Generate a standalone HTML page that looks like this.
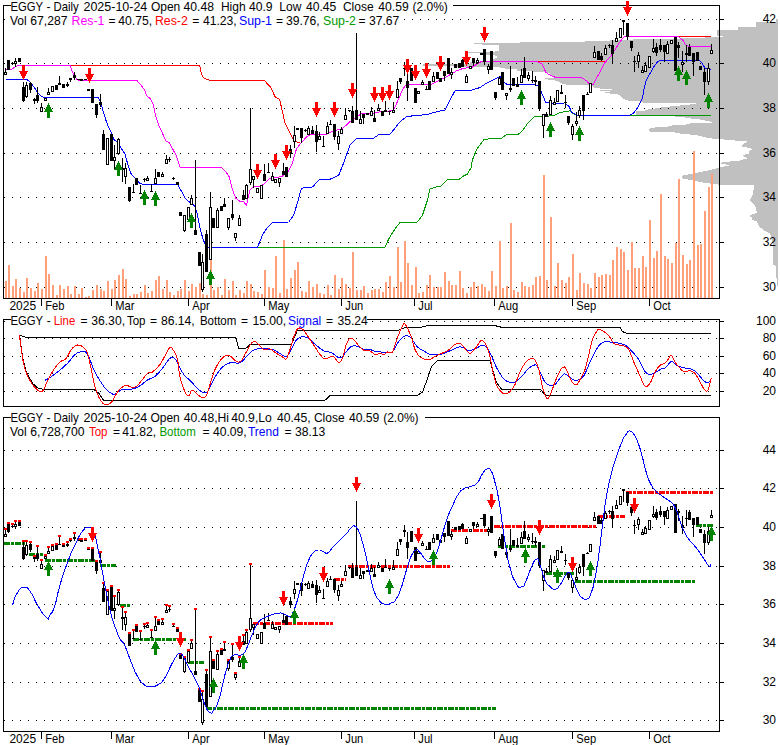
<!DOCTYPE html>
<html><head><meta charset="utf-8"><title>EGGY chart</title>
<style>html,body{margin:0;padding:0;background:#fff}svg{display:block}</style></head>
<body>
<svg width="780" height="745" viewBox="0 0 780 745" shape-rendering="crispEdges">
<rect width="780" height="745" fill="#fff"/>
<path d="M776 19H778V20H776ZM776 20H778V21H776ZM776 21H778V22H776ZM756 22H778V23H756ZM756 23H778V24H756ZM756 24H778V25H756ZM756 25H778V26H756ZM756 26H778V27H756ZM738 27H778V28H738ZM738 28H778V29H738ZM738 29H778V30H738ZM717 30H778V31H717ZM717 31H778V32H717ZM717 32H778V33H717ZM717 33H778V34H717ZM717 34H778V35H717ZM717 35H778V36H717ZM723 36H778V37H723ZM705 37H778V38H705ZM680 38H778V39H680ZM633 39H778V40H633ZM610 40H778V41H610ZM585 41H778V42H585ZM520 42H778V43H520ZM474 43H778V44H474ZM482 44H778V45H482ZM499 45H778V46H499ZM499 46H778V47H499ZM499 47H778V48H499ZM499 48H778V49H499ZM499 49H778V50H499ZM499 50H778V51H499ZM495 51H778V52H495ZM468 52H778V53H468ZM481 53H778V54H481ZM481 54H778V55H481ZM495 55H778V56H495ZM497 56H778V57H497ZM497 57H778V58H497ZM495 58H778V59H495ZM493 59H778V60H493ZM490 60H778V61H490ZM480 61H778V62H480ZM470 62H778V63H470ZM470 63H778V64H470ZM423 64H778V65H423ZM423 65H778V66H423ZM455 66H778V67H455ZM500 67H778V68H500ZM505 68H778V69H505ZM517 69H778V70H517ZM517 70H778V71H517ZM533 71H778V72H533ZM545 72H778V73H545ZM550 73H778V74H550ZM550 74H778V75H550ZM552 75H778V76H552ZM555 76H778V77H555ZM555 77H778V78H555ZM545 78H778V79H545ZM548 79H778V80H548ZM555 80H778V81H555ZM558 81H778V82H558ZM560 82H778V83H560ZM562 83H778V84H562ZM566 84H778V85H566ZM590 85H778V86H590ZM593 86H778V87H593ZM594 87H778V88H594ZM600 88H778V89H600ZM612 89H778V90H612ZM600 90H778V91H600ZM610 91H778V92H610ZM605 92H778V93H605ZM610 93H778V94H610ZM618 94H778V95H618ZM620 95H778V96H620ZM621 96H778V97H621ZM622 97H778V98H622ZM623 98H778V99H623ZM625 99H778V100H625ZM628 100H778V101H628ZM641 101H778V102H641ZM643 102H778V103H643ZM696 103H778V104H696ZM690 104H778V105H690ZM680 105H778V106H680ZM670 106H778V107H670ZM661 107H778V108H661ZM655 108H778V109H655ZM648 109H778V110H648ZM645 110H778V111H645ZM636 111H778V112H636ZM636 112H778V113H636ZM636 113H778V114H636ZM636 114H778V115H636ZM636 115H778V116H636ZM675 116H778V117H675ZM685 117H778V118H685ZM691 118H778V119H691ZM700 119H778V120H700ZM705 120H778V121H705ZM710 121H778V122H710ZM712 122H778V123H712ZM690 123H778V124H690ZM686 124H778V125H686ZM672 125H778V126H672ZM668 126H778V127H668ZM655 127H778V128H655ZM650 128H778V129H650ZM649 129H778V130H649ZM649 130H778V131H649ZM650 131H778V132H650ZM675 132H778V133H675ZM680 133H778V134H680ZM690 134H778V135H690ZM698 135H778V136H698ZM702 136H778V137H702ZM706 137H778V138H706ZM712 138H778V139H712ZM724 139H778V140H724ZM735 140H778V141H735ZM747 141H778V142H747ZM746 142H778V143H746ZM744 143H778V144H744ZM743 144H778V145H743ZM742 145H778V146H742ZM742 146H778V147H742ZM747 147H778V148H747ZM751 148H778V149H751ZM752 149H778V150H752ZM750 150H778V151H750ZM749 151H778V152H749ZM749 152H778V153H749ZM749 153H778V154H749ZM745 154H778V155H745ZM743 155H778V156H743ZM744 156H778V157H744ZM746 157H778V158H746ZM747 158H778V159H747ZM743 159H778V160H743ZM740 160H778V161H740ZM730 161H778V162H730ZM722 162H778V163H722ZM721 163H778V164H721ZM726 164H778V165H726ZM729 165H778V166H729ZM724 166H778V167H724ZM720 167H778V168H720ZM716 168H778V169H716ZM712 169H778V170H712ZM708 170H778V171H708ZM703 171H778V172H703ZM698 172H778V173H698ZM693 173H778V174H693ZM688 174H778V175H688ZM683 175H778V176H683ZM682 176H778V177H682ZM682 177H778V178H682ZM683 178H778V179H683ZM688 179H778V180H688ZM693 180H778V181H693ZM698 181H778V182H698ZM703 182H778V183H703ZM710 183H778V184H710ZM718 184H778V185H718ZM754 185H778V186H754ZM754 186H778V187H754ZM754 187H778V188H754ZM754 188H778V189H754ZM754 189H778V190H754ZM753 190H778V191H753ZM753 191H778V192H753ZM753 192H778V193H753ZM753 193H778V194H753ZM753 194H778V195H753ZM752 195H778V196H752ZM752 196H778V197H752ZM751 197H778V198H751ZM751 198H778V199H751ZM750 199H778V200H750ZM750 200H778V201H750ZM751 201H778V202H751ZM752 202H778V203H752ZM753 203H778V204H753ZM754 204H778V205H754ZM755 205H778V206H755ZM755 206H778V207H755ZM756 207H778V208H756ZM756 208H778V209H756ZM756 209H778V210H756ZM756 210H778V211H756ZM757 211H778V212H757ZM757 212H778V213H757ZM755 213H778V214H755ZM752 214H778V215H752ZM750 215H778V216H750ZM750 216H778V217H750ZM752 217H778V218H752ZM752 218H778V219H752ZM752 219H778V220H752ZM754 220H778V221H754ZM757 221H778V222H757ZM757 222H778V223H757ZM758 223H778V224H758ZM758 224H778V225H758ZM759 225H778V226H759ZM759 226H778V227H759ZM760 227H778V228H760ZM762 228H778V229H762ZM763 229H778V230H763ZM764 230H778V231H764ZM766 231H778V232H766ZM768 232H778V233H768ZM770 233H778V234H770ZM770 234H778V235H770ZM771 235H778V236H771ZM771 236H778V237H771ZM772 237H778V238H772ZM772 238H778V239H772ZM772 239H778V240H772ZM772 240H778V241H772ZM772 241H778V242H772ZM772 242H778V243H772ZM773 243H778V244H773ZM773 244H778V245H773ZM773 245H778V246H773ZM773 246H778V247H773ZM773 247H778V248H773ZM773 248H778V249H773ZM773 249H778V250H773ZM773 250H778V251H773ZM773 251H778V252H773ZM773 252H778V253H773ZM773 253H778V254H773ZM773 254H778V255H773ZM773 255H778V256H773ZM773 256H778V257H773ZM773 257H778V258H773ZM773 258H778V259H773ZM773 259H778V260H773ZM773 260H778V261H773ZM773 261H778V262H773ZM773 262H778V263H773ZM773 263H778V264H773ZM773 264H778V265H773ZM775 265H778V266H775ZM776 266H778V267H776ZM776 267H778V268H776ZM776 268H778V269H776ZM776 269H778V270H776ZM776 270H778V271H776ZM776 271H778V272H776ZM776 272H778V273H776ZM776 273H778V274H776ZM776 274H778V275H776ZM776 275H778V276H776ZM776 276H778V277H776ZM776 277H778V278H776ZM777 278H778V279H777ZM777 279H778V280H777ZM777 280H778V281H777ZM777 281H778V282H777ZM777 282H778V283H777ZM777 283H778V284H777ZM777 284H778V285H777ZM777 285H778V286H777Z" fill="#c0c0c0"/>
<rect x="3.00" y="5.00" width="8.00" height="1.00" fill="#000" />
<rect x="453.00" y="5.00" width="267.00" height="1.00" fill="#000" />
<rect x="3.00" y="5.00" width="1.00" height="294.00" fill="#000" />
<rect x="719.00" y="5.00" width="1.00" height="294.00" fill="#000" />
<rect x="3.00" y="298.00" width="717.00" height="1.00" fill="#000" />
<rect x="10.00" y="12.00" width="391.00" height="14.00" fill="#fff" />
<path d="M404 19.5h1M412 19.5h1M420 19.5h1M428 19.5h1M436 19.5h1M444 19.5h1M452 19.5h1M460 19.5h1M468 19.5h1M476 19.5h1M484 19.5h1M492 19.5h1M500 19.5h1M508 19.5h1M516 19.5h1M524 19.5h1M532 19.5h1M540 19.5h1M548 19.5h1M556 19.5h1M564 19.5h1M572 19.5h1M580 19.5h1M588 19.5h1M596 19.5h1M604 19.5h1M612 19.5h1M620 19.5h1M628 19.5h1M636 19.5h1M644 19.5h1M652 19.5h1M660 19.5h1M668 19.5h1M676 19.5h1M684 19.5h1M692 19.5h1M700 19.5h1M708 19.5h1M716 19.5h1" stroke="#000" stroke-width="1" fill="none"/>
<rect x="4.00" y="19.00" width="1.00" height="1.00" fill="#000" />
<rect x="720.00" y="19.00" width="4.00" height="1.00" fill="#000" />
<path d="M12 63.5h1M20 63.5h1M28 63.5h1M36 63.5h1M44 63.5h1M52 63.5h1M60 63.5h1M68 63.5h1M76 63.5h1M84 63.5h1M92 63.5h1M100 63.5h1M108 63.5h1M116 63.5h1M124 63.5h1M132 63.5h1M140 63.5h1M148 63.5h1M156 63.5h1M164 63.5h1M172 63.5h1M180 63.5h1M188 63.5h1M196 63.5h1M204 63.5h1M212 63.5h1M220 63.5h1M228 63.5h1M236 63.5h1M244 63.5h1M252 63.5h1M260 63.5h1M268 63.5h1M276 63.5h1M284 63.5h1M292 63.5h1M300 63.5h1M308 63.5h1M316 63.5h1M324 63.5h1M332 63.5h1M340 63.5h1M348 63.5h1M356 63.5h1M364 63.5h1M372 63.5h1M380 63.5h1M388 63.5h1M396 63.5h1M404 63.5h1M412 63.5h1M420 63.5h1M428 63.5h1M436 63.5h1M444 63.5h1M452 63.5h1M460 63.5h1M468 63.5h1M476 63.5h1M484 63.5h1M492 63.5h1M500 63.5h1M508 63.5h1M516 63.5h1M524 63.5h1M532 63.5h1M540 63.5h1M548 63.5h1M556 63.5h1M564 63.5h1M572 63.5h1M580 63.5h1M588 63.5h1M596 63.5h1M604 63.5h1M612 63.5h1M620 63.5h1M628 63.5h1M636 63.5h1M644 63.5h1M652 63.5h1M660 63.5h1M668 63.5h1M676 63.5h1M684 63.5h1M692 63.5h1M700 63.5h1M708 63.5h1M716 63.5h1" stroke="#000" stroke-width="1" fill="none"/>
<rect x="4.00" y="63.00" width="1.00" height="1.00" fill="#000" />
<rect x="720.00" y="63.00" width="4.00" height="1.00" fill="#000" />
<path d="M12 108.5h1M20 108.5h1M28 108.5h1M36 108.5h1M44 108.5h1M52 108.5h1M60 108.5h1M68 108.5h1M76 108.5h1M84 108.5h1M92 108.5h1M100 108.5h1M108 108.5h1M116 108.5h1M124 108.5h1M132 108.5h1M140 108.5h1M148 108.5h1M156 108.5h1M164 108.5h1M172 108.5h1M180 108.5h1M188 108.5h1M196 108.5h1M204 108.5h1M212 108.5h1M220 108.5h1M228 108.5h1M236 108.5h1M244 108.5h1M252 108.5h1M260 108.5h1M268 108.5h1M276 108.5h1M284 108.5h1M292 108.5h1M300 108.5h1M308 108.5h1M316 108.5h1M324 108.5h1M332 108.5h1M340 108.5h1M348 108.5h1M356 108.5h1M364 108.5h1M372 108.5h1M380 108.5h1M388 108.5h1M396 108.5h1M404 108.5h1M412 108.5h1M420 108.5h1M428 108.5h1M436 108.5h1M444 108.5h1M452 108.5h1M460 108.5h1M468 108.5h1M476 108.5h1M484 108.5h1M492 108.5h1M500 108.5h1M508 108.5h1M516 108.5h1M524 108.5h1M532 108.5h1M540 108.5h1M548 108.5h1M556 108.5h1M564 108.5h1M572 108.5h1M580 108.5h1M588 108.5h1M596 108.5h1M604 108.5h1M612 108.5h1M620 108.5h1M628 108.5h1M636 108.5h1M644 108.5h1M652 108.5h1M660 108.5h1M668 108.5h1M676 108.5h1M684 108.5h1M692 108.5h1M700 108.5h1M708 108.5h1M716 108.5h1" stroke="#000" stroke-width="1" fill="none"/>
<rect x="4.00" y="108.00" width="1.00" height="1.00" fill="#000" />
<rect x="720.00" y="108.00" width="4.00" height="1.00" fill="#000" />
<path d="M12 153.5h1M20 153.5h1M28 153.5h1M36 153.5h1M44 153.5h1M52 153.5h1M60 153.5h1M68 153.5h1M76 153.5h1M84 153.5h1M92 153.5h1M100 153.5h1M108 153.5h1M116 153.5h1M124 153.5h1M132 153.5h1M140 153.5h1M148 153.5h1M156 153.5h1M164 153.5h1M172 153.5h1M180 153.5h1M188 153.5h1M196 153.5h1M204 153.5h1M212 153.5h1M220 153.5h1M228 153.5h1M236 153.5h1M244 153.5h1M252 153.5h1M260 153.5h1M268 153.5h1M276 153.5h1M284 153.5h1M292 153.5h1M300 153.5h1M308 153.5h1M316 153.5h1M324 153.5h1M332 153.5h1M340 153.5h1M348 153.5h1M356 153.5h1M364 153.5h1M372 153.5h1M380 153.5h1M388 153.5h1M396 153.5h1M404 153.5h1M412 153.5h1M420 153.5h1M428 153.5h1M436 153.5h1M444 153.5h1M452 153.5h1M460 153.5h1M468 153.5h1M476 153.5h1M484 153.5h1M492 153.5h1M500 153.5h1M508 153.5h1M516 153.5h1M524 153.5h1M532 153.5h1M540 153.5h1M548 153.5h1M556 153.5h1M564 153.5h1M572 153.5h1M580 153.5h1M588 153.5h1M596 153.5h1M604 153.5h1M612 153.5h1M620 153.5h1M628 153.5h1M636 153.5h1M644 153.5h1M652 153.5h1M660 153.5h1M668 153.5h1M676 153.5h1M684 153.5h1M692 153.5h1M700 153.5h1M708 153.5h1M716 153.5h1" stroke="#000" stroke-width="1" fill="none"/>
<rect x="4.00" y="153.00" width="1.00" height="1.00" fill="#000" />
<rect x="720.00" y="153.00" width="4.00" height="1.00" fill="#000" />
<path d="M12 197.5h1M20 197.5h1M28 197.5h1M36 197.5h1M44 197.5h1M52 197.5h1M60 197.5h1M68 197.5h1M76 197.5h1M84 197.5h1M92 197.5h1M100 197.5h1M108 197.5h1M116 197.5h1M124 197.5h1M132 197.5h1M140 197.5h1M148 197.5h1M156 197.5h1M164 197.5h1M172 197.5h1M180 197.5h1M188 197.5h1M196 197.5h1M204 197.5h1M212 197.5h1M220 197.5h1M228 197.5h1M236 197.5h1M244 197.5h1M252 197.5h1M260 197.5h1M268 197.5h1M276 197.5h1M284 197.5h1M292 197.5h1M300 197.5h1M308 197.5h1M316 197.5h1M324 197.5h1M332 197.5h1M340 197.5h1M348 197.5h1M356 197.5h1M364 197.5h1M372 197.5h1M380 197.5h1M388 197.5h1M396 197.5h1M404 197.5h1M412 197.5h1M420 197.5h1M428 197.5h1M436 197.5h1M444 197.5h1M452 197.5h1M460 197.5h1M468 197.5h1M476 197.5h1M484 197.5h1M492 197.5h1M500 197.5h1M508 197.5h1M516 197.5h1M524 197.5h1M532 197.5h1M540 197.5h1M548 197.5h1M556 197.5h1M564 197.5h1M572 197.5h1M580 197.5h1M588 197.5h1M596 197.5h1M604 197.5h1M612 197.5h1M620 197.5h1M628 197.5h1M636 197.5h1M644 197.5h1M652 197.5h1M660 197.5h1M668 197.5h1M676 197.5h1M684 197.5h1M692 197.5h1M700 197.5h1M708 197.5h1M716 197.5h1" stroke="#000" stroke-width="1" fill="none"/>
<rect x="4.00" y="197.00" width="1.00" height="1.00" fill="#000" />
<rect x="720.00" y="197.00" width="4.00" height="1.00" fill="#000" />
<path d="M12 242.5h1M20 242.5h1M28 242.5h1M36 242.5h1M44 242.5h1M52 242.5h1M60 242.5h1M68 242.5h1M76 242.5h1M84 242.5h1M92 242.5h1M100 242.5h1M108 242.5h1M116 242.5h1M124 242.5h1M132 242.5h1M140 242.5h1M148 242.5h1M156 242.5h1M164 242.5h1M172 242.5h1M180 242.5h1M188 242.5h1M196 242.5h1M204 242.5h1M212 242.5h1M220 242.5h1M228 242.5h1M236 242.5h1M244 242.5h1M252 242.5h1M260 242.5h1M268 242.5h1M276 242.5h1M284 242.5h1M292 242.5h1M300 242.5h1M308 242.5h1M316 242.5h1M324 242.5h1M332 242.5h1M340 242.5h1M348 242.5h1M356 242.5h1M364 242.5h1M372 242.5h1M380 242.5h1M388 242.5h1M396 242.5h1M404 242.5h1M412 242.5h1M420 242.5h1M428 242.5h1M436 242.5h1M444 242.5h1M452 242.5h1M460 242.5h1M468 242.5h1M476 242.5h1M484 242.5h1M492 242.5h1M500 242.5h1M508 242.5h1M516 242.5h1M524 242.5h1M532 242.5h1M540 242.5h1M548 242.5h1M556 242.5h1M564 242.5h1M572 242.5h1M580 242.5h1M588 242.5h1M596 242.5h1M604 242.5h1M612 242.5h1M620 242.5h1M628 242.5h1M636 242.5h1M644 242.5h1M652 242.5h1M660 242.5h1M668 242.5h1M676 242.5h1M684 242.5h1M692 242.5h1M700 242.5h1M708 242.5h1M716 242.5h1" stroke="#000" stroke-width="1" fill="none"/>
<rect x="4.00" y="242.00" width="1.00" height="1.00" fill="#000" />
<rect x="720.00" y="242.00" width="4.00" height="1.00" fill="#000" />
<path d="M12 287.5h1M20 287.5h1M28 287.5h1M36 287.5h1M44 287.5h1M52 287.5h1M60 287.5h1M68 287.5h1M76 287.5h1M84 287.5h1M92 287.5h1M100 287.5h1M108 287.5h1M116 287.5h1M124 287.5h1M132 287.5h1M140 287.5h1M148 287.5h1M156 287.5h1M164 287.5h1M172 287.5h1M180 287.5h1M188 287.5h1M196 287.5h1M204 287.5h1M212 287.5h1M220 287.5h1M228 287.5h1M236 287.5h1M244 287.5h1M252 287.5h1M260 287.5h1M268 287.5h1M276 287.5h1M284 287.5h1M292 287.5h1M300 287.5h1M308 287.5h1M316 287.5h1M324 287.5h1M332 287.5h1M340 287.5h1M348 287.5h1M356 287.5h1M364 287.5h1M372 287.5h1M380 287.5h1M388 287.5h1M396 287.5h1M404 287.5h1M412 287.5h1M420 287.5h1M428 287.5h1M436 287.5h1M444 287.5h1M452 287.5h1M460 287.5h1M468 287.5h1M476 287.5h1M484 287.5h1M492 287.5h1M500 287.5h1M508 287.5h1M516 287.5h1M524 287.5h1M532 287.5h1M540 287.5h1M548 287.5h1M556 287.5h1M564 287.5h1M572 287.5h1M580 287.5h1M588 287.5h1M596 287.5h1M604 287.5h1M612 287.5h1M620 287.5h1M628 287.5h1M636 287.5h1M644 287.5h1M652 287.5h1M660 287.5h1M668 287.5h1M676 287.5h1M684 287.5h1M692 287.5h1M700 287.5h1M708 287.5h1M716 287.5h1" stroke="#000" stroke-width="1" fill="none"/>
<rect x="4.00" y="287.00" width="1.00" height="1.00" fill="#000" />
<rect x="720.00" y="287.00" width="4.00" height="1.00" fill="#000" />
<rect x="4.50" y="280.60" width="2.00" height="17.40" fill="#ffa07a" />
<rect x="7.50" y="264.60" width="2.00" height="33.40" fill="#ffa07a" />
<rect x="11.50" y="285.60" width="2.00" height="12.40" fill="#ffa07a" />
<rect x="14.50" y="278.60" width="2.00" height="19.40" fill="#ffa07a" />
<rect x="18.50" y="287.60" width="2.00" height="10.40" fill="#ffa07a" />
<rect x="22.50" y="291.60" width="2.00" height="6.40" fill="#ffa07a" />
<rect x="25.50" y="277.60" width="2.00" height="20.40" fill="#ffa07a" />
<rect x="29.50" y="287.60" width="2.00" height="10.40" fill="#ffa07a" />
<rect x="33.50" y="290.60" width="2.00" height="7.40" fill="#ffa07a" />
<rect x="36.50" y="282.60" width="2.00" height="15.40" fill="#ffa07a" />
<rect x="40.50" y="288.60" width="2.00" height="9.40" fill="#ffa07a" />
<rect x="44.50" y="255.60" width="2.00" height="42.40" fill="#ffa07a" />
<rect x="47.50" y="273.60" width="2.00" height="24.40" fill="#ffa07a" />
<rect x="51.50" y="284.60" width="2.00" height="13.40" fill="#ffa07a" />
<rect x="55.50" y="294.60" width="2.00" height="3.40" fill="#ffa07a" />
<rect x="58.50" y="284.60" width="2.00" height="13.40" fill="#ffa07a" />
<rect x="62.50" y="288.60" width="2.00" height="9.40" fill="#ffa07a" />
<rect x="66.50" y="285.60" width="2.00" height="12.40" fill="#ffa07a" />
<rect x="69.50" y="293.60" width="2.00" height="4.40" fill="#ffa07a" />
<rect x="73.50" y="285.60" width="2.00" height="12.40" fill="#ffa07a" />
<rect x="77.50" y="293.60" width="2.00" height="4.40" fill="#ffa07a" />
<rect x="80.50" y="287.60" width="2.00" height="10.40" fill="#ffa07a" />
<rect x="84.50" y="296.60" width="2.00" height="1.40" fill="#ffa07a" />
<rect x="87.50" y="295.60" width="2.00" height="2.40" fill="#ffa07a" />
<rect x="91.50" y="289.60" width="2.00" height="8.40" fill="#ffa07a" />
<rect x="95.50" y="284.60" width="2.00" height="13.40" fill="#ffa07a" />
<rect x="99.50" y="288.60" width="2.00" height="9.40" fill="#ffa07a" />
<rect x="102.50" y="290.60" width="2.00" height="7.40" fill="#ffa07a" />
<rect x="106.50" y="280.60" width="2.00" height="17.40" fill="#ffa07a" />
<rect x="110.50" y="288.60" width="2.00" height="9.40" fill="#ffa07a" />
<rect x="113.50" y="279.60" width="2.00" height="18.40" fill="#ffa07a" />
<rect x="117.50" y="274.60" width="2.00" height="23.40" fill="#ffa07a" />
<rect x="121.50" y="268.60" width="2.00" height="29.40" fill="#ffa07a" />
<rect x="124.50" y="278.60" width="2.00" height="19.40" fill="#ffa07a" />
<rect x="128.50" y="295.60" width="2.00" height="2.40" fill="#ffa07a" />
<rect x="132.50" y="293.60" width="2.00" height="4.40" fill="#ffa07a" />
<rect x="135.50" y="293.60" width="2.00" height="4.40" fill="#ffa07a" />
<rect x="139.50" y="291.60" width="2.00" height="6.40" fill="#ffa07a" />
<rect x="143.50" y="284.60" width="2.00" height="13.40" fill="#ffa07a" />
<rect x="146.50" y="292.60" width="2.00" height="5.40" fill="#ffa07a" />
<rect x="150.50" y="290.60" width="2.00" height="7.40" fill="#ffa07a" />
<rect x="154.50" y="279.60" width="2.00" height="18.40" fill="#ffa07a" />
<rect x="157.50" y="275.90" width="2.00" height="22.10" fill="#ffa07a" />
<rect x="161.50" y="288.90" width="2.00" height="9.10" fill="#ffa07a" />
<rect x="165.50" y="279.70" width="2.00" height="18.30" fill="#ffa07a" />
<rect x="168.50" y="291.70" width="2.00" height="6.30" fill="#ffa07a" />
<rect x="172.50" y="294.70" width="2.00" height="3.30" fill="#ffa07a" />
<rect x="176.50" y="290.90" width="2.00" height="7.10" fill="#ffa07a" />
<rect x="179.50" y="288.90" width="2.00" height="9.10" fill="#ffa07a" />
<rect x="183.50" y="279.70" width="2.00" height="18.30" fill="#ffa07a" />
<rect x="187.50" y="290.90" width="2.00" height="7.10" fill="#ffa07a" />
<rect x="190.50" y="283.50" width="2.00" height="14.50" fill="#ffa07a" />
<rect x="194.50" y="287.20" width="2.00" height="10.80" fill="#ffa07a" />
<rect x="198.50" y="283.00" width="2.00" height="15.00" fill="#ffa07a" />
<rect x="201.50" y="293.90" width="2.00" height="4.10" fill="#ffa07a" />
<rect x="205.50" y="294.70" width="2.00" height="3.30" fill="#ffa07a" />
<rect x="209.50" y="259.70" width="2.00" height="38.30" fill="#ffa07a" />
<rect x="212.50" y="289.70" width="2.00" height="8.30" fill="#ffa07a" />
<rect x="216.50" y="286.90" width="2.00" height="11.10" fill="#ffa07a" />
<rect x="220.50" y="294.70" width="2.00" height="3.30" fill="#ffa07a" />
<rect x="223.50" y="278.90" width="2.00" height="19.10" fill="#ffa07a" />
<rect x="227.50" y="289.70" width="2.00" height="8.30" fill="#ffa07a" />
<rect x="231.50" y="281.40" width="2.00" height="16.60" fill="#ffa07a" />
<rect x="234.50" y="294.70" width="2.00" height="3.30" fill="#ffa07a" />
<rect x="238.50" y="289.70" width="2.00" height="8.30" fill="#ffa07a" />
<rect x="242.50" y="293.00" width="2.00" height="5.00" fill="#ffa07a" />
<rect x="245.50" y="280.50" width="2.00" height="17.50" fill="#ffa07a" />
<rect x="249.50" y="283.90" width="2.00" height="14.10" fill="#ffa07a" />
<rect x="252.50" y="290.90" width="2.00" height="7.10" fill="#ffa07a" />
<rect x="256.50" y="291.90" width="2.00" height="6.10" fill="#ffa07a" />
<rect x="260.50" y="293.90" width="2.00" height="4.10" fill="#ffa07a" />
<rect x="263.50" y="269.70" width="2.00" height="28.30" fill="#ffa07a" />
<rect x="267.50" y="286.90" width="2.00" height="11.10" fill="#ffa07a" />
<rect x="271.50" y="287.50" width="2.00" height="10.50" fill="#ffa07a" />
<rect x="274.50" y="255.90" width="2.00" height="42.10" fill="#ffa07a" />
<rect x="278.50" y="293.00" width="2.00" height="5.00" fill="#ffa07a" />
<rect x="282.50" y="239.70" width="2.00" height="58.30" fill="#ffa07a" />
<rect x="285.50" y="288.50" width="2.00" height="9.50" fill="#ffa07a" />
<rect x="289.50" y="277.70" width="2.00" height="20.30" fill="#ffa07a" />
<rect x="293.50" y="269.70" width="2.00" height="28.30" fill="#ffa07a" />
<rect x="296.50" y="261.70" width="2.00" height="36.30" fill="#ffa07a" />
<rect x="300.50" y="291.00" width="2.00" height="7.00" fill="#ffa07a" />
<rect x="304.50" y="291.70" width="2.00" height="6.30" fill="#ffa07a" />
<rect x="307.50" y="280.50" width="2.00" height="17.50" fill="#ffa07a" />
<rect x="311.50" y="287.20" width="2.00" height="10.80" fill="#ffa07a" />
<rect x="315.50" y="283.50" width="2.00" height="14.50" fill="#ffa07a" />
<rect x="318.50" y="292.70" width="2.00" height="5.30" fill="#ffa07a" />
<rect x="322.50" y="293.50" width="2.00" height="4.50" fill="#ffa07a" />
<rect x="326.50" y="284.70" width="2.00" height="13.30" fill="#ffa07a" />
<rect x="329.50" y="294.70" width="2.00" height="3.30" fill="#ffa07a" />
<rect x="333.50" y="274.70" width="2.00" height="23.30" fill="#ffa07a" />
<rect x="337.50" y="288.50" width="2.00" height="9.50" fill="#ffa07a" />
<rect x="340.50" y="277.70" width="2.00" height="20.30" fill="#ffa07a" />
<rect x="344.50" y="283.50" width="2.00" height="14.50" fill="#ffa07a" />
<rect x="348.50" y="287.70" width="2.00" height="10.30" fill="#ffa07a" />
<rect x="351.50" y="251.70" width="2.00" height="46.30" fill="#ffa07a" />
<rect x="355.50" y="289.70" width="2.00" height="8.30" fill="#ffa07a" />
<rect x="359.50" y="289.70" width="2.00" height="8.30" fill="#ffa07a" />
<rect x="362.50" y="286.00" width="2.00" height="12.00" fill="#ffa07a" />
<rect x="366.50" y="292.70" width="2.00" height="5.30" fill="#ffa07a" />
<rect x="370.50" y="289.70" width="2.00" height="8.30" fill="#ffa07a" />
<rect x="373.50" y="288.50" width="2.00" height="9.50" fill="#ffa07a" />
<rect x="377.50" y="288.50" width="2.00" height="9.50" fill="#ffa07a" />
<rect x="381.50" y="292.20" width="2.00" height="5.80" fill="#ffa07a" />
<rect x="384.50" y="281.70" width="2.00" height="16.30" fill="#ffa07a" />
<rect x="388.50" y="276.00" width="2.00" height="22.00" fill="#ffa07a" />
<rect x="392.50" y="286.70" width="2.00" height="11.30" fill="#ffa07a" />
<rect x="396.50" y="246.70" width="2.00" height="51.30" fill="#ffa07a" />
<rect x="399.50" y="281.50" width="2.00" height="16.50" fill="#ffa07a" />
<rect x="403.50" y="241.00" width="2.00" height="57.00" fill="#ffa07a" />
<rect x="406.50" y="262.70" width="2.00" height="35.30" fill="#ffa07a" />
<rect x="410.50" y="284.70" width="2.00" height="13.30" fill="#ffa07a" />
<rect x="414.50" y="266.50" width="2.00" height="31.50" fill="#ffa07a" />
<rect x="417.50" y="292.70" width="2.00" height="5.30" fill="#ffa07a" />
<rect x="421.50" y="291.70" width="2.00" height="6.30" fill="#ffa07a" />
<rect x="425.50" y="284.70" width="2.00" height="13.30" fill="#ffa07a" />
<rect x="428.50" y="274.70" width="2.00" height="23.30" fill="#ffa07a" />
<rect x="432.50" y="286.70" width="2.00" height="11.30" fill="#ffa07a" />
<rect x="436.50" y="287.20" width="2.00" height="10.80" fill="#ffa07a" />
<rect x="439.50" y="286.70" width="2.00" height="11.30" fill="#ffa07a" />
<rect x="443.50" y="271.70" width="2.00" height="26.30" fill="#ffa07a" />
<rect x="447.50" y="281.00" width="2.00" height="17.00" fill="#ffa07a" />
<rect x="450.50" y="285.00" width="2.00" height="13.00" fill="#ffa07a" />
<rect x="454.50" y="285.00" width="2.00" height="13.00" fill="#ffa07a" />
<rect x="458.50" y="271.00" width="2.00" height="27.00" fill="#ffa07a" />
<rect x="461.50" y="288.00" width="2.00" height="10.00" fill="#ffa07a" />
<rect x="465.50" y="293.00" width="2.00" height="5.00" fill="#ffa07a" />
<rect x="469.50" y="287.00" width="2.00" height="11.00" fill="#ffa07a" />
<rect x="472.50" y="282.00" width="2.00" height="16.00" fill="#ffa07a" />
<rect x="476.50" y="286.00" width="2.00" height="12.00" fill="#ffa07a" />
<rect x="480.50" y="284.00" width="2.00" height="14.00" fill="#ffa07a" />
<rect x="483.50" y="287.00" width="2.00" height="11.00" fill="#ffa07a" />
<rect x="487.50" y="291.00" width="2.00" height="7.00" fill="#ffa07a" />
<rect x="490.50" y="271.00" width="2.00" height="27.00" fill="#ffa07a" />
<rect x="494.50" y="286.00" width="2.00" height="12.00" fill="#ffa07a" />
<rect x="498.50" y="241.00" width="2.00" height="57.00" fill="#ffa07a" />
<rect x="501.50" y="288.00" width="2.00" height="10.00" fill="#ffa07a" />
<rect x="505.50" y="286.00" width="2.00" height="12.00" fill="#ffa07a" />
<rect x="509.50" y="223.00" width="2.00" height="75.00" fill="#ffa07a" />
<rect x="512.50" y="290.00" width="2.00" height="8.00" fill="#ffa07a" />
<rect x="516.50" y="292.00" width="2.00" height="6.00" fill="#ffa07a" />
<rect x="520.50" y="282.00" width="2.00" height="16.00" fill="#ffa07a" />
<rect x="523.50" y="286.00" width="2.00" height="12.00" fill="#ffa07a" />
<rect x="527.50" y="287.00" width="2.00" height="11.00" fill="#ffa07a" />
<rect x="531.50" y="285.00" width="2.00" height="13.00" fill="#ffa07a" />
<rect x="534.50" y="277.00" width="2.00" height="21.00" fill="#ffa07a" />
<rect x="538.50" y="276.00" width="2.00" height="22.00" fill="#ffa07a" />
<rect x="542.50" y="175.00" width="2.00" height="123.00" fill="#ffa07a" />
<rect x="545.50" y="280.00" width="2.00" height="18.00" fill="#ffa07a" />
<rect x="549.50" y="217.00" width="2.00" height="81.00" fill="#ffa07a" />
<rect x="553.50" y="286.00" width="2.00" height="12.00" fill="#ffa07a" />
<rect x="556.50" y="263.00" width="2.00" height="35.00" fill="#ffa07a" />
<rect x="560.50" y="280.00" width="2.00" height="18.00" fill="#ffa07a" />
<rect x="564.50" y="283.00" width="2.00" height="15.00" fill="#ffa07a" />
<rect x="567.50" y="277.00" width="2.00" height="21.00" fill="#ffa07a" />
<rect x="571.50" y="254.00" width="2.00" height="44.00" fill="#ffa07a" />
<rect x="575.50" y="290.00" width="2.00" height="8.00" fill="#ffa07a" />
<rect x="578.50" y="273.00" width="2.00" height="25.00" fill="#ffa07a" />
<rect x="582.50" y="283.00" width="2.00" height="15.00" fill="#ffa07a" />
<rect x="586.50" y="284.00" width="2.00" height="14.00" fill="#ffa07a" />
<rect x="589.50" y="288.00" width="2.00" height="10.00" fill="#ffa07a" />
<rect x="593.50" y="273.00" width="2.00" height="25.00" fill="#ffa07a" />
<rect x="597.50" y="277.10" width="2.00" height="20.90" fill="#ffa07a" />
<rect x="600.50" y="275.30" width="2.00" height="22.70" fill="#ffa07a" />
<rect x="604.50" y="274.20" width="2.00" height="23.80" fill="#ffa07a" />
<rect x="608.50" y="274.90" width="2.00" height="23.10" fill="#ffa07a" />
<rect x="611.50" y="260.10" width="2.00" height="37.90" fill="#ffa07a" />
<rect x="615.50" y="247.00" width="2.00" height="51.00" fill="#ffa07a" />
<rect x="619.50" y="249.20" width="2.00" height="48.80" fill="#ffa07a" />
<rect x="622.50" y="252.20" width="2.00" height="45.80" fill="#ffa07a" />
<rect x="626.50" y="269.90" width="2.00" height="28.10" fill="#ffa07a" />
<rect x="630.50" y="242.00" width="2.00" height="56.00" fill="#ffa07a" />
<rect x="633.50" y="268.10" width="2.00" height="29.90" fill="#ffa07a" />
<rect x="637.50" y="268.10" width="2.00" height="29.90" fill="#ffa07a" />
<rect x="641.50" y="256.00" width="2.00" height="42.00" fill="#ffa07a" />
<rect x="644.50" y="266.90" width="2.00" height="31.10" fill="#ffa07a" />
<rect x="648.50" y="220.00" width="2.00" height="78.00" fill="#ffa07a" />
<rect x="652.50" y="257.90" width="2.00" height="40.10" fill="#ffa07a" />
<rect x="655.50" y="251.10" width="2.00" height="46.90" fill="#ffa07a" />
<rect x="659.50" y="193.90" width="2.00" height="104.10" fill="#ffa07a" />
<rect x="663.50" y="256.00" width="2.00" height="42.00" fill="#ffa07a" />
<rect x="666.50" y="259.00" width="2.00" height="39.00" fill="#ffa07a" />
<rect x="670.50" y="263.10" width="2.00" height="34.90" fill="#ffa07a" />
<rect x="674.50" y="242.70" width="2.00" height="55.30" fill="#ffa07a" />
<rect x="677.50" y="179.00" width="2.00" height="119.00" fill="#ffa07a" />
<rect x="681.50" y="255.10" width="2.00" height="42.90" fill="#ffa07a" />
<rect x="685.50" y="264.00" width="2.00" height="34.00" fill="#ffa07a" />
<rect x="688.50" y="260.10" width="2.00" height="37.90" fill="#ffa07a" />
<rect x="692.50" y="150.80" width="2.00" height="147.20" fill="#ffa07a" />
<rect x="696.50" y="244.90" width="2.00" height="53.10" fill="#ffa07a" />
<rect x="699.50" y="244.30" width="2.00" height="53.70" fill="#ffa07a" />
<rect x="703.50" y="210.90" width="2.00" height="87.10" fill="#ffa07a" />
<rect x="707.50" y="186.90" width="2.00" height="111.10" fill="#ffa07a" />
<rect x="710.50" y="174.00" width="2.00" height="124.00" fill="#ffa07a" />
<polyline points="257.5,247.3 385.0,247.3 388.8,238.8 395.0,228.8 400.0,222.5 417.5,222.0 422.5,215.0 427.5,200.0 430.0,188.8 435.0,187.3 441.0,186.0 445.0,182.0 448.0,179.4 459.0,179.4 464.0,175.6 467.0,174.4 471.0,168.0 472.4,160.0 476.7,149.2 484.2,139.2 501.7,138.3 506.7,134.2 518.3,134.2 521.7,131.7 528.3,122.5 534.2,116.7 553.3,115.8 560.0,112.5 570.0,110.8 573.0,113.5 576.7,115.0 580.0,115.3 710.8,115.3" fill="none" stroke="#009900" stroke-width="1" />
<polyline points="5.5,79.5 26.7,79.5 30.8,82.5 34.2,87.5 38.3,93.3 41.7,96.7 45.0,97.5 98.3,97.5 100.8,102.5 103.3,111.7 105.8,120.0 108.3,126.7 111.7,133.3 114.2,140.0 117.5,141.7 120.8,147.5 125.0,154.2 127.5,163.3 130.8,173.3 135.8,179.2 140.0,183.3 143.0,184.2 177.5,184.2 181.7,191.7 185.0,198.3 190.0,202.5 194.7,205.8 197.5,215.0 200.0,228.3 203.3,240.0 205.8,245.0 208.3,247.3 257.5,247.3 262.5,235.0 267.0,228.0 272.5,222.3 288.8,222.0 293.8,215.0 297.5,202.5 301.3,188.8 303.8,187.5 312.5,187.0 318.8,180.0 330.0,179.3 338.8,175.0 343.8,162.5 350.0,145.0 356.3,139.0 373.3,138.3 378.5,134.8 390.0,134.2 395.0,128.3 400.0,121.7 406.7,116.7 415.0,115.5 426.7,114.7 433.3,112.5 445.0,110.0 450.0,100.0 455.0,90.8 470.8,90.5 480.0,87.5 485.0,84.2 493.3,80.0 500.0,76.3 502.5,81.7 506.7,84.2 533.3,84.5 538.3,85.8 540.8,90.8 543.3,96.7 545.8,102.5 555.0,103.3 565.0,103.0 569.2,106.7 571.7,112.5 576.7,115.0 580.0,115.3 629.2,115.3 633.3,113.3 638.3,106.7 642.5,98.3 643.7,90.0 645.8,81.7 649.2,75.0 653.3,67.5 657.5,61.7 660.8,60.3 699.2,60.3 702.5,63.3 703.3,65.8 705.8,68.7 710.8,69.5" fill="none" stroke="#0000ff" stroke-width="1" />
<polyline points="70.0,65.3 199.7,65.3 200.8,71.7 202.5,76.7 205.0,78.5 209.2,80.2 264.2,80.3 270.8,87.5 275.0,96.7 279.5,99.2 281.7,108.3 285.0,123.3 290.0,133.3 294.2,140.8 300.8,143.3" fill="none" stroke="#ff0000" stroke-width="1" />
<polyline points="536.7,61.3 605.8,61.3" fill="none" stroke="#ff0000" stroke-width="1" />
<polyline points="678.3,36.5 710.8,36.5" fill="none" stroke="#ff0000" stroke-width="1" />
<polyline points="5.5,70.0 12.0,69.0 18.0,65.3 70.0,65.3 72.5,72.5 76.7,79.2 79.0,80.3 136.7,80.3 140.8,85.0 144.2,89.2 146.7,95.8 150.8,99.2 153.3,105.0 155.8,116.7 159.2,126.7 162.5,133.3 165.8,140.8 169.2,142.5 173.3,150.0 176.7,156.7 179.2,165.0 180.3,167.5 221.7,167.5 225.8,171.7 229.2,176.7 232.5,190.0 235.8,198.3 240.0,201.3 243.3,201.3 246.5,205.3 248.3,196.7 250.0,190.0 253.3,186.7 260.8,186.3 265.0,183.3 270.0,178.3 275.0,177.5 281.7,176.7 288.3,171.7 291.7,165.0 296.7,148.3 300.8,143.3 306.7,136.7 310.8,134.2 326.7,134.2 333.3,130.8 341.7,129.2 350.0,121.7 356.7,116.7 361.7,113.7 373.3,113.3 381.7,111.3 393.3,110.8 396.7,103.3 401.7,91.7 405.0,85.8 411.7,84.2 431.7,84.2 440.0,80.0 448.3,75.8 456.7,70.8 463.3,68.3 471.7,67.5 476.7,64.2 481.7,61.3 536.7,61.3 541.7,63.7 544.2,68.3 545.8,72.5 550.0,75.0 555.0,77.2 575.0,77.5 581.7,77.8 586.7,80.8 589.2,84.2 593.3,84.2 598.3,75.0 605.0,62.5 611.7,55.0 620.0,41.7 624.2,36.7 678.3,36.5 683.3,40.8 685.8,45.0 688.3,46.3 710.8,46.3" fill="none" stroke="#ff00ff" stroke-width="1" />
<rect x="5.00" y="68.00" width="1.00" height="6.00" fill="#000" />
<rect x="4.00" y="72.00" width="3.00" height="3.00" fill="#000" />
<rect x="5.00" y="73.00" width="1.00" height="1.00" fill="#fff" />
<rect x="8.00" y="60.00" width="1.00" height="10.00" fill="#000" />
<rect x="7.00" y="60.00" width="3.00" height="10.00" fill="#000" />
<rect x="12.00" y="62.00" width="1.00" height="3.00" fill="#000" />
<rect x="11.00" y="63.00" width="3.00" height="1.00" fill="#000" />
<rect x="15.00" y="58.00" width="1.00" height="9.00" fill="#000" />
<rect x="14.00" y="61.00" width="3.00" height="3.00" fill="#000" />
<rect x="15.00" y="62.00" width="1.00" height="1.00" fill="#fff" />
<rect x="19.00" y="58.00" width="1.00" height="4.00" fill="#000" />
<rect x="18.00" y="58.00" width="3.00" height="4.00" fill="#000" />
<rect x="23.00" y="82.00" width="1.00" height="20.00" fill="#000" />
<rect x="22.00" y="87.00" width="3.00" height="14.00" fill="#000" />
<rect x="26.00" y="82.00" width="1.00" height="16.00" fill="#000" />
<rect x="25.00" y="85.00" width="3.00" height="12.00" fill="#000" />
<rect x="26.00" y="86.00" width="1.00" height="10.00" fill="#fff" />
<rect x="30.00" y="82.00" width="1.00" height="11.00" fill="#000" />
<rect x="29.00" y="83.00" width="3.00" height="7.00" fill="#000" />
<rect x="34.00" y="98.00" width="1.00" height="6.00" fill="#000" />
<rect x="33.00" y="99.00" width="3.00" height="2.00" fill="#000" />
<rect x="37.00" y="87.00" width="1.00" height="16.00" fill="#000" />
<rect x="36.00" y="95.00" width="3.00" height="6.00" fill="#000" />
<rect x="41.00" y="103.00" width="1.00" height="9.00" fill="#000" />
<rect x="40.00" y="107.00" width="3.00" height="5.00" fill="#000" />
<rect x="41.00" y="108.00" width="1.00" height="3.00" fill="#fff" />
<rect x="45.00" y="98.00" width="1.00" height="3.00" fill="#000" />
<rect x="44.00" y="98.00" width="3.00" height="3.00" fill="#000" />
<rect x="45.00" y="99.00" width="1.00" height="1.00" fill="#fff" />
<rect x="48.00" y="88.00" width="1.00" height="7.00" fill="#000" />
<rect x="47.00" y="92.00" width="3.00" height="3.00" fill="#000" />
<rect x="48.00" y="93.00" width="1.00" height="1.00" fill="#fff" />
<rect x="52.00" y="86.00" width="1.00" height="6.00" fill="#000" />
<rect x="51.00" y="86.00" width="3.00" height="6.00" fill="#000" />
<rect x="52.00" y="87.00" width="1.00" height="4.00" fill="#fff" />
<rect x="56.00" y="85.00" width="1.00" height="5.00" fill="#000" />
<rect x="55.00" y="85.00" width="3.00" height="5.00" fill="#000" />
<rect x="59.00" y="76.00" width="1.00" height="9.00" fill="#000" />
<rect x="58.00" y="83.00" width="3.00" height="2.00" fill="#000" />
<rect x="63.00" y="84.00" width="1.00" height="4.00" fill="#000" />
<rect x="62.00" y="84.00" width="3.00" height="4.00" fill="#000" />
<rect x="67.00" y="82.00" width="1.00" height="5.00" fill="#000" />
<rect x="66.00" y="84.00" width="3.00" height="2.00" fill="#000" />
<rect x="70.00" y="78.00" width="1.00" height="4.00" fill="#000" />
<rect x="69.00" y="78.00" width="3.00" height="2.00" fill="#000" />
<rect x="74.00" y="72.00" width="1.00" height="8.00" fill="#000" />
<rect x="73.00" y="75.00" width="3.00" height="3.00" fill="#000" />
<rect x="78.00" y="79.00" width="1.00" height="1.00" fill="#000" />
<rect x="77.00" y="79.00" width="3.00" height="1.00" fill="#000" />
<rect x="81.00" y="79.00" width="1.00" height="2.00" fill="#000" />
<rect x="80.00" y="79.00" width="3.00" height="2.00" fill="#000" />
<rect x="85.00" y="79.00" width="1.00" height="1.00" fill="#000" />
<rect x="84.00" y="79.00" width="3.00" height="1.00" fill="#000" />
<rect x="88.00" y="89.00" width="1.00" height="2.00" fill="#000" />
<rect x="87.00" y="89.00" width="3.00" height="2.00" fill="#000" />
<rect x="92.00" y="89.00" width="1.00" height="14.00" fill="#000" />
<rect x="91.00" y="89.00" width="3.00" height="14.00" fill="#000" />
<rect x="96.00" y="104.00" width="1.00" height="14.00" fill="#000" />
<rect x="95.00" y="104.00" width="3.00" height="11.00" fill="#000" />
<rect x="100.00" y="94.00" width="1.00" height="13.00" fill="#000" />
<rect x="99.00" y="102.00" width="3.00" height="3.00" fill="#000" />
<rect x="103.00" y="130.00" width="1.00" height="20.00" fill="#000" />
<rect x="102.00" y="134.00" width="3.00" height="16.00" fill="#000" />
<rect x="107.00" y="138.00" width="1.00" height="27.00" fill="#000" />
<rect x="106.00" y="138.00" width="3.00" height="27.00" fill="#000" />
<rect x="107.00" y="139.00" width="1.00" height="25.00" fill="#fff" />
<rect x="111.00" y="134.00" width="1.00" height="27.00" fill="#000" />
<rect x="110.00" y="134.00" width="3.00" height="27.00" fill="#000" />
<rect x="114.00" y="145.00" width="1.00" height="25.00" fill="#000" />
<rect x="113.00" y="157.00" width="3.00" height="4.00" fill="#000" />
<rect x="114.00" y="158.00" width="1.00" height="2.00" fill="#fff" />
<rect x="118.00" y="138.00" width="1.00" height="17.00" fill="#000" />
<rect x="117.00" y="139.00" width="3.00" height="15.00" fill="#000" />
<rect x="118.00" y="140.00" width="1.00" height="13.00" fill="#fff" />
<rect x="122.00" y="158.00" width="1.00" height="24.00" fill="#000" />
<rect x="121.00" y="168.00" width="3.00" height="2.00" fill="#000" />
<rect x="125.00" y="163.00" width="1.00" height="21.00" fill="#000" />
<rect x="124.00" y="168.00" width="3.00" height="9.00" fill="#000" />
<rect x="125.00" y="169.00" width="1.00" height="7.00" fill="#fff" />
<rect x="129.00" y="187.00" width="1.00" height="15.00" fill="#000" />
<rect x="128.00" y="187.00" width="3.00" height="14.00" fill="#000" />
<rect x="133.00" y="184.00" width="1.00" height="9.00" fill="#000" />
<rect x="132.00" y="192.00" width="3.00" height="1.00" fill="#000" />
<rect x="136.00" y="178.00" width="1.00" height="7.00" fill="#000" />
<rect x="135.00" y="178.00" width="3.00" height="7.00" fill="#000" />
<rect x="140.00" y="185.00" width="1.00" height="9.00" fill="#000" />
<rect x="139.00" y="193.00" width="3.00" height="1.00" fill="#000" />
<rect x="144.00" y="178.00" width="1.00" height="4.00" fill="#000" />
<rect x="143.00" y="179.00" width="3.00" height="1.00" fill="#000" />
<rect x="147.00" y="176.00" width="1.00" height="5.00" fill="#000" />
<rect x="146.00" y="178.00" width="3.00" height="3.00" fill="#000" />
<rect x="147.00" y="179.00" width="1.00" height="1.00" fill="#fff" />
<rect x="151.00" y="184.00" width="1.00" height="8.00" fill="#000" />
<rect x="150.00" y="191.00" width="3.00" height="1.00" fill="#000" />
<rect x="155.00" y="169.00" width="1.00" height="15.00" fill="#000" />
<rect x="154.00" y="178.00" width="3.00" height="6.00" fill="#000" />
<rect x="155.00" y="179.00" width="1.00" height="4.00" fill="#fff" />
<rect x="158.00" y="172.00" width="1.00" height="5.00" fill="#000" />
<rect x="157.00" y="172.00" width="3.00" height="5.00" fill="#000" />
<rect x="162.00" y="172.00" width="1.00" height="4.00" fill="#000" />
<rect x="161.00" y="174.00" width="3.00" height="3.00" fill="#000" />
<rect x="162.00" y="175.00" width="1.00" height="1.00" fill="#fff" />
<rect x="166.00" y="155.00" width="1.00" height="9.00" fill="#000" />
<rect x="165.00" y="159.00" width="3.00" height="5.00" fill="#000" />
<rect x="166.00" y="160.00" width="1.00" height="3.00" fill="#fff" />
<rect x="169.00" y="157.00" width="1.00" height="5.00" fill="#000" />
<rect x="168.00" y="159.00" width="3.00" height="1.00" fill="#000" />
<rect x="173.00" y="177.00" width="1.00" height="3.00" fill="#000" />
<rect x="172.00" y="178.00" width="3.00" height="1.00" fill="#000" />
<rect x="177.00" y="182.00" width="1.00" height="3.00" fill="#000" />
<rect x="176.00" y="182.00" width="3.00" height="3.00" fill="#000" />
<rect x="180.00" y="212.00" width="1.00" height="4.00" fill="#000" />
<rect x="179.00" y="212.00" width="3.00" height="4.00" fill="#000" />
<rect x="184.00" y="215.00" width="1.00" height="17.00" fill="#000" />
<rect x="183.00" y="215.00" width="3.00" height="16.00" fill="#000" />
<rect x="184.00" y="216.00" width="1.00" height="14.00" fill="#fff" />
<rect x="188.00" y="207.00" width="1.00" height="13.00" fill="#000" />
<rect x="187.00" y="207.00" width="3.00" height="13.00" fill="#000" />
<rect x="188.00" y="208.00" width="1.00" height="11.00" fill="#fff" />
<rect x="191.00" y="195.00" width="1.00" height="10.00" fill="#000" />
<rect x="190.00" y="198.00" width="3.00" height="7.00" fill="#000" />
<rect x="191.00" y="199.00" width="1.00" height="5.00" fill="#fff" />
<rect x="195.00" y="160.00" width="1.00" height="75.00" fill="#000" />
<rect x="194.00" y="230.00" width="3.00" height="5.00" fill="#000" />
<rect x="199.00" y="252.00" width="1.00" height="14.00" fill="#000" />
<rect x="198.00" y="252.00" width="3.00" height="14.00" fill="#000" />
<rect x="202.00" y="254.00" width="1.00" height="38.00" fill="#000" />
<rect x="201.00" y="262.00" width="3.00" height="28.00" fill="#000" />
<rect x="202.00" y="263.00" width="1.00" height="26.00" fill="#fff" />
<rect x="206.00" y="230.00" width="1.00" height="42.00" fill="#000" />
<rect x="205.00" y="234.00" width="3.00" height="38.00" fill="#000" />
<rect x="210.00" y="192.00" width="1.00" height="68.00" fill="#000" />
<rect x="209.00" y="207.00" width="3.00" height="53.00" fill="#000" />
<rect x="210.00" y="208.00" width="1.00" height="51.00" fill="#fff" />
<rect x="213.00" y="218.00" width="1.00" height="10.00" fill="#000" />
<rect x="212.00" y="218.00" width="3.00" height="10.00" fill="#000" />
<rect x="217.00" y="208.00" width="1.00" height="20.00" fill="#000" />
<rect x="216.00" y="210.00" width="3.00" height="18.00" fill="#000" />
<rect x="217.00" y="211.00" width="1.00" height="16.00" fill="#fff" />
<rect x="221.00" y="206.00" width="1.00" height="5.00" fill="#000" />
<rect x="220.00" y="206.00" width="3.00" height="5.00" fill="#000" />
<rect x="224.00" y="198.00" width="1.00" height="9.00" fill="#000" />
<rect x="223.00" y="204.00" width="3.00" height="3.00" fill="#000" />
<rect x="228.00" y="218.00" width="1.00" height="12.00" fill="#000" />
<rect x="227.00" y="218.00" width="3.00" height="10.00" fill="#000" />
<rect x="228.00" y="219.00" width="1.00" height="8.00" fill="#fff" />
<rect x="232.00" y="200.00" width="1.00" height="20.00" fill="#000" />
<rect x="231.00" y="214.00" width="3.00" height="4.00" fill="#000" />
<rect x="235.00" y="233.00" width="1.00" height="8.00" fill="#000" />
<rect x="234.00" y="233.00" width="3.00" height="5.00" fill="#000" />
<rect x="235.00" y="234.00" width="1.00" height="3.00" fill="#fff" />
<rect x="239.00" y="215.00" width="1.00" height="11.00" fill="#000" />
<rect x="238.00" y="218.00" width="3.00" height="8.00" fill="#000" />
<rect x="239.00" y="219.00" width="1.00" height="6.00" fill="#fff" />
<rect x="243.00" y="190.00" width="1.00" height="10.00" fill="#000" />
<rect x="242.00" y="195.00" width="3.00" height="5.00" fill="#000" />
<rect x="246.00" y="184.00" width="1.00" height="15.00" fill="#000" />
<rect x="245.00" y="185.00" width="3.00" height="14.00" fill="#000" />
<rect x="246.00" y="186.00" width="1.00" height="12.00" fill="#fff" />
<rect x="250.00" y="108.00" width="1.00" height="77.00" fill="#000" />
<rect x="249.00" y="169.00" width="3.00" height="14.00" fill="#000" />
<rect x="250.00" y="170.00" width="1.00" height="12.00" fill="#fff" />
<rect x="253.00" y="176.00" width="1.00" height="12.00" fill="#000" />
<rect x="252.00" y="176.00" width="3.00" height="4.00" fill="#000" />
<rect x="253.00" y="177.00" width="1.00" height="2.00" fill="#fff" />
<rect x="257.00" y="188.00" width="1.00" height="5.00" fill="#000" />
<rect x="256.00" y="188.00" width="3.00" height="5.00" fill="#000" />
<rect x="257.00" y="189.00" width="1.00" height="3.00" fill="#fff" />
<rect x="261.00" y="185.00" width="1.00" height="14.00" fill="#000" />
<rect x="260.00" y="185.00" width="3.00" height="14.00" fill="#000" />
<rect x="261.00" y="186.00" width="1.00" height="12.00" fill="#fff" />
<rect x="264.00" y="164.00" width="1.00" height="17.00" fill="#000" />
<rect x="263.00" y="174.00" width="3.00" height="7.00" fill="#000" />
<rect x="268.00" y="163.00" width="1.00" height="9.00" fill="#000" />
<rect x="267.00" y="172.00" width="3.00" height="1.00" fill="#000" />
<rect x="272.00" y="172.00" width="1.00" height="9.00" fill="#000" />
<rect x="271.00" y="176.00" width="3.00" height="5.00" fill="#000" />
<rect x="272.00" y="177.00" width="1.00" height="3.00" fill="#fff" />
<rect x="275.00" y="179.00" width="1.00" height="4.00" fill="#000" />
<rect x="274.00" y="179.00" width="3.00" height="4.00" fill="#000" />
<rect x="275.00" y="180.00" width="1.00" height="2.00" fill="#fff" />
<rect x="279.00" y="178.00" width="1.00" height="9.00" fill="#000" />
<rect x="278.00" y="178.00" width="3.00" height="5.00" fill="#000" />
<rect x="279.00" y="179.00" width="1.00" height="3.00" fill="#fff" />
<rect x="283.00" y="163.00" width="1.00" height="12.00" fill="#000" />
<rect x="282.00" y="171.00" width="3.00" height="4.00" fill="#000" />
<rect x="286.00" y="167.00" width="1.00" height="10.00" fill="#000" />
<rect x="285.00" y="167.00" width="3.00" height="10.00" fill="#000" />
<rect x="290.00" y="145.00" width="1.00" height="13.00" fill="#000" />
<rect x="289.00" y="149.00" width="3.00" height="5.00" fill="#000" />
<rect x="294.00" y="126.00" width="1.00" height="22.00" fill="#000" />
<rect x="293.00" y="135.00" width="3.00" height="7.00" fill="#000" />
<rect x="294.00" y="136.00" width="1.00" height="5.00" fill="#fff" />
<rect x="297.00" y="128.00" width="1.00" height="2.00" fill="#000" />
<rect x="296.00" y="128.00" width="3.00" height="2.00" fill="#000" />
<rect x="301.00" y="128.00" width="1.00" height="15.00" fill="#000" />
<rect x="300.00" y="128.00" width="3.00" height="10.00" fill="#000" />
<rect x="305.00" y="129.00" width="1.00" height="3.00" fill="#000" />
<rect x="304.00" y="130.00" width="3.00" height="1.00" fill="#000" />
<rect x="308.00" y="126.00" width="1.00" height="9.00" fill="#000" />
<rect x="307.00" y="128.00" width="3.00" height="7.00" fill="#000" />
<rect x="308.00" y="129.00" width="1.00" height="5.00" fill="#fff" />
<rect x="312.00" y="126.00" width="1.00" height="8.00" fill="#000" />
<rect x="311.00" y="130.00" width="3.00" height="4.00" fill="#000" />
<rect x="316.00" y="125.00" width="1.00" height="27.00" fill="#000" />
<rect x="315.00" y="131.00" width="3.00" height="11.00" fill="#000" />
<rect x="319.00" y="132.00" width="1.00" height="8.00" fill="#000" />
<rect x="318.00" y="136.00" width="3.00" height="4.00" fill="#000" />
<rect x="319.00" y="137.00" width="1.00" height="2.00" fill="#fff" />
<rect x="323.00" y="136.00" width="1.00" height="10.00" fill="#000" />
<rect x="322.00" y="146.00" width="3.00" height="1.00" fill="#000" />
<rect x="327.00" y="122.00" width="1.00" height="12.00" fill="#000" />
<rect x="326.00" y="126.00" width="3.00" height="8.00" fill="#000" />
<rect x="327.00" y="127.00" width="1.00" height="6.00" fill="#fff" />
<rect x="330.00" y="120.00" width="1.00" height="5.00" fill="#000" />
<rect x="329.00" y="124.00" width="3.00" height="1.00" fill="#000" />
<rect x="334.00" y="124.00" width="1.00" height="16.00" fill="#000" />
<rect x="333.00" y="124.00" width="3.00" height="13.00" fill="#000" />
<rect x="338.00" y="131.00" width="1.00" height="19.00" fill="#000" />
<rect x="337.00" y="136.00" width="3.00" height="8.00" fill="#000" />
<rect x="338.00" y="137.00" width="1.00" height="6.00" fill="#fff" />
<rect x="341.00" y="127.00" width="1.00" height="7.00" fill="#000" />
<rect x="340.00" y="129.00" width="3.00" height="5.00" fill="#000" />
<rect x="341.00" y="130.00" width="1.00" height="3.00" fill="#fff" />
<rect x="345.00" y="108.00" width="1.00" height="12.00" fill="#000" />
<rect x="344.00" y="115.00" width="3.00" height="5.00" fill="#000" />
<rect x="345.00" y="116.00" width="1.00" height="3.00" fill="#fff" />
<rect x="349.00" y="110.00" width="1.00" height="2.00" fill="#000" />
<rect x="348.00" y="110.00" width="3.00" height="1.00" fill="#000" />
<rect x="352.00" y="106.00" width="1.00" height="17.00" fill="#000" />
<rect x="351.00" y="111.00" width="3.00" height="12.00" fill="#000" />
<rect x="356.00" y="33.00" width="1.00" height="87.00" fill="#000" />
<rect x="355.00" y="110.00" width="3.00" height="10.00" fill="#000" />
<rect x="360.00" y="111.00" width="1.00" height="13.00" fill="#000" />
<rect x="359.00" y="119.00" width="3.00" height="5.00" fill="#000" />
<rect x="360.00" y="120.00" width="1.00" height="3.00" fill="#fff" />
<rect x="363.00" y="114.00" width="1.00" height="10.00" fill="#000" />
<rect x="362.00" y="114.00" width="3.00" height="4.00" fill="#000" />
<rect x="367.00" y="113.00" width="1.00" height="2.00" fill="#000" />
<rect x="366.00" y="113.00" width="3.00" height="2.00" fill="#000" />
<rect x="371.00" y="107.00" width="1.00" height="9.00" fill="#000" />
<rect x="370.00" y="111.00" width="3.00" height="5.00" fill="#000" />
<rect x="371.00" y="112.00" width="1.00" height="3.00" fill="#fff" />
<rect x="374.00" y="110.00" width="1.00" height="12.00" fill="#000" />
<rect x="373.00" y="118.00" width="3.00" height="4.00" fill="#000" />
<rect x="378.00" y="104.00" width="1.00" height="6.00" fill="#000" />
<rect x="377.00" y="108.00" width="3.00" height="3.00" fill="#000" />
<rect x="378.00" y="109.00" width="1.00" height="1.00" fill="#fff" />
<rect x="382.00" y="111.00" width="1.00" height="5.00" fill="#000" />
<rect x="381.00" y="111.00" width="3.00" height="5.00" fill="#000" />
<rect x="385.00" y="101.00" width="1.00" height="11.00" fill="#000" />
<rect x="384.00" y="110.00" width="3.00" height="2.00" fill="#000" />
<rect x="389.00" y="111.00" width="1.00" height="4.00" fill="#000" />
<rect x="388.00" y="111.00" width="3.00" height="1.00" fill="#000" />
<rect x="393.00" y="102.00" width="1.00" height="11.00" fill="#000" />
<rect x="392.00" y="110.00" width="3.00" height="3.00" fill="#000" />
<rect x="393.00" y="111.00" width="1.00" height="1.00" fill="#fff" />
<rect x="397.00" y="81.00" width="1.00" height="17.00" fill="#000" />
<rect x="396.00" y="89.00" width="3.00" height="9.00" fill="#000" />
<rect x="397.00" y="90.00" width="1.00" height="7.00" fill="#fff" />
<rect x="400.00" y="78.00" width="1.00" height="6.00" fill="#000" />
<rect x="399.00" y="78.00" width="3.00" height="4.00" fill="#000" />
<rect x="404.00" y="62.00" width="1.00" height="14.00" fill="#000" />
<rect x="403.00" y="68.00" width="3.00" height="1.00" fill="#000" />
<rect x="407.00" y="70.00" width="1.00" height="31.00" fill="#000" />
<rect x="406.00" y="81.00" width="3.00" height="7.00" fill="#000" />
<rect x="411.00" y="68.00" width="1.00" height="13.00" fill="#000" />
<rect x="410.00" y="68.00" width="3.00" height="13.00" fill="#000" />
<rect x="415.00" y="88.00" width="1.00" height="15.00" fill="#000" />
<rect x="414.00" y="88.00" width="3.00" height="15.00" fill="#000" />
<rect x="418.00" y="91.00" width="1.00" height="3.00" fill="#000" />
<rect x="417.00" y="91.00" width="3.00" height="3.00" fill="#000" />
<rect x="418.00" y="92.00" width="1.00" height="1.00" fill="#fff" />
<rect x="422.00" y="80.00" width="1.00" height="5.00" fill="#000" />
<rect x="421.00" y="82.00" width="3.00" height="3.00" fill="#000" />
<rect x="422.00" y="83.00" width="1.00" height="1.00" fill="#fff" />
<rect x="426.00" y="86.00" width="1.00" height="4.00" fill="#000" />
<rect x="425.00" y="89.00" width="3.00" height="1.00" fill="#000" />
<rect x="429.00" y="81.00" width="1.00" height="9.00" fill="#000" />
<rect x="428.00" y="81.00" width="3.00" height="9.00" fill="#000" />
<rect x="433.00" y="72.00" width="1.00" height="10.00" fill="#000" />
<rect x="432.00" y="76.00" width="3.00" height="6.00" fill="#000" />
<rect x="433.00" y="77.00" width="1.00" height="4.00" fill="#fff" />
<rect x="437.00" y="72.00" width="1.00" height="7.00" fill="#000" />
<rect x="436.00" y="72.00" width="3.00" height="7.00" fill="#000" />
<rect x="440.00" y="78.00" width="1.00" height="4.00" fill="#000" />
<rect x="439.00" y="78.00" width="3.00" height="4.00" fill="#000" />
<rect x="444.00" y="71.00" width="1.00" height="10.00" fill="#000" />
<rect x="443.00" y="71.00" width="3.00" height="5.00" fill="#000" />
<rect x="448.00" y="58.00" width="1.00" height="16.00" fill="#000" />
<rect x="447.00" y="58.00" width="3.00" height="16.00" fill="#000" />
<rect x="451.00" y="68.00" width="1.00" height="11.00" fill="#000" />
<rect x="450.00" y="72.00" width="3.00" height="3.00" fill="#000" />
<rect x="451.00" y="73.00" width="1.00" height="1.00" fill="#fff" />
<rect x="455.00" y="64.00" width="1.00" height="4.00" fill="#000" />
<rect x="454.00" y="64.00" width="3.00" height="4.00" fill="#000" />
<rect x="459.00" y="63.00" width="1.00" height="5.00" fill="#000" />
<rect x="458.00" y="63.00" width="3.00" height="5.00" fill="#000" />
<rect x="462.00" y="59.00" width="1.00" height="8.00" fill="#000" />
<rect x="461.00" y="60.00" width="3.00" height="7.00" fill="#000" />
<rect x="466.00" y="74.00" width="1.00" height="9.00" fill="#000" />
<rect x="465.00" y="76.00" width="3.00" height="7.00" fill="#000" />
<rect x="466.00" y="77.00" width="1.00" height="5.00" fill="#fff" />
<rect x="470.00" y="66.00" width="1.00" height="2.00" fill="#000" />
<rect x="469.00" y="66.00" width="3.00" height="3.00" fill="#000" />
<rect x="470.00" y="67.00" width="1.00" height="1.00" fill="#fff" />
<rect x="473.00" y="58.00" width="1.00" height="8.00" fill="#000" />
<rect x="472.00" y="58.00" width="3.00" height="5.00" fill="#000" />
<rect x="477.00" y="58.00" width="1.00" height="6.00" fill="#000" />
<rect x="476.00" y="60.00" width="3.00" height="3.00" fill="#000" />
<rect x="477.00" y="61.00" width="1.00" height="1.00" fill="#fff" />
<rect x="481.00" y="53.00" width="1.00" height="2.00" fill="#000" />
<rect x="480.00" y="53.00" width="3.00" height="2.00" fill="#000" />
<rect x="484.00" y="49.00" width="1.00" height="16.00" fill="#000" />
<rect x="483.00" y="49.00" width="3.00" height="13.00" fill="#000" />
<rect x="488.00" y="64.00" width="1.00" height="10.00" fill="#000" />
<rect x="487.00" y="66.00" width="3.00" height="4.00" fill="#000" />
<rect x="488.00" y="67.00" width="1.00" height="2.00" fill="#fff" />
<rect x="491.00" y="51.00" width="1.00" height="19.00" fill="#000" />
<rect x="490.00" y="51.00" width="3.00" height="19.00" fill="#000" />
<rect x="495.00" y="92.00" width="1.00" height="8.00" fill="#000" />
<rect x="494.00" y="92.00" width="3.00" height="6.00" fill="#000" />
<rect x="499.00" y="76.00" width="1.00" height="9.00" fill="#000" />
<rect x="498.00" y="78.00" width="3.00" height="7.00" fill="#000" />
<rect x="499.00" y="79.00" width="1.00" height="5.00" fill="#fff" />
<rect x="502.00" y="72.00" width="1.00" height="18.00" fill="#000" />
<rect x="501.00" y="72.00" width="3.00" height="18.00" fill="#000" />
<rect x="506.00" y="93.00" width="1.00" height="7.00" fill="#000" />
<rect x="505.00" y="93.00" width="3.00" height="3.00" fill="#000" />
<rect x="506.00" y="94.00" width="1.00" height="1.00" fill="#fff" />
<rect x="510.00" y="66.00" width="1.00" height="26.00" fill="#000" />
<rect x="509.00" y="88.00" width="3.00" height="2.00" fill="#000" />
<rect x="513.00" y="78.00" width="1.00" height="8.00" fill="#000" />
<rect x="512.00" y="78.00" width="3.00" height="8.00" fill="#000" />
<rect x="517.00" y="77.00" width="1.00" height="10.00" fill="#000" />
<rect x="516.00" y="84.00" width="3.00" height="3.00" fill="#000" />
<rect x="521.00" y="69.00" width="1.00" height="14.00" fill="#000" />
<rect x="520.00" y="75.00" width="3.00" height="8.00" fill="#000" />
<rect x="521.00" y="76.00" width="1.00" height="6.00" fill="#fff" />
<rect x="524.00" y="57.00" width="1.00" height="21.00" fill="#000" />
<rect x="523.00" y="68.00" width="3.00" height="10.00" fill="#000" />
<rect x="528.00" y="72.00" width="1.00" height="9.00" fill="#000" />
<rect x="527.00" y="75.00" width="3.00" height="4.00" fill="#000" />
<rect x="528.00" y="76.00" width="1.00" height="2.00" fill="#fff" />
<rect x="532.00" y="71.00" width="1.00" height="12.00" fill="#000" />
<rect x="531.00" y="80.00" width="3.00" height="1.00" fill="#000" />
<rect x="535.00" y="76.00" width="1.00" height="10.00" fill="#000" />
<rect x="534.00" y="80.00" width="3.00" height="2.00" fill="#000" />
<rect x="539.00" y="81.00" width="1.00" height="30.00" fill="#000" />
<rect x="538.00" y="81.00" width="3.00" height="28.00" fill="#000" />
<rect x="543.00" y="114.00" width="1.00" height="24.00" fill="#000" />
<rect x="542.00" y="114.00" width="3.00" height="12.00" fill="#000" />
<rect x="543.00" y="115.00" width="1.00" height="10.00" fill="#fff" />
<rect x="546.00" y="112.00" width="1.00" height="5.00" fill="#000" />
<rect x="545.00" y="114.00" width="3.00" height="3.00" fill="#000" />
<rect x="550.00" y="96.00" width="1.00" height="19.00" fill="#000" />
<rect x="549.00" y="100.00" width="3.00" height="15.00" fill="#000" />
<rect x="550.00" y="101.00" width="1.00" height="13.00" fill="#fff" />
<rect x="554.00" y="98.00" width="1.00" height="6.00" fill="#000" />
<rect x="553.00" y="102.00" width="3.00" height="3.00" fill="#000" />
<rect x="554.00" y="103.00" width="1.00" height="1.00" fill="#fff" />
<rect x="557.00" y="90.00" width="1.00" height="12.00" fill="#000" />
<rect x="556.00" y="90.00" width="3.00" height="12.00" fill="#000" />
<rect x="557.00" y="91.00" width="1.00" height="10.00" fill="#fff" />
<rect x="561.00" y="85.00" width="1.00" height="9.00" fill="#000" />
<rect x="560.00" y="92.00" width="3.00" height="2.00" fill="#000" />
<rect x="565.00" y="95.00" width="1.00" height="13.00" fill="#000" />
<rect x="564.00" y="102.00" width="3.00" height="1.00" fill="#000" />
<rect x="568.00" y="116.00" width="1.00" height="9.00" fill="#000" />
<rect x="567.00" y="116.00" width="3.00" height="7.00" fill="#000" />
<rect x="572.00" y="124.00" width="1.00" height="16.00" fill="#000" />
<rect x="571.00" y="126.00" width="3.00" height="9.00" fill="#000" />
<rect x="572.00" y="127.00" width="1.00" height="7.00" fill="#fff" />
<rect x="576.00" y="112.00" width="1.00" height="14.00" fill="#000" />
<rect x="575.00" y="121.00" width="3.00" height="3.00" fill="#000" />
<rect x="576.00" y="122.00" width="1.00" height="1.00" fill="#fff" />
<rect x="579.00" y="106.00" width="1.00" height="12.00" fill="#000" />
<rect x="578.00" y="110.00" width="3.00" height="6.00" fill="#000" />
<rect x="579.00" y="111.00" width="1.00" height="4.00" fill="#fff" />
<rect x="583.00" y="95.00" width="1.00" height="25.00" fill="#000" />
<rect x="582.00" y="95.00" width="3.00" height="16.00" fill="#000" />
<rect x="587.00" y="92.00" width="1.00" height="3.00" fill="#000" />
<rect x="586.00" y="94.00" width="3.00" height="1.00" fill="#000" />
<rect x="590.00" y="83.00" width="1.00" height="10.00" fill="#000" />
<rect x="589.00" y="83.00" width="3.00" height="10.00" fill="#000" />
<rect x="590.00" y="84.00" width="1.00" height="8.00" fill="#fff" />
<rect x="594.00" y="46.00" width="1.00" height="12.00" fill="#000" />
<rect x="593.00" y="52.00" width="3.00" height="6.00" fill="#000" />
<rect x="594.00" y="53.00" width="1.00" height="4.00" fill="#fff" />
<rect x="598.00" y="51.00" width="1.00" height="9.00" fill="#000" />
<rect x="597.00" y="51.00" width="3.00" height="9.00" fill="#000" />
<rect x="601.00" y="53.00" width="1.00" height="8.00" fill="#000" />
<rect x="600.00" y="56.00" width="3.00" height="4.00" fill="#000" />
<rect x="605.00" y="45.00" width="1.00" height="10.00" fill="#000" />
<rect x="604.00" y="48.00" width="3.00" height="7.00" fill="#000" />
<rect x="605.00" y="49.00" width="1.00" height="5.00" fill="#fff" />
<rect x="609.00" y="44.00" width="1.00" height="4.00" fill="#000" />
<rect x="608.00" y="45.00" width="3.00" height="1.00" fill="#000" />
<rect x="612.00" y="40.00" width="1.00" height="23.00" fill="#000" />
<rect x="611.00" y="45.00" width="3.00" height="9.00" fill="#000" />
<rect x="616.00" y="32.00" width="1.00" height="10.00" fill="#000" />
<rect x="615.00" y="38.00" width="3.00" height="4.00" fill="#000" />
<rect x="616.00" y="39.00" width="1.00" height="2.00" fill="#fff" />
<rect x="620.00" y="28.00" width="1.00" height="10.00" fill="#000" />
<rect x="619.00" y="28.00" width="3.00" height="10.00" fill="#000" />
<rect x="620.00" y="29.00" width="1.00" height="8.00" fill="#fff" />
<rect x="623.00" y="20.00" width="1.00" height="15.00" fill="#000" />
<rect x="622.00" y="20.00" width="3.00" height="2.00" fill="#000" />
<rect x="627.00" y="23.00" width="1.00" height="17.00" fill="#000" />
<rect x="626.00" y="23.00" width="3.00" height="14.00" fill="#000" />
<rect x="631.00" y="41.00" width="1.00" height="10.00" fill="#000" />
<rect x="630.00" y="41.00" width="3.00" height="7.00" fill="#000" />
<rect x="634.00" y="56.00" width="1.00" height="16.00" fill="#000" />
<rect x="633.00" y="61.00" width="3.00" height="1.00" fill="#000" />
<rect x="638.00" y="52.00" width="1.00" height="16.00" fill="#000" />
<rect x="637.00" y="55.00" width="3.00" height="7.00" fill="#000" />
<rect x="638.00" y="56.00" width="1.00" height="5.00" fill="#fff" />
<rect x="642.00" y="66.00" width="1.00" height="7.00" fill="#000" />
<rect x="641.00" y="70.00" width="3.00" height="3.00" fill="#000" />
<rect x="642.00" y="71.00" width="1.00" height="1.00" fill="#fff" />
<rect x="645.00" y="62.00" width="1.00" height="10.00" fill="#000" />
<rect x="644.00" y="65.00" width="3.00" height="7.00" fill="#000" />
<rect x="645.00" y="66.00" width="1.00" height="5.00" fill="#fff" />
<rect x="649.00" y="56.00" width="1.00" height="12.00" fill="#000" />
<rect x="648.00" y="56.00" width="3.00" height="12.00" fill="#000" />
<rect x="649.00" y="57.00" width="1.00" height="10.00" fill="#fff" />
<rect x="653.00" y="39.00" width="1.00" height="14.00" fill="#000" />
<rect x="652.00" y="48.00" width="3.00" height="4.00" fill="#000" />
<rect x="653.00" y="49.00" width="1.00" height="2.00" fill="#fff" />
<rect x="656.00" y="43.00" width="1.00" height="13.00" fill="#000" />
<rect x="655.00" y="47.00" width="3.00" height="6.00" fill="#000" />
<rect x="660.00" y="39.00" width="1.00" height="13.00" fill="#000" />
<rect x="659.00" y="45.00" width="3.00" height="5.00" fill="#000" />
<rect x="664.00" y="45.00" width="1.00" height="17.00" fill="#000" />
<rect x="663.00" y="45.00" width="3.00" height="7.00" fill="#000" />
<rect x="667.00" y="41.00" width="1.00" height="13.00" fill="#000" />
<rect x="666.00" y="44.00" width="3.00" height="10.00" fill="#000" />
<rect x="667.00" y="45.00" width="1.00" height="8.00" fill="#fff" />
<rect x="671.00" y="40.00" width="1.00" height="4.00" fill="#000" />
<rect x="670.00" y="40.00" width="3.00" height="4.00" fill="#000" />
<rect x="671.00" y="41.00" width="1.00" height="2.00" fill="#fff" />
<rect x="675.00" y="37.00" width="1.00" height="34.00" fill="#000" />
<rect x="674.00" y="37.00" width="3.00" height="34.00" fill="#000" />
<rect x="678.00" y="42.00" width="1.00" height="16.00" fill="#000" />
<rect x="677.00" y="45.00" width="3.00" height="3.00" fill="#000" />
<rect x="682.00" y="51.00" width="1.00" height="21.00" fill="#000" />
<rect x="681.00" y="62.00" width="3.00" height="3.00" fill="#000" />
<rect x="682.00" y="63.00" width="1.00" height="1.00" fill="#fff" />
<rect x="686.00" y="45.00" width="1.00" height="17.00" fill="#000" />
<rect x="685.00" y="53.00" width="3.00" height="2.00" fill="#000" />
<rect x="689.00" y="44.00" width="1.00" height="12.00" fill="#000" />
<rect x="688.00" y="47.00" width="3.00" height="9.00" fill="#000" />
<rect x="693.00" y="53.00" width="1.00" height="23.00" fill="#000" />
<rect x="692.00" y="53.00" width="3.00" height="9.00" fill="#000" />
<rect x="697.00" y="52.00" width="1.00" height="9.00" fill="#000" />
<rect x="696.00" y="52.00" width="3.00" height="9.00" fill="#000" />
<rect x="700.00" y="66.00" width="1.00" height="4.00" fill="#000" />
<rect x="699.00" y="66.00" width="3.00" height="4.00" fill="#000" />
<rect x="704.00" y="68.00" width="1.00" height="27.00" fill="#000" />
<rect x="703.00" y="72.00" width="3.00" height="10.00" fill="#000" />
<rect x="708.00" y="63.00" width="1.00" height="22.00" fill="#000" />
<rect x="707.00" y="68.00" width="3.00" height="14.00" fill="#000" />
<rect x="708.00" y="69.00" width="1.00" height="12.00" fill="#fff" />
<rect x="711.00" y="44.00" width="1.00" height="10.00" fill="#000" />
<rect x="710.00" y="50.00" width="3.00" height="4.00" fill="#000" />
<rect x="711.00" y="51.00" width="1.00" height="2.00" fill="#fff" />
<rect x="22.00" y="65.00" width="3.00" height="6.00" fill="#ff0000" />
<rect x="19.00" y="71.00" width="9.00" height="1.00" fill="#ff0000" />
<rect x="20.00" y="72.00" width="7.00" height="2.00" fill="#ff0000" />
<rect x="21.00" y="74.00" width="5.00" height="2.00" fill="#ff0000" />
<rect x="22.00" y="76.00" width="3.00" height="2.00" fill="#ff0000" />
<rect x="23.00" y="78.00" width="1.00" height="2.00" fill="#ff0000" />
<rect x="88.00" y="68.00" width="3.00" height="6.00" fill="#ff0000" />
<rect x="85.00" y="74.00" width="9.00" height="1.00" fill="#ff0000" />
<rect x="86.00" y="75.00" width="7.00" height="2.00" fill="#ff0000" />
<rect x="87.00" y="77.00" width="5.00" height="2.00" fill="#ff0000" />
<rect x="88.00" y="79.00" width="3.00" height="2.00" fill="#ff0000" />
<rect x="89.00" y="81.00" width="1.00" height="2.00" fill="#ff0000" />
<rect x="256.00" y="164.00" width="3.00" height="6.00" fill="#ff0000" />
<rect x="253.00" y="170.00" width="9.00" height="1.00" fill="#ff0000" />
<rect x="254.00" y="171.00" width="7.00" height="2.00" fill="#ff0000" />
<rect x="255.00" y="173.00" width="5.00" height="2.00" fill="#ff0000" />
<rect x="256.00" y="175.00" width="3.00" height="2.00" fill="#ff0000" />
<rect x="257.00" y="177.00" width="1.00" height="2.00" fill="#ff0000" />
<rect x="274.00" y="154.00" width="3.00" height="6.00" fill="#ff0000" />
<rect x="271.00" y="160.00" width="9.00" height="1.00" fill="#ff0000" />
<rect x="272.00" y="161.00" width="7.00" height="2.00" fill="#ff0000" />
<rect x="273.00" y="163.00" width="5.00" height="2.00" fill="#ff0000" />
<rect x="274.00" y="165.00" width="3.00" height="2.00" fill="#ff0000" />
<rect x="275.00" y="167.00" width="1.00" height="2.00" fill="#ff0000" />
<rect x="285.00" y="145.00" width="3.00" height="6.00" fill="#ff0000" />
<rect x="282.00" y="151.00" width="9.00" height="1.00" fill="#ff0000" />
<rect x="283.00" y="152.00" width="7.00" height="2.00" fill="#ff0000" />
<rect x="284.00" y="154.00" width="5.00" height="2.00" fill="#ff0000" />
<rect x="285.00" y="156.00" width="3.00" height="2.00" fill="#ff0000" />
<rect x="286.00" y="158.00" width="1.00" height="2.00" fill="#ff0000" />
<rect x="315.00" y="102.00" width="3.00" height="6.00" fill="#ff0000" />
<rect x="312.00" y="108.00" width="9.00" height="1.00" fill="#ff0000" />
<rect x="313.00" y="109.00" width="7.00" height="2.00" fill="#ff0000" />
<rect x="314.00" y="111.00" width="5.00" height="2.00" fill="#ff0000" />
<rect x="315.00" y="113.00" width="3.00" height="2.00" fill="#ff0000" />
<rect x="316.00" y="115.00" width="1.00" height="2.00" fill="#ff0000" />
<rect x="333.00" y="102.00" width="3.00" height="6.00" fill="#ff0000" />
<rect x="330.00" y="108.00" width="9.00" height="1.00" fill="#ff0000" />
<rect x="331.00" y="109.00" width="7.00" height="2.00" fill="#ff0000" />
<rect x="332.00" y="111.00" width="5.00" height="2.00" fill="#ff0000" />
<rect x="333.00" y="113.00" width="3.00" height="2.00" fill="#ff0000" />
<rect x="334.00" y="115.00" width="1.00" height="2.00" fill="#ff0000" />
<rect x="351.00" y="83.00" width="3.00" height="6.00" fill="#ff0000" />
<rect x="348.00" y="89.00" width="9.00" height="1.00" fill="#ff0000" />
<rect x="349.00" y="90.00" width="7.00" height="2.00" fill="#ff0000" />
<rect x="350.00" y="92.00" width="5.00" height="2.00" fill="#ff0000" />
<rect x="351.00" y="94.00" width="3.00" height="2.00" fill="#ff0000" />
<rect x="352.00" y="96.00" width="1.00" height="2.00" fill="#ff0000" />
<rect x="373.00" y="87.00" width="3.00" height="6.00" fill="#ff0000" />
<rect x="370.00" y="93.00" width="9.00" height="1.00" fill="#ff0000" />
<rect x="371.00" y="94.00" width="7.00" height="2.00" fill="#ff0000" />
<rect x="372.00" y="96.00" width="5.00" height="2.00" fill="#ff0000" />
<rect x="373.00" y="98.00" width="3.00" height="2.00" fill="#ff0000" />
<rect x="374.00" y="100.00" width="1.00" height="2.00" fill="#ff0000" />
<rect x="381.00" y="87.00" width="3.00" height="6.00" fill="#ff0000" />
<rect x="378.00" y="93.00" width="9.00" height="1.00" fill="#ff0000" />
<rect x="379.00" y="94.00" width="7.00" height="2.00" fill="#ff0000" />
<rect x="380.00" y="96.00" width="5.00" height="2.00" fill="#ff0000" />
<rect x="381.00" y="98.00" width="3.00" height="2.00" fill="#ff0000" />
<rect x="382.00" y="100.00" width="1.00" height="2.00" fill="#ff0000" />
<rect x="388.00" y="85.00" width="3.00" height="6.00" fill="#ff0000" />
<rect x="385.00" y="91.00" width="9.00" height="1.00" fill="#ff0000" />
<rect x="386.00" y="92.00" width="7.00" height="2.00" fill="#ff0000" />
<rect x="387.00" y="94.00" width="5.00" height="2.00" fill="#ff0000" />
<rect x="388.00" y="96.00" width="3.00" height="2.00" fill="#ff0000" />
<rect x="389.00" y="98.00" width="1.00" height="2.00" fill="#ff0000" />
<rect x="406.00" y="59.00" width="3.00" height="6.00" fill="#ff0000" />
<rect x="403.00" y="65.00" width="9.00" height="1.00" fill="#ff0000" />
<rect x="404.00" y="66.00" width="7.00" height="2.00" fill="#ff0000" />
<rect x="405.00" y="68.00" width="5.00" height="2.00" fill="#ff0000" />
<rect x="406.00" y="70.00" width="3.00" height="2.00" fill="#ff0000" />
<rect x="407.00" y="72.00" width="1.00" height="2.00" fill="#ff0000" />
<rect x="414.00" y="65.00" width="3.00" height="6.00" fill="#ff0000" />
<rect x="411.00" y="71.00" width="9.00" height="1.00" fill="#ff0000" />
<rect x="412.00" y="72.00" width="7.00" height="2.00" fill="#ff0000" />
<rect x="413.00" y="74.00" width="5.00" height="2.00" fill="#ff0000" />
<rect x="414.00" y="76.00" width="3.00" height="2.00" fill="#ff0000" />
<rect x="415.00" y="78.00" width="1.00" height="2.00" fill="#ff0000" />
<rect x="425.00" y="63.00" width="3.00" height="6.00" fill="#ff0000" />
<rect x="422.00" y="69.00" width="9.00" height="1.00" fill="#ff0000" />
<rect x="423.00" y="70.00" width="7.00" height="2.00" fill="#ff0000" />
<rect x="424.00" y="72.00" width="5.00" height="2.00" fill="#ff0000" />
<rect x="425.00" y="74.00" width="3.00" height="2.00" fill="#ff0000" />
<rect x="426.00" y="76.00" width="1.00" height="2.00" fill="#ff0000" />
<rect x="439.00" y="56.00" width="3.00" height="6.00" fill="#ff0000" />
<rect x="436.00" y="62.00" width="9.00" height="1.00" fill="#ff0000" />
<rect x="437.00" y="63.00" width="7.00" height="2.00" fill="#ff0000" />
<rect x="438.00" y="65.00" width="5.00" height="2.00" fill="#ff0000" />
<rect x="439.00" y="67.00" width="3.00" height="2.00" fill="#ff0000" />
<rect x="440.00" y="69.00" width="1.00" height="2.00" fill="#ff0000" />
<rect x="465.00" y="51.00" width="3.00" height="6.00" fill="#ff0000" />
<rect x="462.00" y="57.00" width="9.00" height="1.00" fill="#ff0000" />
<rect x="463.00" y="58.00" width="7.00" height="2.00" fill="#ff0000" />
<rect x="464.00" y="60.00" width="5.00" height="2.00" fill="#ff0000" />
<rect x="465.00" y="62.00" width="3.00" height="2.00" fill="#ff0000" />
<rect x="466.00" y="64.00" width="1.00" height="2.00" fill="#ff0000" />
<rect x="483.00" y="27.00" width="3.00" height="6.00" fill="#ff0000" />
<rect x="480.00" y="33.00" width="9.00" height="1.00" fill="#ff0000" />
<rect x="481.00" y="34.00" width="7.00" height="2.00" fill="#ff0000" />
<rect x="482.00" y="36.00" width="5.00" height="2.00" fill="#ff0000" />
<rect x="483.00" y="38.00" width="3.00" height="2.00" fill="#ff0000" />
<rect x="484.00" y="40.00" width="1.00" height="2.00" fill="#ff0000" />
<rect x="626.00" y="1.00" width="3.00" height="6.00" fill="#ff0000" />
<rect x="623.00" y="7.00" width="9.00" height="1.00" fill="#ff0000" />
<rect x="624.00" y="8.00" width="7.00" height="2.00" fill="#ff0000" />
<rect x="625.00" y="10.00" width="5.00" height="2.00" fill="#ff0000" />
<rect x="626.00" y="12.00" width="3.00" height="2.00" fill="#ff0000" />
<rect x="627.00" y="14.00" width="1.00" height="2.00" fill="#ff0000" />
<rect x="48.00" y="103.00" width="1.00" height="2.00" fill="#008400" />
<rect x="47.00" y="105.00" width="3.00" height="2.00" fill="#008400" />
<rect x="46.00" y="107.00" width="5.00" height="2.00" fill="#008400" />
<rect x="45.00" y="109.00" width="7.00" height="2.00" fill="#008400" />
<rect x="44.00" y="111.00" width="9.00" height="1.00" fill="#008400" />
<rect x="47.00" y="112.00" width="3.00" height="6.00" fill="#008400" />
<rect x="118.00" y="161.00" width="1.00" height="2.00" fill="#008400" />
<rect x="117.00" y="163.00" width="3.00" height="2.00" fill="#008400" />
<rect x="116.00" y="165.00" width="5.00" height="2.00" fill="#008400" />
<rect x="115.00" y="167.00" width="7.00" height="2.00" fill="#008400" />
<rect x="114.00" y="169.00" width="9.00" height="1.00" fill="#008400" />
<rect x="117.00" y="170.00" width="3.00" height="6.00" fill="#008400" />
<rect x="144.00" y="190.00" width="1.00" height="2.00" fill="#008400" />
<rect x="143.00" y="192.00" width="3.00" height="2.00" fill="#008400" />
<rect x="142.00" y="194.00" width="5.00" height="2.00" fill="#008400" />
<rect x="141.00" y="196.00" width="7.00" height="2.00" fill="#008400" />
<rect x="140.00" y="198.00" width="9.00" height="1.00" fill="#008400" />
<rect x="143.00" y="199.00" width="3.00" height="6.00" fill="#008400" />
<rect x="155.00" y="191.00" width="1.00" height="2.00" fill="#008400" />
<rect x="154.00" y="193.00" width="3.00" height="2.00" fill="#008400" />
<rect x="153.00" y="195.00" width="5.00" height="2.00" fill="#008400" />
<rect x="152.00" y="197.00" width="7.00" height="2.00" fill="#008400" />
<rect x="151.00" y="199.00" width="9.00" height="1.00" fill="#008400" />
<rect x="154.00" y="200.00" width="3.00" height="6.00" fill="#008400" />
<rect x="191.00" y="213.00" width="1.00" height="2.00" fill="#008400" />
<rect x="190.00" y="215.00" width="3.00" height="2.00" fill="#008400" />
<rect x="189.00" y="217.00" width="5.00" height="2.00" fill="#008400" />
<rect x="188.00" y="219.00" width="7.00" height="2.00" fill="#008400" />
<rect x="187.00" y="221.00" width="9.00" height="1.00" fill="#008400" />
<rect x="190.00" y="222.00" width="3.00" height="6.00" fill="#008400" />
<rect x="210.00" y="270.00" width="1.00" height="2.00" fill="#008400" />
<rect x="209.00" y="272.00" width="3.00" height="2.00" fill="#008400" />
<rect x="208.00" y="274.00" width="5.00" height="2.00" fill="#008400" />
<rect x="207.00" y="276.00" width="7.00" height="2.00" fill="#008400" />
<rect x="206.00" y="278.00" width="9.00" height="1.00" fill="#008400" />
<rect x="209.00" y="279.00" width="3.00" height="6.00" fill="#008400" />
<rect x="521.00" y="90.00" width="1.00" height="2.00" fill="#008400" />
<rect x="520.00" y="92.00" width="3.00" height="2.00" fill="#008400" />
<rect x="519.00" y="94.00" width="5.00" height="2.00" fill="#008400" />
<rect x="518.00" y="96.00" width="7.00" height="2.00" fill="#008400" />
<rect x="517.00" y="98.00" width="9.00" height="1.00" fill="#008400" />
<rect x="520.00" y="99.00" width="3.00" height="6.00" fill="#008400" />
<rect x="550.00" y="122.00" width="1.00" height="2.00" fill="#008400" />
<rect x="549.00" y="124.00" width="3.00" height="2.00" fill="#008400" />
<rect x="548.00" y="126.00" width="5.00" height="2.00" fill="#008400" />
<rect x="547.00" y="128.00" width="7.00" height="2.00" fill="#008400" />
<rect x="546.00" y="130.00" width="9.00" height="1.00" fill="#008400" />
<rect x="549.00" y="131.00" width="3.00" height="6.00" fill="#008400" />
<rect x="579.00" y="126.00" width="1.00" height="2.00" fill="#008400" />
<rect x="578.00" y="128.00" width="3.00" height="2.00" fill="#008400" />
<rect x="577.00" y="130.00" width="5.00" height="2.00" fill="#008400" />
<rect x="576.00" y="132.00" width="7.00" height="2.00" fill="#008400" />
<rect x="575.00" y="134.00" width="9.00" height="1.00" fill="#008400" />
<rect x="578.00" y="135.00" width="3.00" height="6.00" fill="#008400" />
<rect x="678.00" y="66.00" width="1.00" height="2.00" fill="#008400" />
<rect x="677.00" y="68.00" width="3.00" height="2.00" fill="#008400" />
<rect x="676.00" y="70.00" width="5.00" height="2.00" fill="#008400" />
<rect x="675.00" y="72.00" width="7.00" height="2.00" fill="#008400" />
<rect x="674.00" y="74.00" width="9.00" height="1.00" fill="#008400" />
<rect x="677.00" y="75.00" width="3.00" height="6.00" fill="#008400" />
<rect x="686.00" y="70.00" width="1.00" height="2.00" fill="#008400" />
<rect x="685.00" y="72.00" width="3.00" height="2.00" fill="#008400" />
<rect x="684.00" y="74.00" width="5.00" height="2.00" fill="#008400" />
<rect x="683.00" y="76.00" width="7.00" height="2.00" fill="#008400" />
<rect x="682.00" y="78.00" width="9.00" height="1.00" fill="#008400" />
<rect x="685.00" y="79.00" width="3.00" height="6.00" fill="#008400" />
<rect x="708.00" y="93.00" width="1.00" height="2.00" fill="#008400" />
<rect x="707.00" y="95.00" width="3.00" height="2.00" fill="#008400" />
<rect x="706.00" y="97.00" width="5.00" height="2.00" fill="#008400" />
<rect x="705.00" y="99.00" width="7.00" height="2.00" fill="#008400" />
<rect x="704.00" y="101.00" width="9.00" height="1.00" fill="#008400" />
<rect x="707.00" y="102.00" width="3.00" height="6.00" fill="#008400" />
<text x="9.4" y="309.6" font-family="Liberation Sans, Arial, sans-serif" font-size="12px" fill="#000">2025</text>
<rect x="41.00" y="299.00" width="1.00" height="7.00" fill="#000" />
<text transform="translate(45.3,309.6) scale(0.93,1)" font-family="Liberation Sans, Arial, sans-serif" font-size="12px" fill="#000">Feb</text>
<rect x="111.00" y="299.00" width="1.00" height="7.00" fill="#000" />
<text transform="translate(115.3,309.6) scale(0.93,1)" font-family="Liberation Sans, Arial, sans-serif" font-size="12px" fill="#000">Mar</text>
<rect x="188.00" y="299.00" width="1.00" height="7.00" fill="#000" />
<text transform="translate(192.3,309.6) scale(0.93,1)" font-family="Liberation Sans, Arial, sans-serif" font-size="12px" fill="#000">Apr</text>
<rect x="264.00" y="299.00" width="1.00" height="7.00" fill="#000" />
<text transform="translate(268.3,309.6) scale(0.93,1)" font-family="Liberation Sans, Arial, sans-serif" font-size="12px" fill="#000">May</text>
<rect x="341.00" y="299.00" width="1.00" height="7.00" fill="#000" />
<text transform="translate(345.3,309.6) scale(0.93,1)" font-family="Liberation Sans, Arial, sans-serif" font-size="12px" fill="#000">Jun</text>
<rect x="414.00" y="299.00" width="1.00" height="7.00" fill="#000" />
<text transform="translate(418.3,309.6) scale(0.93,1)" font-family="Liberation Sans, Arial, sans-serif" font-size="12px" fill="#000">Jul</text>
<rect x="494.00" y="299.00" width="1.00" height="7.00" fill="#000" />
<text transform="translate(498.3,309.6) scale(0.93,1)" font-family="Liberation Sans, Arial, sans-serif" font-size="12px" fill="#000">Aug</text>
<rect x="572.00" y="299.00" width="1.00" height="7.00" fill="#000" />
<text transform="translate(576.3,309.6) scale(0.93,1)" font-family="Liberation Sans, Arial, sans-serif" font-size="12px" fill="#000">Sep</text>
<rect x="649.00" y="299.00" width="1.00" height="7.00" fill="#000" />
<text transform="translate(653.3,309.6) scale(0.93,1)" font-family="Liberation Sans, Arial, sans-serif" font-size="12px" fill="#000">Oct</text>
<text x="776" y="22.8" text-anchor="end" font-family="Liberation Sans, Arial, sans-serif" font-size="12px" fill="#000">42</text>
<text x="776" y="66.8" text-anchor="end" font-family="Liberation Sans, Arial, sans-serif" font-size="12px" fill="#000">40</text>
<text x="776" y="111.8" text-anchor="end" font-family="Liberation Sans, Arial, sans-serif" font-size="12px" fill="#000">38</text>
<text x="776" y="156.8" text-anchor="end" font-family="Liberation Sans, Arial, sans-serif" font-size="12px" fill="#000">36</text>
<text x="776" y="200.8" text-anchor="end" font-family="Liberation Sans, Arial, sans-serif" font-size="12px" fill="#000">34</text>
<text x="776" y="245.8" text-anchor="end" font-family="Liberation Sans, Arial, sans-serif" font-size="12px" fill="#000">32</text>
<text x="776" y="290.8" text-anchor="end" font-family="Liberation Sans, Arial, sans-serif" font-size="12px" fill="#000">30</text>
<rect x="3.00" y="319.00" width="8.00" height="1.00" fill="#000" />
<rect x="367.00" y="319.00" width="353.00" height="1.00" fill="#000" />
<rect x="3.00" y="319.00" width="1.00" height="88.00" fill="#000" />
<rect x="719.00" y="319.00" width="1.00" height="88.00" fill="#000" />
<rect x="3.00" y="406.00" width="717.00" height="1.00" fill="#000" />
<path d="M372 321.5h1M380 321.5h1M388 321.5h1M396 321.5h1M404 321.5h1M412 321.5h1M420 321.5h1M428 321.5h1M436 321.5h1M444 321.5h1M452 321.5h1M460 321.5h1M468 321.5h1M476 321.5h1M484 321.5h1M492 321.5h1M500 321.5h1M508 321.5h1M516 321.5h1M524 321.5h1M532 321.5h1M540 321.5h1M548 321.5h1M556 321.5h1M564 321.5h1M572 321.5h1M580 321.5h1M588 321.5h1M596 321.5h1M604 321.5h1M612 321.5h1M620 321.5h1M628 321.5h1M636 321.5h1M644 321.5h1M652 321.5h1M660 321.5h1M668 321.5h1M676 321.5h1M684 321.5h1M692 321.5h1M700 321.5h1M708 321.5h1M716 321.5h1" stroke="#000" stroke-width="1" fill="none"/>
<rect x="4.00" y="321.00" width="1.00" height="1.00" fill="#000" />
<rect x="720.00" y="321.00" width="4.00" height="1.00" fill="#000" />
<path d="M12 338.5h1M20 338.5h1M28 338.5h1M36 338.5h1M44 338.5h1M52 338.5h1M60 338.5h1M68 338.5h1M76 338.5h1M84 338.5h1M92 338.5h1M100 338.5h1M108 338.5h1M116 338.5h1M124 338.5h1M132 338.5h1M140 338.5h1M148 338.5h1M156 338.5h1M164 338.5h1M172 338.5h1M180 338.5h1M188 338.5h1M196 338.5h1M204 338.5h1M212 338.5h1M220 338.5h1M228 338.5h1M236 338.5h1M244 338.5h1M252 338.5h1M260 338.5h1M268 338.5h1M276 338.5h1M284 338.5h1M292 338.5h1M300 338.5h1M308 338.5h1M316 338.5h1M324 338.5h1M332 338.5h1M340 338.5h1M348 338.5h1M356 338.5h1M364 338.5h1M372 338.5h1M380 338.5h1M388 338.5h1M396 338.5h1M404 338.5h1M412 338.5h1M420 338.5h1M428 338.5h1M436 338.5h1M444 338.5h1M452 338.5h1M460 338.5h1M468 338.5h1M476 338.5h1M484 338.5h1M492 338.5h1M500 338.5h1M508 338.5h1M516 338.5h1M524 338.5h1M532 338.5h1M540 338.5h1M548 338.5h1M556 338.5h1M564 338.5h1M572 338.5h1M580 338.5h1M588 338.5h1M596 338.5h1M604 338.5h1M612 338.5h1M620 338.5h1M628 338.5h1M636 338.5h1M644 338.5h1M652 338.5h1M660 338.5h1M668 338.5h1M676 338.5h1M684 338.5h1M692 338.5h1M700 338.5h1M708 338.5h1M716 338.5h1" stroke="#000" stroke-width="1" fill="none"/>
<rect x="4.00" y="338.00" width="1.00" height="1.00" fill="#000" />
<rect x="720.00" y="338.00" width="4.00" height="1.00" fill="#000" />
<path d="M12 356.5h1M20 356.5h1M28 356.5h1M36 356.5h1M44 356.5h1M52 356.5h1M60 356.5h1M68 356.5h1M76 356.5h1M84 356.5h1M92 356.5h1M100 356.5h1M108 356.5h1M116 356.5h1M124 356.5h1M132 356.5h1M140 356.5h1M148 356.5h1M156 356.5h1M164 356.5h1M172 356.5h1M180 356.5h1M188 356.5h1M196 356.5h1M204 356.5h1M212 356.5h1M220 356.5h1M228 356.5h1M236 356.5h1M244 356.5h1M252 356.5h1M260 356.5h1M268 356.5h1M276 356.5h1M284 356.5h1M292 356.5h1M300 356.5h1M308 356.5h1M316 356.5h1M324 356.5h1M332 356.5h1M340 356.5h1M348 356.5h1M356 356.5h1M364 356.5h1M372 356.5h1M380 356.5h1M388 356.5h1M396 356.5h1M404 356.5h1M412 356.5h1M420 356.5h1M428 356.5h1M436 356.5h1M444 356.5h1M452 356.5h1M460 356.5h1M468 356.5h1M476 356.5h1M484 356.5h1M492 356.5h1M500 356.5h1M508 356.5h1M516 356.5h1M524 356.5h1M532 356.5h1M540 356.5h1M548 356.5h1M556 356.5h1M564 356.5h1M572 356.5h1M580 356.5h1M588 356.5h1M596 356.5h1M604 356.5h1M612 356.5h1M620 356.5h1M628 356.5h1M636 356.5h1M644 356.5h1M652 356.5h1M660 356.5h1M668 356.5h1M676 356.5h1M684 356.5h1M692 356.5h1M700 356.5h1M708 356.5h1M716 356.5h1" stroke="#000" stroke-width="1" fill="none"/>
<rect x="4.00" y="356.00" width="1.00" height="1.00" fill="#000" />
<rect x="720.00" y="356.00" width="4.00" height="1.00" fill="#000" />
<path d="M12 373.5h1M20 373.5h1M28 373.5h1M36 373.5h1M44 373.5h1M52 373.5h1M60 373.5h1M68 373.5h1M76 373.5h1M84 373.5h1M92 373.5h1M100 373.5h1M108 373.5h1M116 373.5h1M124 373.5h1M132 373.5h1M140 373.5h1M148 373.5h1M156 373.5h1M164 373.5h1M172 373.5h1M180 373.5h1M188 373.5h1M196 373.5h1M204 373.5h1M212 373.5h1M220 373.5h1M228 373.5h1M236 373.5h1M244 373.5h1M252 373.5h1M260 373.5h1M268 373.5h1M276 373.5h1M284 373.5h1M292 373.5h1M300 373.5h1M308 373.5h1M316 373.5h1M324 373.5h1M332 373.5h1M340 373.5h1M348 373.5h1M356 373.5h1M364 373.5h1M372 373.5h1M380 373.5h1M388 373.5h1M396 373.5h1M404 373.5h1M412 373.5h1M420 373.5h1M428 373.5h1M436 373.5h1M444 373.5h1M452 373.5h1M460 373.5h1M468 373.5h1M476 373.5h1M484 373.5h1M492 373.5h1M500 373.5h1M508 373.5h1M516 373.5h1M524 373.5h1M532 373.5h1M540 373.5h1M548 373.5h1M556 373.5h1M564 373.5h1M572 373.5h1M580 373.5h1M588 373.5h1M596 373.5h1M604 373.5h1M612 373.5h1M620 373.5h1M628 373.5h1M636 373.5h1M644 373.5h1M652 373.5h1M660 373.5h1M668 373.5h1M676 373.5h1M684 373.5h1M692 373.5h1M700 373.5h1M708 373.5h1M716 373.5h1" stroke="#000" stroke-width="1" fill="none"/>
<rect x="4.00" y="373.00" width="1.00" height="1.00" fill="#000" />
<rect x="720.00" y="373.00" width="4.00" height="1.00" fill="#000" />
<path d="M12 391.5h1M20 391.5h1M28 391.5h1M36 391.5h1M44 391.5h1M52 391.5h1M60 391.5h1M68 391.5h1M76 391.5h1M84 391.5h1M92 391.5h1M100 391.5h1M108 391.5h1M116 391.5h1M124 391.5h1M132 391.5h1M140 391.5h1M148 391.5h1M156 391.5h1M164 391.5h1M172 391.5h1M180 391.5h1M188 391.5h1M196 391.5h1M204 391.5h1M212 391.5h1M220 391.5h1M228 391.5h1M236 391.5h1M244 391.5h1M252 391.5h1M260 391.5h1M268 391.5h1M276 391.5h1M284 391.5h1M292 391.5h1M300 391.5h1M308 391.5h1M316 391.5h1M324 391.5h1M332 391.5h1M340 391.5h1M348 391.5h1M356 391.5h1M364 391.5h1M372 391.5h1M380 391.5h1M388 391.5h1M396 391.5h1M404 391.5h1M412 391.5h1M420 391.5h1M428 391.5h1M436 391.5h1M444 391.5h1M452 391.5h1M460 391.5h1M468 391.5h1M476 391.5h1M484 391.5h1M492 391.5h1M500 391.5h1M508 391.5h1M516 391.5h1M524 391.5h1M532 391.5h1M540 391.5h1M548 391.5h1M556 391.5h1M564 391.5h1M572 391.5h1M580 391.5h1M588 391.5h1M596 391.5h1M604 391.5h1M612 391.5h1M620 391.5h1M628 391.5h1M636 391.5h1M644 391.5h1M652 391.5h1M660 391.5h1M668 391.5h1M676 391.5h1M684 391.5h1M692 391.5h1M700 391.5h1M708 391.5h1M716 391.5h1" stroke="#000" stroke-width="1" fill="none"/>
<rect x="4.00" y="391.00" width="1.00" height="1.00" fill="#000" />
<rect x="720.00" y="391.00" width="4.00" height="1.00" fill="#000" />
<polyline points="19.5,335.3 25.0,337.0 40.0,337.8 235.8,338.0 238.8,348.3 246.0,348.3 250.0,344.5 291.3,344.5 295.0,335.8 297.5,330.0 398.8,330.0 405.0,327.5 422.5,327.0 430.0,325.0 492.5,325.0 502.5,327.5 620.0,327.5 622.5,331.5 626.3,333.3 711.3,333.3" fill="none" stroke="#000" stroke-width="1" />
<polyline points="19.5,335.3 22.5,357.0 26.3,372.0 32.5,383.3 37.5,387.8 43.8,389.5 93.8,389.5 98.8,393.3 103.8,400.8 295.0,401.0 297.5,400.0 325.0,400.0 327.5,398.3 330.0,395.3 417.5,395.3 422.5,392.0 426.3,382.0 431.3,367.0 437.5,360.3 490.0,360.3 492.5,369.5 496.3,382.0 501.3,389.0 540.0,389.0 543.8,393.3 546.3,395.3 711.3,395.3" fill="none" stroke="#000" stroke-width="1" />
<path d="M45.0 380.3C45.8 379.8 47.5 379.2 50.0 377.5C52.5 375.8 57.1 372.4 60.0 370.0C62.9 367.6 65.0 365.9 67.5 363.3C70.0 360.7 72.9 356.4 75.0 354.5C77.1 352.6 78.3 352.5 80.0 352.0C81.7 351.5 83.5 350.7 85.0 351.5C86.5 352.3 87.3 354.0 88.8 357.0C90.3 360.0 91.9 365.5 93.8 369.5C95.7 373.5 97.9 377.5 100.0 380.8C102.1 384.1 104.2 387.3 106.3 389.5C108.4 391.7 110.8 393.4 112.5 394.0C114.2 394.6 114.6 394.1 116.3 393.3C118.0 392.6 119.8 390.2 122.5 389.5C125.2 388.8 129.6 389.6 132.5 389.0C135.4 388.4 137.5 387.3 140.0 385.8C142.5 384.3 145.0 381.6 147.5 380.0C150.0 378.4 152.5 378.4 155.0 376.5C157.5 374.6 160.0 371.3 162.5 368.3C165.0 365.3 167.9 359.9 170.0 358.3C172.1 356.7 173.5 357.6 175.0 358.8C176.5 360.1 177.3 363.2 178.8 365.8C180.3 368.4 181.9 372.1 183.8 374.5C185.7 376.9 188.1 378.6 190.0 380.5C191.9 382.4 193.3 384.1 195.0 385.8C196.7 387.5 198.1 389.6 200.0 390.8C201.9 392.0 204.6 393.4 206.3 392.8C208.0 392.2 208.6 389.6 210.0 387.0C211.4 384.4 212.9 380.3 215.0 377.0C217.1 373.7 220.0 369.4 222.5 367.0C225.0 364.6 227.1 363.5 230.0 362.8C232.9 362.1 237.3 363.8 240.0 362.8C242.7 361.8 243.8 359.2 246.3 357.0C248.8 354.8 250.6 350.8 255.0 349.5C259.4 348.2 268.5 348.9 272.5 349.5C276.5 350.1 276.5 351.6 278.8 352.8C281.1 354.0 284.2 357.1 286.3 356.5C288.4 355.9 289.6 352.2 291.3 349.5C293.0 346.8 294.6 342.1 296.3 340.0C298.0 337.9 299.4 337.4 301.3 337.0C303.2 336.6 305.6 337.0 307.5 337.8C309.4 338.6 310.4 340.2 312.5 342.0C314.6 343.8 317.9 346.7 320.0 348.3C322.1 349.9 323.1 350.8 325.0 351.5C326.9 352.2 329.2 351.6 331.3 352.5C333.4 353.4 335.8 356.1 337.5 357.0C339.2 357.9 340.1 358.4 341.3 357.8C342.6 357.2 343.3 355.2 345.0 353.3C346.7 351.4 349.2 347.7 351.3 346.5C353.4 345.3 355.4 345.8 357.5 346.3C359.6 346.8 361.7 349.0 363.8 349.5C365.9 350.0 368.1 349.2 370.0 349.5C371.9 349.8 373.3 351.1 375.0 351.5C376.7 351.9 378.1 351.6 380.0 351.8C381.9 352.0 384.2 352.8 386.3 352.8C388.4 352.8 390.6 353.6 392.5 352.0C394.4 350.4 395.6 345.9 397.5 343.3C399.4 340.7 401.7 337.6 403.8 336.5C405.9 335.4 407.7 335.2 410.0 337.0C412.3 338.8 415.2 344.7 417.5 347.0C419.8 349.3 421.7 349.6 423.8 350.8C425.9 352.1 427.3 353.9 430.0 354.5C432.7 355.1 436.7 355.1 440.0 354.5C443.3 353.9 446.9 352.1 450.0 350.8C453.1 349.6 456.5 347.5 458.8 347.0C461.1 346.5 462.1 347.2 463.8 347.8C465.5 348.4 466.7 350.7 468.8 350.8C470.9 350.9 474.0 349.3 476.3 348.3C478.6 347.3 480.6 345.0 482.5 345.0C484.4 345.0 485.8 346.1 487.5 348.3C489.2 350.5 490.8 354.8 492.5 358.3C494.2 361.8 495.6 366.1 497.5 369.5C499.4 372.9 501.9 376.9 503.8 379.0C505.7 381.1 506.9 381.5 508.8 382.0C510.7 382.5 512.9 382.8 515.0 382.0C517.1 381.2 519.2 379.1 521.3 377.0C523.4 374.9 525.6 371.4 527.5 369.5C529.4 367.6 531.0 366.5 532.5 365.8C534.0 365.1 535.0 364.3 536.3 365.3C537.5 366.3 538.5 369.2 540.0 372.0C541.5 374.8 543.3 379.8 545.0 382.0C546.7 384.2 548.3 384.9 550.0 385.3C551.7 385.7 553.3 385.7 555.0 384.5C556.7 383.3 558.4 380.1 560.0 378.3C561.6 376.5 563.0 374.1 564.5 373.8C566.0 373.5 567.5 375.6 568.8 376.5C570.1 377.4 571.0 378.9 572.5 379.5C574.0 380.1 575.6 380.9 577.5 380.3C579.4 379.7 581.7 378.9 583.8 375.8C585.9 372.8 587.9 366.4 590.0 362.0C592.1 357.6 594.4 352.6 596.3 349.5C598.2 346.4 599.6 344.6 601.3 343.3C603.0 342.0 604.4 341.6 606.3 341.5C608.2 341.4 610.2 342.2 612.5 342.5C614.8 342.8 617.7 342.8 620.0 343.3C622.3 343.9 624.2 344.4 626.3 345.8C628.4 347.2 630.4 349.7 632.5 352.0C634.6 354.3 636.7 356.2 638.8 359.5C640.9 362.8 643.1 369.0 645.0 371.5C646.9 374.0 648.1 374.4 650.0 374.5C651.9 374.6 654.4 372.9 656.3 372.0C658.2 371.1 659.8 369.6 661.3 369.0C662.8 368.4 663.3 369.6 665.0 368.3C666.7 367.1 669.4 362.0 671.3 361.5C673.2 361.0 674.4 364.3 676.3 365.3C678.2 366.3 680.2 366.9 682.5 367.5C684.8 368.1 687.7 368.1 690.0 368.8C692.3 369.6 694.0 370.0 696.3 372.0C698.6 374.0 701.7 379.1 703.8 380.8C705.9 382.6 707.5 382.9 708.8 382.5C710.0 382.1 710.9 379.0 711.3 378.3" fill="none" stroke="#0000ff" stroke-width="1"/>
<path d="M19.5 335.3C19.8 337.7 20.6 344.6 21.3 349.5C22.0 354.4 22.8 360.1 23.8 364.5C24.8 368.9 26.1 372.5 27.5 375.8C28.9 379.1 30.8 382.1 32.5 384.5C34.2 386.9 36.0 388.8 37.5 390.0C39.0 391.2 40.2 392.1 41.3 392.0C42.3 391.9 42.8 391.4 43.8 389.5C44.8 387.6 45.8 384.1 47.5 380.8C49.2 377.5 51.7 372.6 53.8 369.5C55.9 366.4 57.9 363.9 60.0 362.0C62.1 360.1 64.4 360.4 66.3 358.3C68.2 356.2 69.4 351.7 71.3 349.5C73.2 347.3 75.4 345.3 77.5 345.0C79.6 344.7 82.1 346.1 83.8 347.5C85.5 348.9 86.2 349.6 87.5 353.3C88.8 357.0 90.0 363.9 91.3 369.5C92.5 375.1 93.8 382.4 95.0 387.0C96.2 391.6 97.3 394.2 98.8 397.0C100.3 399.8 102.1 402.8 103.8 404.0C105.5 405.2 107.3 404.5 108.8 404.0C110.2 403.5 111.0 402.8 112.5 400.8C114.0 398.8 115.8 394.3 117.5 392.0C119.2 389.7 121.0 388.1 122.5 387.0C124.0 385.9 124.8 385.3 126.3 385.3C127.8 385.3 129.6 386.8 131.3 387.0C133.0 387.2 134.4 387.8 136.3 386.5C138.2 385.2 140.6 381.7 142.5 379.5C144.4 377.3 145.8 374.6 147.5 373.3C149.2 372.1 150.4 373.5 152.5 372.0C154.6 370.5 157.9 367.2 160.0 364.5C162.1 361.8 163.3 358.6 165.0 355.8C166.7 353.0 168.5 348.3 170.0 347.5C171.5 346.7 172.6 348.8 173.8 350.8C175.1 352.8 176.5 355.1 177.5 359.5C178.5 363.9 178.8 371.6 180.0 377.0C181.2 382.4 183.5 388.9 185.0 392.0C186.5 395.1 187.8 396.0 188.8 395.8C189.9 395.6 190.5 391.6 191.3 390.8C192.1 390.0 192.8 390.2 193.8 390.8C194.8 391.4 196.1 393.3 197.5 394.5C198.9 395.7 201.0 397.6 202.5 397.8C204.0 398.0 205.1 398.0 206.3 395.8C207.6 393.6 208.6 388.9 210.0 384.5C211.4 380.1 213.3 373.4 215.0 369.5C216.7 365.6 218.3 363.1 220.0 360.8C221.7 358.5 223.3 356.6 225.0 355.8C226.7 355.0 228.5 355.2 230.0 355.8C231.5 356.4 232.6 358.5 233.8 359.5C235.1 360.5 236.2 361.8 237.5 362.0C238.8 362.2 239.8 362.5 241.3 360.8C242.8 359.1 244.6 354.9 246.3 352.0C248.0 349.1 249.9 345.1 251.3 343.3C252.8 341.6 253.8 341.3 255.0 341.5C256.2 341.7 257.3 343.2 258.8 344.5C260.3 345.8 261.9 348.8 263.8 349.5C265.7 350.2 267.9 348.4 270.0 349.0C272.1 349.6 274.2 352.0 276.3 353.3C278.4 354.6 280.8 356.1 282.5 357.0C284.2 357.9 285.1 360.1 286.3 358.8C287.6 357.6 288.8 353.1 290.0 349.5C291.2 345.9 292.6 340.4 293.8 337.0C295.1 333.6 296.2 330.4 297.5 329.0C298.8 327.6 300.1 327.8 301.3 328.3C302.6 328.8 303.6 330.1 305.0 332.0C306.4 333.9 308.3 337.0 310.0 339.5C311.7 342.0 313.3 344.5 315.0 347.0C316.7 349.5 318.3 352.5 320.0 354.5C321.7 356.5 323.3 358.6 325.0 359.0C326.7 359.4 328.5 357.3 330.0 357.0C331.5 356.7 332.6 356.2 333.8 357.0C335.1 357.8 336.5 360.7 337.5 361.5C338.5 362.3 339.2 362.5 340.0 362.0C340.8 361.5 341.4 361.2 342.5 358.3C343.6 355.4 345.1 347.8 346.3 344.5C347.6 341.2 348.8 339.1 350.0 338.3C351.2 337.5 352.3 338.2 353.8 339.5C355.3 340.8 356.9 343.9 358.8 345.8C360.7 347.7 363.1 350.0 365.0 350.8C366.9 351.6 368.3 350.2 370.0 350.8C371.7 351.4 373.3 354.1 375.0 354.5C376.7 354.9 378.5 353.3 380.0 353.3C381.5 353.3 382.6 354.7 383.8 354.5C385.1 354.3 386.1 352.4 387.5 352.0C388.9 351.6 391.0 353.9 392.5 352.0C394.0 350.1 394.8 344.8 396.3 340.8C397.8 336.9 400.0 331.2 401.3 328.3C402.6 325.4 403.3 323.3 404.3 323.3C405.3 323.3 406.3 326.0 407.5 328.3C408.7 330.6 410.1 333.5 411.3 337.0C412.6 340.5 413.6 346.2 415.0 349.5C416.4 352.8 417.7 355.2 420.0 357.0C422.3 358.8 426.5 360.0 428.8 360.0C431.1 360.0 431.9 358.0 433.8 357.0C435.7 356.0 437.7 355.0 440.0 354.0C442.3 353.0 445.0 352.4 447.5 350.8C450.0 349.2 452.9 345.8 455.0 344.5C457.1 343.2 458.5 342.9 460.0 343.3C461.5 343.7 462.1 345.3 463.8 347.0C465.5 348.7 467.9 353.3 470.0 353.3C472.1 353.3 474.4 349.2 476.3 347.0C478.2 344.8 479.9 340.9 481.3 340.3C482.8 339.7 483.8 341.4 485.0 343.3C486.2 345.2 487.6 347.6 488.8 352.0C490.1 356.4 491.2 364.1 492.5 369.5C493.8 374.9 494.8 380.8 496.3 384.5C497.8 388.2 499.9 390.4 501.3 392.0C502.8 393.6 503.6 393.9 505.0 393.8C506.4 393.7 508.3 393.1 510.0 391.5C511.7 389.9 513.3 387.8 515.0 384.5C516.7 381.2 518.3 375.5 520.0 372.0C521.7 368.5 523.3 365.5 525.0 363.3C526.7 361.1 528.3 359.6 530.0 359.0C531.7 358.4 533.5 358.2 535.0 360.0C536.5 361.8 537.5 365.0 538.8 369.5C540.0 374.0 541.1 382.1 542.5 387.0C543.9 391.9 545.5 398.0 547.0 398.8C548.5 399.6 550.0 394.8 551.3 392.0C552.6 389.2 553.5 385.5 555.0 382.0C556.5 378.5 558.4 373.3 560.0 370.8C561.6 368.3 563.2 366.8 564.5 367.0C565.8 367.2 566.4 369.7 567.5 372.0C568.6 374.3 569.8 378.6 571.3 380.8C572.8 383.0 574.8 385.2 576.3 385.0C577.8 384.8 578.5 382.1 580.0 379.5C581.5 376.9 583.5 373.7 585.0 369.5C586.5 365.3 587.5 359.5 588.8 354.5C590.0 349.5 591.2 343.2 592.5 339.5C593.8 335.8 595.2 333.8 596.3 332.0C597.3 330.2 597.5 329.1 598.8 329.0C600.0 328.9 602.1 330.4 603.8 331.5C605.5 332.6 607.1 333.8 608.8 335.8C610.5 337.8 612.1 341.8 613.8 343.3C615.5 344.8 617.1 344.6 618.8 345.0C620.5 345.4 622.1 345.1 623.8 345.8C625.5 346.6 627.1 346.8 628.8 349.5C630.5 352.2 631.9 357.6 633.8 362.0C635.7 366.4 638.1 371.8 640.0 375.8C641.9 379.9 643.3 385.1 645.0 386.3C646.7 387.6 648.3 385.7 650.0 383.3C651.7 380.9 653.3 375.0 655.0 372.0C656.7 369.0 658.3 366.8 660.0 365.3C661.7 363.9 663.5 364.5 665.0 363.3C666.5 362.1 667.8 359.6 668.8 358.3C669.8 357.0 670.3 354.7 671.3 355.3C672.3 355.9 673.5 359.8 675.0 362.0C676.5 364.2 678.5 366.7 680.0 368.3C681.5 369.9 682.1 371.1 683.8 371.5C685.5 371.9 688.1 370.5 690.0 370.8C691.9 371.1 693.3 371.4 695.0 373.3C696.7 375.2 698.3 379.2 700.0 382.0C701.7 384.8 703.6 389.1 705.0 390.3C706.4 391.6 707.2 391.6 708.3 389.5C709.3 387.4 710.8 379.5 711.3 377.5" fill="none" stroke="#ff0000" stroke-width="1"/>
<text x="776" y="324.8" text-anchor="end" font-family="Liberation Sans, Arial, sans-serif" font-size="12px" fill="#000">100</text>
<text x="776" y="341.8" text-anchor="end" font-family="Liberation Sans, Arial, sans-serif" font-size="12px" fill="#000">80</text>
<text x="776" y="359.8" text-anchor="end" font-family="Liberation Sans, Arial, sans-serif" font-size="12px" fill="#000">60</text>
<text x="776" y="376.8" text-anchor="end" font-family="Liberation Sans, Arial, sans-serif" font-size="12px" fill="#000">40</text>
<text x="776" y="394.8" text-anchor="end" font-family="Liberation Sans, Arial, sans-serif" font-size="12px" fill="#000">20</text>
<rect x="3.00" y="417.00" width="8.00" height="1.00" fill="#000" />
<rect x="425.00" y="417.00" width="295.00" height="1.00" fill="#000" />
<rect x="3.00" y="417.00" width="1.00" height="315.00" fill="#000" />
<rect x="719.00" y="417.00" width="1.00" height="315.00" fill="#000" />
<rect x="3.00" y="731.00" width="717.00" height="1.00" fill="#000" />
<path d="M12 450.5h1M20 450.5h1M28 450.5h1M36 450.5h1M44 450.5h1M52 450.5h1M60 450.5h1M68 450.5h1M76 450.5h1M84 450.5h1M92 450.5h1M100 450.5h1M108 450.5h1M116 450.5h1M124 450.5h1M132 450.5h1M140 450.5h1M148 450.5h1M156 450.5h1M164 450.5h1M172 450.5h1M180 450.5h1M188 450.5h1M196 450.5h1M204 450.5h1M212 450.5h1M220 450.5h1M228 450.5h1M236 450.5h1M244 450.5h1M252 450.5h1M260 450.5h1M268 450.5h1M276 450.5h1M284 450.5h1M292 450.5h1M300 450.5h1M308 450.5h1M316 450.5h1M324 450.5h1M332 450.5h1M340 450.5h1M348 450.5h1M356 450.5h1M364 450.5h1M372 450.5h1M380 450.5h1M388 450.5h1M396 450.5h1M404 450.5h1M412 450.5h1M420 450.5h1M428 450.5h1M436 450.5h1M444 450.5h1M452 450.5h1M460 450.5h1M468 450.5h1M476 450.5h1M484 450.5h1M492 450.5h1M500 450.5h1M508 450.5h1M516 450.5h1M524 450.5h1M532 450.5h1M540 450.5h1M548 450.5h1M556 450.5h1M564 450.5h1M572 450.5h1M580 450.5h1M588 450.5h1M596 450.5h1M604 450.5h1M612 450.5h1M620 450.5h1M628 450.5h1M636 450.5h1M644 450.5h1M652 450.5h1M660 450.5h1M668 450.5h1M676 450.5h1M684 450.5h1M692 450.5h1M700 450.5h1M708 450.5h1M716 450.5h1" stroke="#000" stroke-width="1" fill="none"/>
<rect x="4.00" y="450.00" width="1.00" height="1.00" fill="#000" />
<rect x="720.00" y="450.00" width="4.00" height="1.00" fill="#000" />
<path d="M12 488.5h1M20 488.5h1M28 488.5h1M36 488.5h1M44 488.5h1M52 488.5h1M60 488.5h1M68 488.5h1M76 488.5h1M84 488.5h1M92 488.5h1M100 488.5h1M108 488.5h1M116 488.5h1M124 488.5h1M132 488.5h1M140 488.5h1M148 488.5h1M156 488.5h1M164 488.5h1M172 488.5h1M180 488.5h1M188 488.5h1M196 488.5h1M204 488.5h1M212 488.5h1M220 488.5h1M228 488.5h1M236 488.5h1M244 488.5h1M252 488.5h1M260 488.5h1M268 488.5h1M276 488.5h1M284 488.5h1M292 488.5h1M300 488.5h1M308 488.5h1M316 488.5h1M324 488.5h1M332 488.5h1M340 488.5h1M348 488.5h1M356 488.5h1M364 488.5h1M372 488.5h1M380 488.5h1M388 488.5h1M396 488.5h1M404 488.5h1M412 488.5h1M420 488.5h1M428 488.5h1M436 488.5h1M444 488.5h1M452 488.5h1M460 488.5h1M468 488.5h1M476 488.5h1M484 488.5h1M492 488.5h1M500 488.5h1M508 488.5h1M516 488.5h1M524 488.5h1M532 488.5h1M540 488.5h1M548 488.5h1M556 488.5h1M564 488.5h1M572 488.5h1M580 488.5h1M588 488.5h1M596 488.5h1M604 488.5h1M612 488.5h1M620 488.5h1M628 488.5h1M636 488.5h1M644 488.5h1M652 488.5h1M660 488.5h1M668 488.5h1M676 488.5h1M684 488.5h1M692 488.5h1M700 488.5h1M708 488.5h1M716 488.5h1" stroke="#000" stroke-width="1" fill="none"/>
<rect x="4.00" y="488.00" width="1.00" height="1.00" fill="#000" />
<rect x="720.00" y="488.00" width="4.00" height="1.00" fill="#000" />
<path d="M12 527.5h1M20 527.5h1M28 527.5h1M36 527.5h1M44 527.5h1M52 527.5h1M60 527.5h1M68 527.5h1M76 527.5h1M84 527.5h1M92 527.5h1M100 527.5h1M108 527.5h1M116 527.5h1M124 527.5h1M132 527.5h1M140 527.5h1M148 527.5h1M156 527.5h1M164 527.5h1M172 527.5h1M180 527.5h1M188 527.5h1M196 527.5h1M204 527.5h1M212 527.5h1M220 527.5h1M228 527.5h1M236 527.5h1M244 527.5h1M252 527.5h1M260 527.5h1M268 527.5h1M276 527.5h1M284 527.5h1M292 527.5h1M300 527.5h1M308 527.5h1M316 527.5h1M324 527.5h1M332 527.5h1M340 527.5h1M348 527.5h1M356 527.5h1M364 527.5h1M372 527.5h1M380 527.5h1M388 527.5h1M396 527.5h1M404 527.5h1M412 527.5h1M420 527.5h1M428 527.5h1M436 527.5h1M444 527.5h1M452 527.5h1M460 527.5h1M468 527.5h1M476 527.5h1M484 527.5h1M492 527.5h1M500 527.5h1M508 527.5h1M516 527.5h1M524 527.5h1M532 527.5h1M540 527.5h1M548 527.5h1M556 527.5h1M564 527.5h1M572 527.5h1M580 527.5h1M588 527.5h1M596 527.5h1M604 527.5h1M612 527.5h1M620 527.5h1M628 527.5h1M636 527.5h1M644 527.5h1M652 527.5h1M660 527.5h1M668 527.5h1M676 527.5h1M684 527.5h1M692 527.5h1M700 527.5h1M708 527.5h1M716 527.5h1" stroke="#000" stroke-width="1" fill="none"/>
<rect x="4.00" y="527.00" width="1.00" height="1.00" fill="#000" />
<rect x="720.00" y="527.00" width="4.00" height="1.00" fill="#000" />
<path d="M12 566.5h1M20 566.5h1M28 566.5h1M36 566.5h1M44 566.5h1M52 566.5h1M60 566.5h1M68 566.5h1M76 566.5h1M84 566.5h1M92 566.5h1M100 566.5h1M108 566.5h1M116 566.5h1M124 566.5h1M132 566.5h1M140 566.5h1M148 566.5h1M156 566.5h1M164 566.5h1M172 566.5h1M180 566.5h1M188 566.5h1M196 566.5h1M204 566.5h1M212 566.5h1M220 566.5h1M228 566.5h1M236 566.5h1M244 566.5h1M252 566.5h1M260 566.5h1M268 566.5h1M276 566.5h1M284 566.5h1M292 566.5h1M300 566.5h1M308 566.5h1M316 566.5h1M324 566.5h1M332 566.5h1M340 566.5h1M348 566.5h1M356 566.5h1M364 566.5h1M372 566.5h1M380 566.5h1M388 566.5h1M396 566.5h1M404 566.5h1M412 566.5h1M420 566.5h1M428 566.5h1M436 566.5h1M444 566.5h1M452 566.5h1M460 566.5h1M468 566.5h1M476 566.5h1M484 566.5h1M492 566.5h1M500 566.5h1M508 566.5h1M516 566.5h1M524 566.5h1M532 566.5h1M540 566.5h1M548 566.5h1M556 566.5h1M564 566.5h1M572 566.5h1M580 566.5h1M588 566.5h1M596 566.5h1M604 566.5h1M612 566.5h1M620 566.5h1M628 566.5h1M636 566.5h1M644 566.5h1M652 566.5h1M660 566.5h1M668 566.5h1M676 566.5h1M684 566.5h1M692 566.5h1M700 566.5h1M708 566.5h1M716 566.5h1" stroke="#000" stroke-width="1" fill="none"/>
<rect x="4.00" y="566.00" width="1.00" height="1.00" fill="#000" />
<rect x="720.00" y="566.00" width="4.00" height="1.00" fill="#000" />
<path d="M12 604.5h1M20 604.5h1M28 604.5h1M36 604.5h1M44 604.5h1M52 604.5h1M60 604.5h1M68 604.5h1M76 604.5h1M84 604.5h1M92 604.5h1M100 604.5h1M108 604.5h1M116 604.5h1M124 604.5h1M132 604.5h1M140 604.5h1M148 604.5h1M156 604.5h1M164 604.5h1M172 604.5h1M180 604.5h1M188 604.5h1M196 604.5h1M204 604.5h1M212 604.5h1M220 604.5h1M228 604.5h1M236 604.5h1M244 604.5h1M252 604.5h1M260 604.5h1M268 604.5h1M276 604.5h1M284 604.5h1M292 604.5h1M300 604.5h1M308 604.5h1M316 604.5h1M324 604.5h1M332 604.5h1M340 604.5h1M348 604.5h1M356 604.5h1M364 604.5h1M372 604.5h1M380 604.5h1M388 604.5h1M396 604.5h1M404 604.5h1M412 604.5h1M420 604.5h1M428 604.5h1M436 604.5h1M444 604.5h1M452 604.5h1M460 604.5h1M468 604.5h1M476 604.5h1M484 604.5h1M492 604.5h1M500 604.5h1M508 604.5h1M516 604.5h1M524 604.5h1M532 604.5h1M540 604.5h1M548 604.5h1M556 604.5h1M564 604.5h1M572 604.5h1M580 604.5h1M588 604.5h1M596 604.5h1M604 604.5h1M612 604.5h1M620 604.5h1M628 604.5h1M636 604.5h1M644 604.5h1M652 604.5h1M660 604.5h1M668 604.5h1M676 604.5h1M684 604.5h1M692 604.5h1M700 604.5h1M708 604.5h1M716 604.5h1" stroke="#000" stroke-width="1" fill="none"/>
<rect x="4.00" y="604.00" width="1.00" height="1.00" fill="#000" />
<rect x="720.00" y="604.00" width="4.00" height="1.00" fill="#000" />
<path d="M12 643.5h1M20 643.5h1M28 643.5h1M36 643.5h1M44 643.5h1M52 643.5h1M60 643.5h1M68 643.5h1M76 643.5h1M84 643.5h1M92 643.5h1M100 643.5h1M108 643.5h1M116 643.5h1M124 643.5h1M132 643.5h1M140 643.5h1M148 643.5h1M156 643.5h1M164 643.5h1M172 643.5h1M180 643.5h1M188 643.5h1M196 643.5h1M204 643.5h1M212 643.5h1M220 643.5h1M228 643.5h1M236 643.5h1M244 643.5h1M252 643.5h1M260 643.5h1M268 643.5h1M276 643.5h1M284 643.5h1M292 643.5h1M300 643.5h1M308 643.5h1M316 643.5h1M324 643.5h1M332 643.5h1M340 643.5h1M348 643.5h1M356 643.5h1M364 643.5h1M372 643.5h1M380 643.5h1M388 643.5h1M396 643.5h1M404 643.5h1M412 643.5h1M420 643.5h1M428 643.5h1M436 643.5h1M444 643.5h1M452 643.5h1M460 643.5h1M468 643.5h1M476 643.5h1M484 643.5h1M492 643.5h1M500 643.5h1M508 643.5h1M516 643.5h1M524 643.5h1M532 643.5h1M540 643.5h1M548 643.5h1M556 643.5h1M564 643.5h1M572 643.5h1M580 643.5h1M588 643.5h1M596 643.5h1M604 643.5h1M612 643.5h1M620 643.5h1M628 643.5h1M636 643.5h1M644 643.5h1M652 643.5h1M660 643.5h1M668 643.5h1M676 643.5h1M684 643.5h1M692 643.5h1M700 643.5h1M708 643.5h1M716 643.5h1" stroke="#000" stroke-width="1" fill="none"/>
<rect x="4.00" y="643.00" width="1.00" height="1.00" fill="#000" />
<rect x="720.00" y="643.00" width="4.00" height="1.00" fill="#000" />
<path d="M12 682.5h1M20 682.5h1M28 682.5h1M36 682.5h1M44 682.5h1M52 682.5h1M60 682.5h1M68 682.5h1M76 682.5h1M84 682.5h1M92 682.5h1M100 682.5h1M108 682.5h1M116 682.5h1M124 682.5h1M132 682.5h1M140 682.5h1M148 682.5h1M156 682.5h1M164 682.5h1M172 682.5h1M180 682.5h1M188 682.5h1M196 682.5h1M204 682.5h1M212 682.5h1M220 682.5h1M228 682.5h1M236 682.5h1M244 682.5h1M252 682.5h1M260 682.5h1M268 682.5h1M276 682.5h1M284 682.5h1M292 682.5h1M300 682.5h1M308 682.5h1M316 682.5h1M324 682.5h1M332 682.5h1M340 682.5h1M348 682.5h1M356 682.5h1M364 682.5h1M372 682.5h1M380 682.5h1M388 682.5h1M396 682.5h1M404 682.5h1M412 682.5h1M420 682.5h1M428 682.5h1M436 682.5h1M444 682.5h1M452 682.5h1M460 682.5h1M468 682.5h1M476 682.5h1M484 682.5h1M492 682.5h1M500 682.5h1M508 682.5h1M516 682.5h1M524 682.5h1M532 682.5h1M540 682.5h1M548 682.5h1M556 682.5h1M564 682.5h1M572 682.5h1M580 682.5h1M588 682.5h1M596 682.5h1M604 682.5h1M612 682.5h1M620 682.5h1M628 682.5h1M636 682.5h1M644 682.5h1M652 682.5h1M660 682.5h1M668 682.5h1M676 682.5h1M684 682.5h1M692 682.5h1M700 682.5h1M708 682.5h1M716 682.5h1" stroke="#000" stroke-width="1" fill="none"/>
<rect x="4.00" y="682.00" width="1.00" height="1.00" fill="#000" />
<rect x="720.00" y="682.00" width="4.00" height="1.00" fill="#000" />
<path d="M12 720.5h1M20 720.5h1M28 720.5h1M36 720.5h1M44 720.5h1M52 720.5h1M60 720.5h1M68 720.5h1M76 720.5h1M84 720.5h1M92 720.5h1M100 720.5h1M108 720.5h1M116 720.5h1M124 720.5h1M132 720.5h1M140 720.5h1M148 720.5h1M156 720.5h1M164 720.5h1M172 720.5h1M180 720.5h1M188 720.5h1M196 720.5h1M204 720.5h1M212 720.5h1M220 720.5h1M228 720.5h1M236 720.5h1M244 720.5h1M252 720.5h1M260 720.5h1M268 720.5h1M276 720.5h1M284 720.5h1M292 720.5h1M300 720.5h1M308 720.5h1M316 720.5h1M324 720.5h1M332 720.5h1M340 720.5h1M348 720.5h1M356 720.5h1M364 720.5h1M372 720.5h1M380 720.5h1M388 720.5h1M396 720.5h1M404 720.5h1M412 720.5h1M420 720.5h1M428 720.5h1M436 720.5h1M444 720.5h1M452 720.5h1M460 720.5h1M468 720.5h1M476 720.5h1M484 720.5h1M492 720.5h1M500 720.5h1M508 720.5h1M516 720.5h1M524 720.5h1M532 720.5h1M540 720.5h1M548 720.5h1M556 720.5h1M564 720.5h1M572 720.5h1M580 720.5h1M588 720.5h1M596 720.5h1M604 720.5h1M612 720.5h1M620 720.5h1M628 720.5h1M636 720.5h1M644 720.5h1M652 720.5h1M660 720.5h1M668 720.5h1M676 720.5h1M684 720.5h1M692 720.5h1M700 720.5h1M708 720.5h1M716 720.5h1" stroke="#000" stroke-width="1" fill="none"/>
<rect x="4.00" y="720.00" width="1.00" height="1.00" fill="#000" />
<rect x="720.00" y="720.00" width="4.00" height="1.00" fill="#000" />
<line x1="4.0" y1="543.5" x2="26.0" y2="543.5" stroke="#008400" stroke-width="3" stroke-dasharray="6 1 3 1"/>
<line x1="28.8" y1="554.5" x2="42.5" y2="554.5" stroke="#008400" stroke-width="3" stroke-dasharray="6 1 3 1"/>
<line x1="45.0" y1="560.5" x2="95.0" y2="560.5" stroke="#008400" stroke-width="3" stroke-dasharray="6 1 3 1"/>
<line x1="100.0" y1="565.5" x2="116.0" y2="565.5" stroke="#008400" stroke-width="3" stroke-dasharray="6 1 3 1"/>
<line x1="120.0" y1="605.5" x2="131.0" y2="605.5" stroke="#008400" stroke-width="3" stroke-dasharray="6 1 3 1"/>
<line x1="132.5" y1="639.5" x2="186.0" y2="639.5" stroke="#008400" stroke-width="3" stroke-dasharray="6 1 3 1"/>
<line x1="187.5" y1="662.5" x2="204.0" y2="662.5" stroke="#008400" stroke-width="3" stroke-dasharray="6 1 3 1"/>
<line x1="206.0" y1="708.5" x2="496.0" y2="708.5" stroke="#008400" stroke-width="3" stroke-dasharray="6 1 3 1"/>
<line x1="498.0" y1="546.5" x2="545.0" y2="546.5" stroke="#008400" stroke-width="3" stroke-dasharray="6 1 3 1"/>
<line x1="546.0" y1="573.5" x2="574.0" y2="573.5" stroke="#008400" stroke-width="3" stroke-dasharray="6 1 3 1"/>
<line x1="575.0" y1="581.5" x2="695.0" y2="581.5" stroke="#008400" stroke-width="3" stroke-dasharray="6 1 3 1"/>
<line x1="696.0" y1="525.5" x2="712.5" y2="525.5" stroke="#008400" stroke-width="3" stroke-dasharray="6 1 3 1"/>
<line x1="252.5" y1="623.5" x2="332.5" y2="623.5" stroke="#ff0000" stroke-width="3" stroke-dasharray="6 1 3 1"/>
<line x1="333.8" y1="579.5" x2="346.3" y2="579.5" stroke="#ff0000" stroke-width="3" stroke-dasharray="6 1 3 1"/>
<line x1="348.0" y1="566.5" x2="450.0" y2="566.5" stroke="#ff0000" stroke-width="3" stroke-dasharray="6 1 3 1"/>
<line x1="451.0" y1="530.5" x2="487.5" y2="530.5" stroke="#ff0000" stroke-width="3" stroke-dasharray="6 1 3 1"/>
<line x1="493.8" y1="526.5" x2="596.3" y2="526.5" stroke="#ff0000" stroke-width="3" stroke-dasharray="6 1 3 1"/>
<line x1="597.5" y1="516.5" x2="625.0" y2="516.5" stroke="#ff0000" stroke-width="3" stroke-dasharray="6 1 3 1"/>
<line x1="626.3" y1="492.5" x2="712.5" y2="492.5" stroke="#ff0000" stroke-width="3" stroke-dasharray="6 1 3 1"/>
<rect x="5.00" y="530.00" width="1.00" height="6.00" fill="#000" />
<rect x="4.00" y="534.00" width="3.00" height="3.00" fill="#000" />
<rect x="5.00" y="535.00" width="1.00" height="1.00" fill="#fff" />
<rect x="4.00" y="528.00" width="3.00" height="2.00" fill="#ff0000" />
<rect x="8.00" y="524.00" width="1.00" height="9.00" fill="#000" />
<rect x="7.00" y="524.00" width="3.00" height="8.00" fill="#000" />
<rect x="7.00" y="522.00" width="3.00" height="2.00" fill="#ff0000" />
<rect x="12.00" y="525.00" width="1.00" height="3.00" fill="#000" />
<rect x="11.00" y="526.00" width="3.00" height="1.00" fill="#000" />
<rect x="11.00" y="523.00" width="3.00" height="2.00" fill="#ff0000" />
<rect x="15.00" y="522.00" width="1.00" height="7.00" fill="#000" />
<rect x="14.00" y="524.00" width="3.00" height="3.00" fill="#000" />
<rect x="15.00" y="525.00" width="1.00" height="1.00" fill="#fff" />
<rect x="14.00" y="520.00" width="3.00" height="2.00" fill="#ff0000" />
<rect x="19.00" y="522.00" width="1.00" height="4.00" fill="#000" />
<rect x="18.00" y="522.00" width="3.00" height="4.00" fill="#000" />
<rect x="18.00" y="520.00" width="3.00" height="2.00" fill="#ff0000" />
<rect x="23.00" y="542.00" width="1.00" height="18.00" fill="#000" />
<rect x="22.00" y="547.00" width="3.00" height="12.00" fill="#000" />
<rect x="22.00" y="540.00" width="3.00" height="2.00" fill="#ff0000" />
<rect x="26.00" y="542.00" width="1.00" height="14.00" fill="#000" />
<rect x="25.00" y="545.00" width="3.00" height="10.00" fill="#000" />
<rect x="26.00" y="546.00" width="1.00" height="8.00" fill="#fff" />
<rect x="25.00" y="540.00" width="3.00" height="2.00" fill="#ff0000" />
<rect x="30.00" y="543.00" width="1.00" height="9.00" fill="#000" />
<rect x="29.00" y="544.00" width="3.00" height="6.00" fill="#000" />
<rect x="29.00" y="541.00" width="3.00" height="2.00" fill="#ff0000" />
<rect x="34.00" y="557.00" width="1.00" height="5.00" fill="#000" />
<rect x="33.00" y="557.00" width="3.00" height="2.00" fill="#000" />
<rect x="33.00" y="555.00" width="3.00" height="2.00" fill="#ff0000" />
<rect x="37.00" y="547.00" width="1.00" height="14.00" fill="#000" />
<rect x="36.00" y="554.00" width="3.00" height="5.00" fill="#000" />
<rect x="36.00" y="545.00" width="3.00" height="2.00" fill="#ff0000" />
<rect x="41.00" y="561.00" width="1.00" height="8.00" fill="#000" />
<rect x="40.00" y="564.00" width="3.00" height="5.00" fill="#000" />
<rect x="41.00" y="565.00" width="1.00" height="3.00" fill="#fff" />
<rect x="40.00" y="559.00" width="3.00" height="2.00" fill="#ff0000" />
<rect x="45.00" y="556.00" width="1.00" height="3.00" fill="#000" />
<rect x="44.00" y="556.00" width="3.00" height="3.00" fill="#000" />
<rect x="45.00" y="557.00" width="1.00" height="1.00" fill="#fff" />
<rect x="44.00" y="554.00" width="3.00" height="2.00" fill="#ff0000" />
<rect x="48.00" y="548.00" width="1.00" height="6.00" fill="#000" />
<rect x="47.00" y="551.00" width="3.00" height="3.00" fill="#000" />
<rect x="48.00" y="552.00" width="1.00" height="1.00" fill="#fff" />
<rect x="47.00" y="546.00" width="3.00" height="2.00" fill="#ff0000" />
<rect x="52.00" y="546.00" width="1.00" height="5.00" fill="#000" />
<rect x="51.00" y="546.00" width="3.00" height="5.00" fill="#000" />
<rect x="52.00" y="547.00" width="1.00" height="3.00" fill="#fff" />
<rect x="51.00" y="544.00" width="3.00" height="2.00" fill="#ff0000" />
<rect x="56.00" y="545.00" width="1.00" height="5.00" fill="#000" />
<rect x="55.00" y="545.00" width="3.00" height="5.00" fill="#000" />
<rect x="55.00" y="543.00" width="3.00" height="2.00" fill="#ff0000" />
<rect x="59.00" y="537.00" width="1.00" height="8.00" fill="#000" />
<rect x="58.00" y="544.00" width="3.00" height="1.00" fill="#000" />
<rect x="58.00" y="535.00" width="3.00" height="2.00" fill="#ff0000" />
<rect x="63.00" y="545.00" width="1.00" height="2.00" fill="#000" />
<rect x="62.00" y="545.00" width="3.00" height="2.00" fill="#000" />
<rect x="62.00" y="543.00" width="3.00" height="2.00" fill="#ff0000" />
<rect x="67.00" y="543.00" width="1.00" height="4.00" fill="#000" />
<rect x="66.00" y="544.00" width="3.00" height="2.00" fill="#000" />
<rect x="66.00" y="541.00" width="3.00" height="2.00" fill="#ff0000" />
<rect x="70.00" y="540.00" width="1.00" height="2.00" fill="#000" />
<rect x="69.00" y="540.00" width="3.00" height="1.00" fill="#000" />
<rect x="69.00" y="538.00" width="3.00" height="2.00" fill="#ff0000" />
<rect x="74.00" y="534.00" width="1.00" height="7.00" fill="#000" />
<rect x="73.00" y="537.00" width="3.00" height="2.00" fill="#000" />
<rect x="73.00" y="532.00" width="3.00" height="2.00" fill="#ff0000" />
<rect x="78.00" y="540.00" width="1.00" height="1.00" fill="#000" />
<rect x="77.00" y="540.00" width="3.00" height="1.00" fill="#000" />
<rect x="77.00" y="538.00" width="3.00" height="2.00" fill="#ff0000" />
<rect x="81.00" y="540.00" width="1.00" height="2.00" fill="#000" />
<rect x="80.00" y="540.00" width="3.00" height="2.00" fill="#000" />
<rect x="80.00" y="538.00" width="3.00" height="2.00" fill="#ff0000" />
<rect x="85.00" y="540.00" width="1.00" height="1.00" fill="#000" />
<rect x="84.00" y="540.00" width="3.00" height="1.00" fill="#000" />
<rect x="84.00" y="538.00" width="3.00" height="2.00" fill="#ff0000" />
<rect x="88.00" y="549.00" width="1.00" height="1.00" fill="#000" />
<rect x="87.00" y="549.00" width="3.00" height="1.00" fill="#000" />
<rect x="87.00" y="547.00" width="3.00" height="2.00" fill="#ff0000" />
<rect x="92.00" y="549.00" width="1.00" height="12.00" fill="#000" />
<rect x="91.00" y="549.00" width="3.00" height="12.00" fill="#000" />
<rect x="91.00" y="547.00" width="3.00" height="2.00" fill="#ff0000" />
<rect x="96.00" y="562.00" width="1.00" height="12.00" fill="#000" />
<rect x="95.00" y="562.00" width="3.00" height="9.00" fill="#000" />
<rect x="95.00" y="560.00" width="3.00" height="2.00" fill="#ff0000" />
<rect x="100.00" y="553.00" width="1.00" height="11.00" fill="#000" />
<rect x="99.00" y="560.00" width="3.00" height="3.00" fill="#000" />
<rect x="99.00" y="551.00" width="3.00" height="2.00" fill="#ff0000" />
<rect x="103.00" y="584.00" width="1.00" height="18.00" fill="#000" />
<rect x="102.00" y="588.00" width="3.00" height="14.00" fill="#000" />
<rect x="102.00" y="582.00" width="3.00" height="2.00" fill="#ff0000" />
<rect x="107.00" y="591.00" width="1.00" height="24.00" fill="#000" />
<rect x="106.00" y="591.00" width="3.00" height="24.00" fill="#000" />
<rect x="107.00" y="592.00" width="1.00" height="22.00" fill="#fff" />
<rect x="106.00" y="589.00" width="3.00" height="2.00" fill="#ff0000" />
<rect x="111.00" y="587.00" width="1.00" height="24.00" fill="#000" />
<rect x="110.00" y="587.00" width="3.00" height="24.00" fill="#000" />
<rect x="110.00" y="585.00" width="3.00" height="2.00" fill="#ff0000" />
<rect x="114.00" y="597.00" width="1.00" height="22.00" fill="#000" />
<rect x="113.00" y="608.00" width="3.00" height="3.00" fill="#000" />
<rect x="114.00" y="609.00" width="1.00" height="1.00" fill="#fff" />
<rect x="113.00" y="595.00" width="3.00" height="2.00" fill="#ff0000" />
<rect x="118.00" y="591.00" width="1.00" height="15.00" fill="#000" />
<rect x="117.00" y="592.00" width="3.00" height="13.00" fill="#000" />
<rect x="118.00" y="593.00" width="1.00" height="11.00" fill="#fff" />
<rect x="117.00" y="589.00" width="3.00" height="2.00" fill="#ff0000" />
<rect x="122.00" y="608.00" width="1.00" height="22.00" fill="#000" />
<rect x="121.00" y="617.00" width="3.00" height="2.00" fill="#000" />
<rect x="121.00" y="606.00" width="3.00" height="2.00" fill="#ff0000" />
<rect x="125.00" y="613.00" width="1.00" height="18.00" fill="#000" />
<rect x="124.00" y="617.00" width="3.00" height="8.00" fill="#000" />
<rect x="125.00" y="618.00" width="1.00" height="6.00" fill="#fff" />
<rect x="124.00" y="611.00" width="3.00" height="2.00" fill="#ff0000" />
<rect x="129.00" y="634.00" width="1.00" height="12.00" fill="#000" />
<rect x="128.00" y="634.00" width="3.00" height="12.00" fill="#000" />
<rect x="128.00" y="632.00" width="3.00" height="2.00" fill="#ff0000" />
<rect x="133.00" y="631.00" width="1.00" height="8.00" fill="#000" />
<rect x="132.00" y="638.00" width="3.00" height="1.00" fill="#000" />
<rect x="132.00" y="629.00" width="3.00" height="2.00" fill="#ff0000" />
<rect x="136.00" y="626.00" width="1.00" height="6.00" fill="#000" />
<rect x="135.00" y="626.00" width="3.00" height="6.00" fill="#000" />
<rect x="135.00" y="624.00" width="3.00" height="2.00" fill="#ff0000" />
<rect x="140.00" y="632.00" width="1.00" height="8.00" fill="#000" />
<rect x="139.00" y="639.00" width="3.00" height="1.00" fill="#000" />
<rect x="139.00" y="630.00" width="3.00" height="2.00" fill="#ff0000" />
<rect x="144.00" y="625.00" width="1.00" height="4.00" fill="#000" />
<rect x="143.00" y="626.00" width="3.00" height="1.00" fill="#000" />
<rect x="143.00" y="623.00" width="3.00" height="2.00" fill="#ff0000" />
<rect x="147.00" y="624.00" width="1.00" height="4.00" fill="#000" />
<rect x="146.00" y="625.00" width="3.00" height="3.00" fill="#000" />
<rect x="147.00" y="626.00" width="1.00" height="1.00" fill="#fff" />
<rect x="146.00" y="622.00" width="3.00" height="2.00" fill="#ff0000" />
<rect x="151.00" y="631.00" width="1.00" height="7.00" fill="#000" />
<rect x="150.00" y="637.00" width="3.00" height="1.00" fill="#000" />
<rect x="150.00" y="629.00" width="3.00" height="2.00" fill="#ff0000" />
<rect x="155.00" y="618.00" width="1.00" height="13.00" fill="#000" />
<rect x="154.00" y="626.00" width="3.00" height="5.00" fill="#000" />
<rect x="155.00" y="627.00" width="1.00" height="3.00" fill="#fff" />
<rect x="154.00" y="616.00" width="3.00" height="2.00" fill="#ff0000" />
<rect x="158.00" y="621.00" width="1.00" height="4.00" fill="#000" />
<rect x="157.00" y="621.00" width="3.00" height="4.00" fill="#000" />
<rect x="157.00" y="619.00" width="3.00" height="2.00" fill="#ff0000" />
<rect x="162.00" y="620.00" width="1.00" height="4.00" fill="#000" />
<rect x="161.00" y="622.00" width="3.00" height="3.00" fill="#000" />
<rect x="162.00" y="623.00" width="1.00" height="1.00" fill="#fff" />
<rect x="161.00" y="618.00" width="3.00" height="2.00" fill="#ff0000" />
<rect x="166.00" y="606.00" width="1.00" height="7.00" fill="#000" />
<rect x="165.00" y="610.00" width="3.00" height="3.00" fill="#000" />
<rect x="166.00" y="611.00" width="1.00" height="1.00" fill="#fff" />
<rect x="165.00" y="604.00" width="3.00" height="2.00" fill="#ff0000" />
<rect x="169.00" y="607.00" width="1.00" height="5.00" fill="#000" />
<rect x="168.00" y="609.00" width="3.00" height="1.00" fill="#000" />
<rect x="168.00" y="605.00" width="3.00" height="2.00" fill="#ff0000" />
<rect x="173.00" y="625.00" width="1.00" height="2.00" fill="#000" />
<rect x="172.00" y="626.00" width="3.00" height="1.00" fill="#000" />
<rect x="172.00" y="623.00" width="3.00" height="2.00" fill="#ff0000" />
<rect x="177.00" y="629.00" width="1.00" height="3.00" fill="#000" />
<rect x="176.00" y="629.00" width="3.00" height="3.00" fill="#000" />
<rect x="176.00" y="627.00" width="3.00" height="2.00" fill="#ff0000" />
<rect x="180.00" y="655.00" width="1.00" height="4.00" fill="#000" />
<rect x="179.00" y="655.00" width="3.00" height="4.00" fill="#000" />
<rect x="179.00" y="653.00" width="3.00" height="2.00" fill="#ff0000" />
<rect x="184.00" y="658.00" width="1.00" height="15.00" fill="#000" />
<rect x="183.00" y="658.00" width="3.00" height="14.00" fill="#000" />
<rect x="184.00" y="659.00" width="1.00" height="12.00" fill="#fff" />
<rect x="183.00" y="656.00" width="3.00" height="2.00" fill="#ff0000" />
<rect x="188.00" y="651.00" width="1.00" height="12.00" fill="#000" />
<rect x="187.00" y="651.00" width="3.00" height="12.00" fill="#000" />
<rect x="188.00" y="652.00" width="1.00" height="10.00" fill="#fff" />
<rect x="187.00" y="649.00" width="3.00" height="2.00" fill="#ff0000" />
<rect x="191.00" y="641.00" width="1.00" height="8.00" fill="#000" />
<rect x="190.00" y="643.00" width="3.00" height="6.00" fill="#000" />
<rect x="191.00" y="644.00" width="1.00" height="4.00" fill="#fff" />
<rect x="190.00" y="639.00" width="3.00" height="2.00" fill="#ff0000" />
<rect x="195.00" y="610.00" width="1.00" height="65.00" fill="#000" />
<rect x="194.00" y="671.00" width="3.00" height="4.00" fill="#000" />
<rect x="194.00" y="608.00" width="3.00" height="2.00" fill="#ff0000" />
<rect x="199.00" y="690.00" width="1.00" height="12.00" fill="#000" />
<rect x="198.00" y="690.00" width="3.00" height="12.00" fill="#000" />
<rect x="198.00" y="688.00" width="3.00" height="2.00" fill="#ff0000" />
<rect x="202.00" y="692.00" width="1.00" height="33.00" fill="#000" />
<rect x="201.00" y="699.00" width="3.00" height="24.00" fill="#000" />
<rect x="202.00" y="700.00" width="1.00" height="22.00" fill="#fff" />
<rect x="201.00" y="690.00" width="3.00" height="2.00" fill="#ff0000" />
<rect x="206.00" y="671.00" width="1.00" height="36.00" fill="#000" />
<rect x="205.00" y="674.00" width="3.00" height="33.00" fill="#000" />
<rect x="205.00" y="669.00" width="3.00" height="2.00" fill="#ff0000" />
<rect x="210.00" y="638.00" width="1.00" height="59.00" fill="#000" />
<rect x="209.00" y="651.00" width="3.00" height="46.00" fill="#000" />
<rect x="210.00" y="652.00" width="1.00" height="44.00" fill="#fff" />
<rect x="209.00" y="636.00" width="3.00" height="2.00" fill="#ff0000" />
<rect x="213.00" y="661.00" width="1.00" height="8.00" fill="#000" />
<rect x="212.00" y="661.00" width="3.00" height="8.00" fill="#000" />
<rect x="212.00" y="659.00" width="3.00" height="2.00" fill="#ff0000" />
<rect x="217.00" y="652.00" width="1.00" height="18.00" fill="#000" />
<rect x="216.00" y="654.00" width="3.00" height="16.00" fill="#000" />
<rect x="217.00" y="655.00" width="1.00" height="14.00" fill="#fff" />
<rect x="216.00" y="650.00" width="3.00" height="2.00" fill="#ff0000" />
<rect x="221.00" y="650.00" width="1.00" height="5.00" fill="#000" />
<rect x="220.00" y="650.00" width="3.00" height="5.00" fill="#000" />
<rect x="220.00" y="648.00" width="3.00" height="2.00" fill="#ff0000" />
<rect x="224.00" y="643.00" width="1.00" height="8.00" fill="#000" />
<rect x="223.00" y="649.00" width="3.00" height="2.00" fill="#000" />
<rect x="223.00" y="641.00" width="3.00" height="2.00" fill="#ff0000" />
<rect x="228.00" y="661.00" width="1.00" height="10.00" fill="#000" />
<rect x="227.00" y="661.00" width="3.00" height="8.00" fill="#000" />
<rect x="228.00" y="662.00" width="1.00" height="6.00" fill="#fff" />
<rect x="227.00" y="659.00" width="3.00" height="2.00" fill="#ff0000" />
<rect x="232.00" y="645.00" width="1.00" height="17.00" fill="#000" />
<rect x="231.00" y="657.00" width="3.00" height="3.00" fill="#000" />
<rect x="231.00" y="643.00" width="3.00" height="2.00" fill="#ff0000" />
<rect x="235.00" y="674.00" width="1.00" height="6.00" fill="#000" />
<rect x="234.00" y="674.00" width="3.00" height="4.00" fill="#000" />
<rect x="235.00" y="675.00" width="1.00" height="2.00" fill="#fff" />
<rect x="234.00" y="672.00" width="3.00" height="2.00" fill="#ff0000" />
<rect x="239.00" y="658.00" width="1.00" height="9.00" fill="#000" />
<rect x="238.00" y="661.00" width="3.00" height="6.00" fill="#000" />
<rect x="239.00" y="662.00" width="1.00" height="4.00" fill="#fff" />
<rect x="238.00" y="656.00" width="3.00" height="2.00" fill="#ff0000" />
<rect x="243.00" y="636.00" width="1.00" height="9.00" fill="#000" />
<rect x="242.00" y="641.00" width="3.00" height="4.00" fill="#000" />
<rect x="242.00" y="634.00" width="3.00" height="2.00" fill="#ff0000" />
<rect x="246.00" y="631.00" width="1.00" height="13.00" fill="#000" />
<rect x="245.00" y="632.00" width="3.00" height="12.00" fill="#000" />
<rect x="246.00" y="633.00" width="1.00" height="10.00" fill="#fff" />
<rect x="245.00" y="629.00" width="3.00" height="2.00" fill="#ff0000" />
<rect x="250.00" y="565.00" width="1.00" height="67.00" fill="#000" />
<rect x="249.00" y="618.00" width="3.00" height="12.00" fill="#000" />
<rect x="250.00" y="619.00" width="1.00" height="10.00" fill="#fff" />
<rect x="249.00" y="563.00" width="3.00" height="2.00" fill="#ff0000" />
<rect x="253.00" y="624.00" width="1.00" height="11.00" fill="#000" />
<rect x="252.00" y="624.00" width="3.00" height="4.00" fill="#000" />
<rect x="253.00" y="625.00" width="1.00" height="2.00" fill="#fff" />
<rect x="257.00" y="634.00" width="1.00" height="5.00" fill="#000" />
<rect x="256.00" y="634.00" width="3.00" height="5.00" fill="#000" />
<rect x="257.00" y="635.00" width="1.00" height="3.00" fill="#fff" />
<rect x="261.00" y="632.00" width="1.00" height="12.00" fill="#000" />
<rect x="260.00" y="632.00" width="3.00" height="12.00" fill="#000" />
<rect x="261.00" y="633.00" width="1.00" height="10.00" fill="#fff" />
<rect x="264.00" y="614.00" width="1.00" height="15.00" fill="#000" />
<rect x="263.00" y="623.00" width="3.00" height="6.00" fill="#000" />
<rect x="268.00" y="613.00" width="1.00" height="8.00" fill="#000" />
<rect x="267.00" y="620.00" width="3.00" height="1.00" fill="#000" />
<rect x="272.00" y="621.00" width="1.00" height="8.00" fill="#000" />
<rect x="271.00" y="624.00" width="3.00" height="5.00" fill="#000" />
<rect x="272.00" y="625.00" width="1.00" height="3.00" fill="#fff" />
<rect x="275.00" y="627.00" width="1.00" height="3.00" fill="#000" />
<rect x="274.00" y="627.00" width="3.00" height="3.00" fill="#000" />
<rect x="275.00" y="628.00" width="1.00" height="1.00" fill="#fff" />
<rect x="279.00" y="626.00" width="1.00" height="7.00" fill="#000" />
<rect x="278.00" y="626.00" width="3.00" height="4.00" fill="#000" />
<rect x="279.00" y="627.00" width="1.00" height="2.00" fill="#fff" />
<rect x="283.00" y="613.00" width="1.00" height="10.00" fill="#000" />
<rect x="282.00" y="620.00" width="3.00" height="3.00" fill="#000" />
<rect x="286.00" y="616.00" width="1.00" height="9.00" fill="#000" />
<rect x="285.00" y="616.00" width="3.00" height="9.00" fill="#000" />
<rect x="290.00" y="597.00" width="1.00" height="11.00" fill="#000" />
<rect x="289.00" y="601.00" width="3.00" height="4.00" fill="#000" />
<rect x="294.00" y="581.00" width="1.00" height="18.00" fill="#000" />
<rect x="293.00" y="589.00" width="3.00" height="5.00" fill="#000" />
<rect x="294.00" y="590.00" width="1.00" height="3.00" fill="#fff" />
<rect x="297.00" y="583.00" width="1.00" height="2.00" fill="#000" />
<rect x="296.00" y="583.00" width="3.00" height="2.00" fill="#000" />
<rect x="301.00" y="583.00" width="1.00" height="13.00" fill="#000" />
<rect x="300.00" y="583.00" width="3.00" height="8.00" fill="#000" />
<rect x="305.00" y="583.00" width="1.00" height="3.00" fill="#000" />
<rect x="304.00" y="584.00" width="3.00" height="1.00" fill="#000" />
<rect x="308.00" y="581.00" width="1.00" height="8.00" fill="#000" />
<rect x="307.00" y="583.00" width="3.00" height="6.00" fill="#000" />
<rect x="308.00" y="584.00" width="1.00" height="4.00" fill="#fff" />
<rect x="312.00" y="581.00" width="1.00" height="7.00" fill="#000" />
<rect x="311.00" y="584.00" width="3.00" height="4.00" fill="#000" />
<rect x="316.00" y="580.00" width="1.00" height="23.00" fill="#000" />
<rect x="315.00" y="585.00" width="3.00" height="10.00" fill="#000" />
<rect x="319.00" y="586.00" width="1.00" height="7.00" fill="#000" />
<rect x="318.00" y="590.00" width="3.00" height="3.00" fill="#000" />
<rect x="319.00" y="591.00" width="1.00" height="1.00" fill="#fff" />
<rect x="323.00" y="589.00" width="1.00" height="9.00" fill="#000" />
<rect x="322.00" y="598.00" width="3.00" height="1.00" fill="#000" />
<rect x="327.00" y="578.00" width="1.00" height="9.00" fill="#000" />
<rect x="326.00" y="581.00" width="3.00" height="6.00" fill="#000" />
<rect x="327.00" y="582.00" width="1.00" height="4.00" fill="#fff" />
<rect x="330.00" y="576.00" width="1.00" height="4.00" fill="#000" />
<rect x="329.00" y="579.00" width="3.00" height="1.00" fill="#000" />
<rect x="334.00" y="579.00" width="1.00" height="14.00" fill="#000" />
<rect x="333.00" y="579.00" width="3.00" height="11.00" fill="#000" />
<rect x="338.00" y="585.00" width="1.00" height="16.00" fill="#000" />
<rect x="337.00" y="590.00" width="3.00" height="6.00" fill="#000" />
<rect x="338.00" y="591.00" width="1.00" height="4.00" fill="#fff" />
<rect x="341.00" y="581.00" width="1.00" height="6.00" fill="#000" />
<rect x="340.00" y="584.00" width="3.00" height="3.00" fill="#000" />
<rect x="341.00" y="585.00" width="1.00" height="1.00" fill="#fff" />
<rect x="345.00" y="565.00" width="1.00" height="11.00" fill="#000" />
<rect x="344.00" y="571.00" width="3.00" height="5.00" fill="#000" />
<rect x="345.00" y="572.00" width="1.00" height="3.00" fill="#fff" />
<rect x="349.00" y="567.00" width="1.00" height="2.00" fill="#000" />
<rect x="348.00" y="567.00" width="3.00" height="1.00" fill="#000" />
<rect x="352.00" y="563.00" width="1.00" height="15.00" fill="#000" />
<rect x="351.00" y="568.00" width="3.00" height="10.00" fill="#000" />
<rect x="356.00" y="501.00" width="1.00" height="75.00" fill="#000" />
<rect x="355.00" y="567.00" width="3.00" height="9.00" fill="#000" />
<rect x="360.00" y="568.00" width="1.00" height="11.00" fill="#000" />
<rect x="359.00" y="575.00" width="3.00" height="4.00" fill="#000" />
<rect x="360.00" y="576.00" width="1.00" height="2.00" fill="#fff" />
<rect x="363.00" y="571.00" width="1.00" height="8.00" fill="#000" />
<rect x="362.00" y="571.00" width="3.00" height="3.00" fill="#000" />
<rect x="367.00" y="570.00" width="1.00" height="2.00" fill="#000" />
<rect x="366.00" y="570.00" width="3.00" height="2.00" fill="#000" />
<rect x="371.00" y="564.00" width="1.00" height="8.00" fill="#000" />
<rect x="370.00" y="568.00" width="3.00" height="4.00" fill="#000" />
<rect x="371.00" y="569.00" width="1.00" height="2.00" fill="#fff" />
<rect x="374.00" y="567.00" width="1.00" height="10.00" fill="#000" />
<rect x="373.00" y="574.00" width="3.00" height="3.00" fill="#000" />
<rect x="378.00" y="562.00" width="1.00" height="5.00" fill="#000" />
<rect x="377.00" y="565.00" width="3.00" height="3.00" fill="#000" />
<rect x="378.00" y="566.00" width="1.00" height="1.00" fill="#fff" />
<rect x="382.00" y="568.00" width="1.00" height="4.00" fill="#000" />
<rect x="381.00" y="568.00" width="3.00" height="4.00" fill="#000" />
<rect x="385.00" y="559.00" width="1.00" height="9.00" fill="#000" />
<rect x="384.00" y="567.00" width="3.00" height="1.00" fill="#000" />
<rect x="389.00" y="568.00" width="1.00" height="3.00" fill="#000" />
<rect x="388.00" y="568.00" width="3.00" height="1.00" fill="#000" />
<rect x="393.00" y="560.00" width="1.00" height="10.00" fill="#000" />
<rect x="392.00" y="567.00" width="3.00" height="3.00" fill="#000" />
<rect x="393.00" y="568.00" width="1.00" height="1.00" fill="#fff" />
<rect x="397.00" y="542.00" width="1.00" height="14.00" fill="#000" />
<rect x="396.00" y="549.00" width="3.00" height="7.00" fill="#000" />
<rect x="397.00" y="550.00" width="1.00" height="5.00" fill="#fff" />
<rect x="400.00" y="539.00" width="1.00" height="6.00" fill="#000" />
<rect x="399.00" y="539.00" width="3.00" height="3.00" fill="#000" />
<rect x="404.00" y="525.00" width="1.00" height="12.00" fill="#000" />
<rect x="403.00" y="530.00" width="3.00" height="2.00" fill="#000" />
<rect x="407.00" y="532.00" width="1.00" height="27.00" fill="#000" />
<rect x="406.00" y="542.00" width="3.00" height="6.00" fill="#000" />
<rect x="411.00" y="531.00" width="1.00" height="11.00" fill="#000" />
<rect x="410.00" y="531.00" width="3.00" height="11.00" fill="#000" />
<rect x="415.00" y="547.00" width="1.00" height="14.00" fill="#000" />
<rect x="414.00" y="547.00" width="3.00" height="14.00" fill="#000" />
<rect x="418.00" y="551.00" width="1.00" height="2.00" fill="#000" />
<rect x="417.00" y="551.00" width="3.00" height="3.00" fill="#000" />
<rect x="418.00" y="552.00" width="1.00" height="1.00" fill="#fff" />
<rect x="422.00" y="541.00" width="1.00" height="5.00" fill="#000" />
<rect x="421.00" y="543.00" width="3.00" height="3.00" fill="#000" />
<rect x="422.00" y="544.00" width="1.00" height="1.00" fill="#fff" />
<rect x="426.00" y="546.00" width="1.00" height="4.00" fill="#000" />
<rect x="425.00" y="549.00" width="3.00" height="1.00" fill="#000" />
<rect x="429.00" y="542.00" width="1.00" height="8.00" fill="#000" />
<rect x="428.00" y="542.00" width="3.00" height="8.00" fill="#000" />
<rect x="433.00" y="534.00" width="1.00" height="9.00" fill="#000" />
<rect x="432.00" y="538.00" width="3.00" height="5.00" fill="#000" />
<rect x="433.00" y="539.00" width="1.00" height="3.00" fill="#fff" />
<rect x="437.00" y="534.00" width="1.00" height="6.00" fill="#000" />
<rect x="436.00" y="534.00" width="3.00" height="6.00" fill="#000" />
<rect x="440.00" y="540.00" width="1.00" height="3.00" fill="#000" />
<rect x="439.00" y="540.00" width="3.00" height="3.00" fill="#000" />
<rect x="444.00" y="533.00" width="1.00" height="9.00" fill="#000" />
<rect x="443.00" y="533.00" width="3.00" height="4.00" fill="#000" />
<rect x="448.00" y="521.00" width="1.00" height="15.00" fill="#000" />
<rect x="447.00" y="521.00" width="3.00" height="15.00" fill="#000" />
<rect x="451.00" y="531.00" width="1.00" height="9.00" fill="#000" />
<rect x="450.00" y="534.00" width="3.00" height="3.00" fill="#000" />
<rect x="451.00" y="535.00" width="1.00" height="1.00" fill="#fff" />
<rect x="455.00" y="527.00" width="1.00" height="3.00" fill="#000" />
<rect x="454.00" y="527.00" width="3.00" height="3.00" fill="#000" />
<rect x="459.00" y="526.00" width="1.00" height="4.00" fill="#000" />
<rect x="458.00" y="526.00" width="3.00" height="4.00" fill="#000" />
<rect x="462.00" y="523.00" width="1.00" height="6.00" fill="#000" />
<rect x="461.00" y="524.00" width="3.00" height="5.00" fill="#000" />
<rect x="466.00" y="536.00" width="1.00" height="8.00" fill="#000" />
<rect x="465.00" y="538.00" width="3.00" height="6.00" fill="#000" />
<rect x="466.00" y="539.00" width="1.00" height="4.00" fill="#fff" />
<rect x="470.00" y="529.00" width="1.00" height="2.00" fill="#000" />
<rect x="469.00" y="529.00" width="3.00" height="3.00" fill="#000" />
<rect x="470.00" y="530.00" width="1.00" height="1.00" fill="#fff" />
<rect x="473.00" y="522.00" width="1.00" height="7.00" fill="#000" />
<rect x="472.00" y="522.00" width="3.00" height="4.00" fill="#000" />
<rect x="477.00" y="522.00" width="1.00" height="5.00" fill="#000" />
<rect x="476.00" y="524.00" width="3.00" height="3.00" fill="#000" />
<rect x="477.00" y="525.00" width="1.00" height="1.00" fill="#fff" />
<rect x="481.00" y="518.00" width="1.00" height="1.00" fill="#000" />
<rect x="480.00" y="518.00" width="3.00" height="1.00" fill="#000" />
<rect x="484.00" y="514.00" width="1.00" height="14.00" fill="#000" />
<rect x="483.00" y="514.00" width="3.00" height="12.00" fill="#000" />
<rect x="488.00" y="527.00" width="1.00" height="9.00" fill="#000" />
<rect x="487.00" y="529.00" width="3.00" height="3.00" fill="#000" />
<rect x="488.00" y="530.00" width="1.00" height="1.00" fill="#fff" />
<rect x="491.00" y="516.00" width="1.00" height="17.00" fill="#000" />
<rect x="490.00" y="516.00" width="3.00" height="17.00" fill="#000" />
<rect x="495.00" y="551.00" width="1.00" height="7.00" fill="#000" />
<rect x="494.00" y="551.00" width="3.00" height="5.00" fill="#000" />
<rect x="499.00" y="537.00" width="1.00" height="9.00" fill="#000" />
<rect x="498.00" y="539.00" width="3.00" height="7.00" fill="#000" />
<rect x="499.00" y="540.00" width="1.00" height="5.00" fill="#fff" />
<rect x="502.00" y="534.00" width="1.00" height="15.00" fill="#000" />
<rect x="501.00" y="534.00" width="3.00" height="15.00" fill="#000" />
<rect x="506.00" y="552.00" width="1.00" height="6.00" fill="#000" />
<rect x="505.00" y="552.00" width="3.00" height="3.00" fill="#000" />
<rect x="506.00" y="553.00" width="1.00" height="1.00" fill="#fff" />
<rect x="510.00" y="529.00" width="1.00" height="23.00" fill="#000" />
<rect x="509.00" y="548.00" width="3.00" height="2.00" fill="#000" />
<rect x="513.00" y="540.00" width="1.00" height="6.00" fill="#000" />
<rect x="512.00" y="540.00" width="3.00" height="6.00" fill="#000" />
<rect x="517.00" y="538.00" width="1.00" height="9.00" fill="#000" />
<rect x="516.00" y="545.00" width="3.00" height="2.00" fill="#000" />
<rect x="521.00" y="532.00" width="1.00" height="12.00" fill="#000" />
<rect x="520.00" y="537.00" width="3.00" height="7.00" fill="#000" />
<rect x="521.00" y="538.00" width="1.00" height="5.00" fill="#fff" />
<rect x="524.00" y="521.00" width="1.00" height="18.00" fill="#000" />
<rect x="523.00" y="531.00" width="3.00" height="8.00" fill="#000" />
<rect x="528.00" y="534.00" width="1.00" height="8.00" fill="#000" />
<rect x="527.00" y="537.00" width="3.00" height="3.00" fill="#000" />
<rect x="528.00" y="538.00" width="1.00" height="1.00" fill="#fff" />
<rect x="532.00" y="533.00" width="1.00" height="11.00" fill="#000" />
<rect x="531.00" y="541.00" width="3.00" height="1.00" fill="#000" />
<rect x="535.00" y="537.00" width="1.00" height="9.00" fill="#000" />
<rect x="534.00" y="541.00" width="3.00" height="2.00" fill="#000" />
<rect x="539.00" y="542.00" width="1.00" height="26.00" fill="#000" />
<rect x="538.00" y="542.00" width="3.00" height="24.00" fill="#000" />
<rect x="543.00" y="570.00" width="1.00" height="21.00" fill="#000" />
<rect x="542.00" y="570.00" width="3.00" height="11.00" fill="#000" />
<rect x="543.00" y="571.00" width="1.00" height="9.00" fill="#fff" />
<rect x="546.00" y="568.00" width="1.00" height="5.00" fill="#000" />
<rect x="545.00" y="571.00" width="3.00" height="2.00" fill="#000" />
<rect x="550.00" y="555.00" width="1.00" height="17.00" fill="#000" />
<rect x="549.00" y="559.00" width="3.00" height="13.00" fill="#000" />
<rect x="550.00" y="560.00" width="1.00" height="11.00" fill="#fff" />
<rect x="554.00" y="556.00" width="1.00" height="6.00" fill="#000" />
<rect x="553.00" y="560.00" width="3.00" height="3.00" fill="#000" />
<rect x="554.00" y="561.00" width="1.00" height="1.00" fill="#fff" />
<rect x="557.00" y="550.00" width="1.00" height="10.00" fill="#000" />
<rect x="556.00" y="550.00" width="3.00" height="10.00" fill="#000" />
<rect x="557.00" y="551.00" width="1.00" height="8.00" fill="#fff" />
<rect x="561.00" y="546.00" width="1.00" height="7.00" fill="#000" />
<rect x="560.00" y="551.00" width="3.00" height="2.00" fill="#000" />
<rect x="565.00" y="554.00" width="1.00" height="11.00" fill="#000" />
<rect x="564.00" y="560.00" width="3.00" height="1.00" fill="#000" />
<rect x="568.00" y="572.00" width="1.00" height="8.00" fill="#000" />
<rect x="567.00" y="572.00" width="3.00" height="6.00" fill="#000" />
<rect x="572.00" y="579.00" width="1.00" height="14.00" fill="#000" />
<rect x="571.00" y="580.00" width="3.00" height="8.00" fill="#000" />
<rect x="572.00" y="581.00" width="1.00" height="6.00" fill="#fff" />
<rect x="576.00" y="568.00" width="1.00" height="13.00" fill="#000" />
<rect x="575.00" y="577.00" width="3.00" height="3.00" fill="#000" />
<rect x="576.00" y="578.00" width="1.00" height="1.00" fill="#fff" />
<rect x="579.00" y="564.00" width="1.00" height="10.00" fill="#000" />
<rect x="578.00" y="567.00" width="3.00" height="6.00" fill="#000" />
<rect x="579.00" y="568.00" width="1.00" height="4.00" fill="#fff" />
<rect x="583.00" y="554.00" width="1.00" height="22.00" fill="#000" />
<rect x="582.00" y="554.00" width="3.00" height="13.00" fill="#000" />
<rect x="587.00" y="552.00" width="1.00" height="2.00" fill="#000" />
<rect x="586.00" y="553.00" width="3.00" height="1.00" fill="#000" />
<rect x="590.00" y="544.00" width="1.00" height="8.00" fill="#000" />
<rect x="589.00" y="544.00" width="3.00" height="8.00" fill="#000" />
<rect x="590.00" y="545.00" width="1.00" height="6.00" fill="#fff" />
<rect x="594.00" y="512.00" width="1.00" height="9.00" fill="#000" />
<rect x="593.00" y="517.00" width="3.00" height="4.00" fill="#000" />
<rect x="594.00" y="518.00" width="1.00" height="2.00" fill="#fff" />
<rect x="598.00" y="516.00" width="1.00" height="8.00" fill="#000" />
<rect x="597.00" y="516.00" width="3.00" height="8.00" fill="#000" />
<rect x="601.00" y="518.00" width="1.00" height="6.00" fill="#000" />
<rect x="600.00" y="520.00" width="3.00" height="4.00" fill="#000" />
<rect x="605.00" y="511.00" width="1.00" height="8.00" fill="#000" />
<rect x="604.00" y="513.00" width="3.00" height="6.00" fill="#000" />
<rect x="605.00" y="514.00" width="1.00" height="4.00" fill="#fff" />
<rect x="609.00" y="510.00" width="1.00" height="4.00" fill="#000" />
<rect x="608.00" y="511.00" width="3.00" height="1.00" fill="#000" />
<rect x="612.00" y="506.00" width="1.00" height="21.00" fill="#000" />
<rect x="611.00" y="511.00" width="3.00" height="8.00" fill="#000" />
<rect x="616.00" y="500.00" width="1.00" height="9.00" fill="#000" />
<rect x="615.00" y="505.00" width="3.00" height="4.00" fill="#000" />
<rect x="616.00" y="506.00" width="1.00" height="2.00" fill="#fff" />
<rect x="620.00" y="496.00" width="1.00" height="9.00" fill="#000" />
<rect x="619.00" y="496.00" width="3.00" height="9.00" fill="#000" />
<rect x="620.00" y="497.00" width="1.00" height="7.00" fill="#fff" />
<rect x="623.00" y="489.00" width="1.00" height="13.00" fill="#000" />
<rect x="622.00" y="489.00" width="3.00" height="2.00" fill="#000" />
<rect x="627.00" y="492.00" width="1.00" height="14.00" fill="#000" />
<rect x="626.00" y="492.00" width="3.00" height="11.00" fill="#000" />
<rect x="631.00" y="507.00" width="1.00" height="9.00" fill="#000" />
<rect x="630.00" y="507.00" width="3.00" height="6.00" fill="#000" />
<rect x="634.00" y="520.00" width="1.00" height="14.00" fill="#000" />
<rect x="633.00" y="525.00" width="3.00" height="1.00" fill="#000" />
<rect x="638.00" y="517.00" width="1.00" height="13.00" fill="#000" />
<rect x="637.00" y="519.00" width="3.00" height="6.00" fill="#000" />
<rect x="638.00" y="520.00" width="1.00" height="4.00" fill="#fff" />
<rect x="642.00" y="529.00" width="1.00" height="6.00" fill="#000" />
<rect x="641.00" y="532.00" width="3.00" height="3.00" fill="#000" />
<rect x="642.00" y="533.00" width="1.00" height="1.00" fill="#fff" />
<rect x="645.00" y="526.00" width="1.00" height="8.00" fill="#000" />
<rect x="644.00" y="528.00" width="3.00" height="6.00" fill="#000" />
<rect x="645.00" y="529.00" width="1.00" height="4.00" fill="#fff" />
<rect x="649.00" y="520.00" width="1.00" height="10.00" fill="#000" />
<rect x="648.00" y="520.00" width="3.00" height="10.00" fill="#000" />
<rect x="649.00" y="521.00" width="1.00" height="8.00" fill="#fff" />
<rect x="653.00" y="506.00" width="1.00" height="12.00" fill="#000" />
<rect x="652.00" y="514.00" width="3.00" height="3.00" fill="#000" />
<rect x="653.00" y="515.00" width="1.00" height="1.00" fill="#fff" />
<rect x="656.00" y="509.00" width="1.00" height="11.00" fill="#000" />
<rect x="655.00" y="512.00" width="3.00" height="6.00" fill="#000" />
<rect x="660.00" y="506.00" width="1.00" height="11.00" fill="#000" />
<rect x="659.00" y="511.00" width="3.00" height="4.00" fill="#000" />
<rect x="664.00" y="511.00" width="1.00" height="14.00" fill="#000" />
<rect x="663.00" y="511.00" width="3.00" height="6.00" fill="#000" />
<rect x="667.00" y="507.00" width="1.00" height="12.00" fill="#000" />
<rect x="666.00" y="510.00" width="3.00" height="9.00" fill="#000" />
<rect x="667.00" y="511.00" width="1.00" height="7.00" fill="#fff" />
<rect x="671.00" y="506.00" width="1.00" height="4.00" fill="#000" />
<rect x="670.00" y="506.00" width="3.00" height="4.00" fill="#000" />
<rect x="671.00" y="507.00" width="1.00" height="2.00" fill="#fff" />
<rect x="675.00" y="504.00" width="1.00" height="29.00" fill="#000" />
<rect x="674.00" y="504.00" width="3.00" height="29.00" fill="#000" />
<rect x="678.00" y="509.00" width="1.00" height="12.00" fill="#000" />
<rect x="677.00" y="511.00" width="3.00" height="2.00" fill="#000" />
<rect x="682.00" y="516.00" width="1.00" height="18.00" fill="#000" />
<rect x="681.00" y="525.00" width="3.00" height="3.00" fill="#000" />
<rect x="682.00" y="526.00" width="1.00" height="1.00" fill="#fff" />
<rect x="686.00" y="510.00" width="1.00" height="16.00" fill="#000" />
<rect x="685.00" y="518.00" width="3.00" height="1.00" fill="#000" />
<rect x="689.00" y="510.00" width="1.00" height="10.00" fill="#000" />
<rect x="688.00" y="512.00" width="3.00" height="8.00" fill="#000" />
<rect x="693.00" y="518.00" width="1.00" height="19.00" fill="#000" />
<rect x="692.00" y="518.00" width="3.00" height="7.00" fill="#000" />
<rect x="697.00" y="517.00" width="1.00" height="8.00" fill="#000" />
<rect x="696.00" y="517.00" width="3.00" height="8.00" fill="#000" />
<rect x="700.00" y="529.00" width="1.00" height="4.00" fill="#000" />
<rect x="699.00" y="529.00" width="3.00" height="4.00" fill="#000" />
<rect x="704.00" y="530.00" width="1.00" height="24.00" fill="#000" />
<rect x="703.00" y="534.00" width="3.00" height="9.00" fill="#000" />
<rect x="708.00" y="527.00" width="1.00" height="18.00" fill="#000" />
<rect x="707.00" y="531.00" width="3.00" height="12.00" fill="#000" />
<rect x="708.00" y="532.00" width="1.00" height="10.00" fill="#fff" />
<rect x="711.00" y="510.00" width="1.00" height="8.00" fill="#000" />
<rect x="710.00" y="515.00" width="3.00" height="3.00" fill="#000" />
<rect x="711.00" y="516.00" width="1.00" height="1.00" fill="#fff" />
<path d="M12.5 605.0C14.2 600.8 13.7 598.3 17.5 592.5C21.3 586.7 19.6 587.9 23.8 587.5C28.0 587.1 25.4 585.5 30.0 591.3C34.6 597.1 32.1 596.3 37.5 605.0C42.9 613.7 42.1 614.2 46.3 617.5C50.5 620.8 47.1 619.2 50.0 615.0C52.9 610.8 51.7 615.0 55.0 605.0C58.3 595.0 55.8 599.2 60.0 585.0C64.2 570.8 62.5 575.8 67.5 562.5C72.5 549.2 70.0 555.4 75.0 545.0C80.0 534.6 77.9 537.0 82.5 531.3C87.1 525.6 85.0 527.6 88.8 528.0C92.6 528.4 90.5 524.3 93.8 532.5C97.1 540.7 95.9 539.2 98.8 552.5C101.7 565.8 100.0 559.2 102.5 572.5C105.0 585.8 103.4 578.3 106.3 592.5C109.2 606.7 108.0 602.5 111.3 615.0C114.6 627.5 113.4 622.1 116.3 630.0C119.2 637.9 117.1 633.4 120.0 638.8C122.9 644.2 121.2 638.4 125.0 646.3C128.8 654.2 127.1 652.5 131.3 662.5C135.5 672.5 133.3 669.0 137.5 676.3C141.7 683.6 139.6 681.0 143.8 684.3C148.0 687.6 145.4 686.1 150.0 686.3C154.6 686.5 152.5 687.9 157.5 685.0C162.5 682.1 160.4 684.2 165.0 677.5C169.6 670.8 167.5 672.1 171.3 665.0C175.1 657.9 173.4 660.0 176.3 656.3C179.2 652.6 177.5 653.4 180.0 653.8C182.5 654.2 180.9 652.9 183.8 657.5C186.7 662.1 185.1 660.4 188.8 667.5C192.5 674.6 191.3 671.3 195.0 678.8C198.7 686.3 196.7 681.3 200.0 690.0C203.3 698.7 201.7 697.5 205.0 705.0C208.3 712.5 207.1 710.8 210.0 712.5C212.9 714.2 210.9 714.2 213.8 710.0C216.7 705.8 215.9 708.3 218.8 700.0C221.7 691.7 220.0 695.0 222.5 685.0C225.0 675.0 223.8 678.3 226.3 670.0C228.8 661.7 227.5 665.0 230.0 660.0C232.5 655.0 229.6 656.9 233.8 655.0C238.0 653.1 237.9 657.2 242.5 654.3C247.1 651.4 244.2 653.1 247.5 646.3C250.8 639.5 249.2 641.3 252.5 633.8C255.8 626.3 254.2 628.8 257.5 623.8C260.8 618.8 258.3 621.6 262.5 618.8C266.7 616.0 265.0 617.3 270.0 615.5C275.0 613.7 272.9 613.9 277.5 613.3C282.1 612.7 279.6 612.7 283.8 613.8C288.0 614.9 286.9 616.9 290.0 616.5C293.1 616.1 291.3 615.5 293.0 612.5C294.7 609.5 293.1 613.3 295.0 607.5C296.9 601.7 295.9 605.8 298.8 595.0C301.7 584.2 300.5 586.7 303.8 575.0C307.1 563.3 305.5 567.5 308.8 560.0C312.1 552.5 310.5 555.8 313.8 552.5C317.1 549.2 315.5 550.2 318.8 550.0C322.1 549.8 320.9 550.8 323.8 551.8C326.7 552.8 324.2 554.8 327.5 553.0C330.8 551.2 329.6 550.6 333.8 546.3C338.0 542.0 335.8 544.2 340.0 540.0C344.2 535.8 342.5 538.0 346.3 533.8C350.1 529.6 348.4 530.0 351.3 527.5C354.2 525.0 352.5 525.0 355.0 526.3C357.5 527.6 356.3 525.9 358.8 531.3C361.3 536.7 360.0 533.8 362.5 542.5C365.0 551.2 363.8 546.7 366.3 557.5C368.8 568.3 367.5 564.2 370.0 575.0C372.5 585.8 370.9 581.7 373.8 590.0C376.7 598.3 375.1 595.2 378.8 600.0C382.5 604.8 380.8 603.3 385.0 604.3C389.2 605.3 387.5 604.8 391.3 603.0C395.1 601.2 393.0 604.0 396.3 598.8C399.6 593.6 398.4 595.4 401.3 587.5C404.2 579.6 402.5 583.3 405.0 575.0C407.5 566.7 406.3 569.6 408.8 562.5C411.3 555.4 410.0 558.0 412.5 553.8C415.0 549.6 413.8 550.4 416.3 550.0C418.8 549.6 417.1 549.6 420.0 552.5C422.9 555.4 421.7 555.9 425.0 558.8C428.3 561.7 426.7 562.1 430.0 561.3C433.3 560.5 432.1 561.3 435.0 556.3C437.9 551.3 436.3 553.8 438.8 546.3C441.3 538.8 439.6 543.4 442.5 533.8C445.4 524.2 444.2 526.7 447.5 517.5C450.8 508.3 449.2 513.6 452.5 506.3C455.8 499.0 453.7 501.3 457.5 495.5C461.3 489.7 459.2 491.9 463.8 488.8C468.4 485.7 466.7 488.4 471.3 486.3C475.9 484.2 473.8 486.7 477.5 482.5C481.2 478.3 479.2 478.4 482.5 473.8C485.8 469.2 484.6 469.6 487.5 468.8C490.4 468.0 488.8 466.7 491.3 471.3C493.8 475.9 492.5 472.9 495.0 482.5C497.5 492.1 496.3 485.8 498.8 500.0C501.3 514.2 500.0 508.3 502.5 525.0C505.0 541.7 503.8 535.8 506.3 550.0C508.8 564.2 507.1 557.1 510.0 567.5C512.9 577.9 511.2 574.8 515.0 581.3C518.8 587.8 517.5 587.4 521.3 587.0C525.1 586.6 523.0 586.5 526.3 580.0C529.6 573.5 528.0 574.4 531.3 567.5C534.6 560.6 533.4 560.1 536.3 559.3C539.2 558.5 537.1 558.1 540.0 565.0C542.9 571.9 541.7 572.9 545.0 580.0C548.3 587.1 546.7 583.2 550.0 586.3C553.3 589.4 551.7 589.7 555.0 589.3C558.3 588.9 556.7 589.3 560.0 585.0C563.3 580.7 562.1 580.5 565.0 576.3C567.9 572.1 566.3 571.7 568.8 572.5C571.3 573.3 569.6 572.5 572.5 578.8C575.4 585.1 574.2 584.9 577.5 591.3C580.8 597.7 579.2 595.5 582.5 598.0C585.8 600.5 584.6 600.6 587.5 598.8C590.4 597.0 588.8 599.4 591.3 592.5C593.8 585.6 592.5 590.5 595.0 578.0C597.5 565.5 596.3 572.7 598.8 555.0C601.3 537.3 600.0 544.2 602.5 525.0C605.0 505.8 603.4 514.5 606.3 497.5C609.2 480.5 608.0 487.3 611.3 474.0C614.6 460.7 613.0 467.7 616.3 457.5C619.6 447.3 618.0 451.3 621.3 443.5C624.6 435.7 623.1 438.1 626.3 434.0C629.5 429.9 627.9 430.5 630.8 431.3C633.7 432.1 632.3 431.7 635.0 436.3C637.7 440.9 636.3 437.9 638.8 445.0C641.3 452.1 640.0 448.3 642.5 457.5C645.0 466.7 643.8 464.2 646.3 472.5C648.8 480.8 647.1 476.7 650.0 482.5C652.9 488.3 651.7 486.0 655.0 490.0C658.3 494.0 656.2 491.6 660.0 494.5C663.8 497.4 662.5 496.1 666.3 498.8C670.1 501.5 668.4 499.6 671.3 502.5C674.2 505.4 672.5 502.5 675.0 507.5C677.5 512.5 676.3 510.8 678.8 517.5C681.3 524.2 679.6 520.8 682.5 527.5C685.4 534.2 683.7 531.7 687.5 537.5C691.3 543.3 690.0 540.4 693.8 545.0C697.6 549.6 695.5 546.7 698.8 551.3C702.1 555.9 700.5 554.0 703.8 558.8C707.1 563.6 706.5 564.0 708.8 565.8C711.1 567.6 710.1 564.8 710.8 564.3" fill="none" stroke="#0000ff" stroke-width="1"/>
<rect x="91.00" y="527.00" width="3.00" height="6.00" fill="#ff0000" />
<rect x="88.00" y="533.00" width="9.00" height="1.00" fill="#ff0000" />
<rect x="89.00" y="534.00" width="7.00" height="2.00" fill="#ff0000" />
<rect x="90.00" y="536.00" width="5.00" height="2.00" fill="#ff0000" />
<rect x="91.00" y="538.00" width="3.00" height="2.00" fill="#ff0000" />
<rect x="92.00" y="540.00" width="1.00" height="2.00" fill="#ff0000" />
<rect x="179.00" y="632.00" width="3.00" height="6.00" fill="#ff0000" />
<rect x="176.00" y="638.00" width="9.00" height="1.00" fill="#ff0000" />
<rect x="177.00" y="639.00" width="7.00" height="2.00" fill="#ff0000" />
<rect x="178.00" y="641.00" width="5.00" height="2.00" fill="#ff0000" />
<rect x="179.00" y="643.00" width="3.00" height="2.00" fill="#ff0000" />
<rect x="180.00" y="645.00" width="1.00" height="2.00" fill="#ff0000" />
<rect x="238.00" y="636.00" width="3.00" height="6.00" fill="#ff0000" />
<rect x="235.00" y="642.00" width="9.00" height="1.00" fill="#ff0000" />
<rect x="236.00" y="643.00" width="7.00" height="2.00" fill="#ff0000" />
<rect x="237.00" y="645.00" width="5.00" height="2.00" fill="#ff0000" />
<rect x="238.00" y="647.00" width="3.00" height="2.00" fill="#ff0000" />
<rect x="239.00" y="649.00" width="1.00" height="2.00" fill="#ff0000" />
<rect x="282.00" y="591.00" width="3.00" height="6.00" fill="#ff0000" />
<rect x="279.00" y="597.00" width="9.00" height="1.00" fill="#ff0000" />
<rect x="280.00" y="598.00" width="7.00" height="2.00" fill="#ff0000" />
<rect x="281.00" y="600.00" width="5.00" height="2.00" fill="#ff0000" />
<rect x="282.00" y="602.00" width="3.00" height="2.00" fill="#ff0000" />
<rect x="283.00" y="604.00" width="1.00" height="2.00" fill="#ff0000" />
<rect x="355.00" y="477.00" width="3.00" height="6.00" fill="#ff0000" />
<rect x="352.00" y="483.00" width="9.00" height="1.00" fill="#ff0000" />
<rect x="353.00" y="484.00" width="7.00" height="2.00" fill="#ff0000" />
<rect x="354.00" y="486.00" width="5.00" height="2.00" fill="#ff0000" />
<rect x="355.00" y="488.00" width="3.00" height="2.00" fill="#ff0000" />
<rect x="356.00" y="490.00" width="1.00" height="2.00" fill="#ff0000" />
<rect x="322.00" y="567.00" width="3.00" height="6.00" fill="#ff0000" />
<rect x="319.00" y="573.00" width="9.00" height="1.00" fill="#ff0000" />
<rect x="320.00" y="574.00" width="7.00" height="2.00" fill="#ff0000" />
<rect x="321.00" y="576.00" width="5.00" height="2.00" fill="#ff0000" />
<rect x="322.00" y="578.00" width="3.00" height="2.00" fill="#ff0000" />
<rect x="323.00" y="580.00" width="1.00" height="2.00" fill="#ff0000" />
<rect x="417.00" y="528.00" width="3.00" height="6.00" fill="#ff0000" />
<rect x="414.00" y="534.00" width="9.00" height="1.00" fill="#ff0000" />
<rect x="415.00" y="535.00" width="7.00" height="2.00" fill="#ff0000" />
<rect x="416.00" y="537.00" width="5.00" height="2.00" fill="#ff0000" />
<rect x="417.00" y="539.00" width="3.00" height="2.00" fill="#ff0000" />
<rect x="418.00" y="541.00" width="1.00" height="2.00" fill="#ff0000" />
<rect x="490.00" y="494.00" width="3.00" height="6.00" fill="#ff0000" />
<rect x="487.00" y="500.00" width="9.00" height="1.00" fill="#ff0000" />
<rect x="488.00" y="501.00" width="7.00" height="2.00" fill="#ff0000" />
<rect x="489.00" y="503.00" width="5.00" height="2.00" fill="#ff0000" />
<rect x="490.00" y="505.00" width="3.00" height="2.00" fill="#ff0000" />
<rect x="491.00" y="507.00" width="1.00" height="2.00" fill="#ff0000" />
<rect x="538.00" y="520.00" width="3.00" height="6.00" fill="#ff0000" />
<rect x="535.00" y="526.00" width="9.00" height="1.00" fill="#ff0000" />
<rect x="536.00" y="527.00" width="7.00" height="2.00" fill="#ff0000" />
<rect x="537.00" y="529.00" width="5.00" height="2.00" fill="#ff0000" />
<rect x="538.00" y="531.00" width="3.00" height="2.00" fill="#ff0000" />
<rect x="539.00" y="533.00" width="1.00" height="2.00" fill="#ff0000" />
<rect x="571.00" y="557.00" width="3.00" height="6.00" fill="#ff0000" />
<rect x="568.00" y="563.00" width="9.00" height="1.00" fill="#ff0000" />
<rect x="569.00" y="564.00" width="7.00" height="2.00" fill="#ff0000" />
<rect x="570.00" y="566.00" width="5.00" height="2.00" fill="#ff0000" />
<rect x="571.00" y="568.00" width="3.00" height="2.00" fill="#ff0000" />
<rect x="572.00" y="570.00" width="1.00" height="2.00" fill="#ff0000" />
<rect x="633.00" y="498.00" width="3.00" height="6.00" fill="#ff0000" />
<rect x="630.00" y="504.00" width="9.00" height="1.00" fill="#ff0000" />
<rect x="631.00" y="505.00" width="7.00" height="2.00" fill="#ff0000" />
<rect x="632.00" y="507.00" width="5.00" height="2.00" fill="#ff0000" />
<rect x="633.00" y="509.00" width="3.00" height="2.00" fill="#ff0000" />
<rect x="634.00" y="511.00" width="1.00" height="2.00" fill="#ff0000" />
<rect x="48.00" y="561.00" width="1.00" height="2.00" fill="#008400" />
<rect x="47.00" y="563.00" width="3.00" height="2.00" fill="#008400" />
<rect x="46.00" y="565.00" width="5.00" height="2.00" fill="#008400" />
<rect x="45.00" y="567.00" width="7.00" height="2.00" fill="#008400" />
<rect x="44.00" y="569.00" width="9.00" height="1.00" fill="#008400" />
<rect x="47.00" y="570.00" width="3.00" height="6.00" fill="#008400" />
<rect x="155.00" y="640.00" width="1.00" height="2.00" fill="#008400" />
<rect x="154.00" y="642.00" width="3.00" height="2.00" fill="#008400" />
<rect x="153.00" y="644.00" width="5.00" height="2.00" fill="#008400" />
<rect x="152.00" y="646.00" width="7.00" height="2.00" fill="#008400" />
<rect x="151.00" y="648.00" width="9.00" height="1.00" fill="#008400" />
<rect x="154.00" y="649.00" width="3.00" height="6.00" fill="#008400" />
<rect x="213.00" y="678.00" width="1.00" height="2.00" fill="#008400" />
<rect x="212.00" y="680.00" width="3.00" height="2.00" fill="#008400" />
<rect x="211.00" y="682.00" width="5.00" height="2.00" fill="#008400" />
<rect x="210.00" y="684.00" width="7.00" height="2.00" fill="#008400" />
<rect x="209.00" y="686.00" width="9.00" height="1.00" fill="#008400" />
<rect x="212.00" y="687.00" width="3.00" height="6.00" fill="#008400" />
<rect x="243.00" y="654.00" width="1.00" height="2.00" fill="#008400" />
<rect x="242.00" y="656.00" width="3.00" height="2.00" fill="#008400" />
<rect x="241.00" y="658.00" width="5.00" height="2.00" fill="#008400" />
<rect x="240.00" y="660.00" width="7.00" height="2.00" fill="#008400" />
<rect x="239.00" y="662.00" width="9.00" height="1.00" fill="#008400" />
<rect x="242.00" y="663.00" width="3.00" height="6.00" fill="#008400" />
<rect x="294.00" y="609.00" width="1.00" height="2.00" fill="#008400" />
<rect x="293.00" y="611.00" width="3.00" height="2.00" fill="#008400" />
<rect x="292.00" y="613.00" width="5.00" height="2.00" fill="#008400" />
<rect x="291.00" y="615.00" width="7.00" height="2.00" fill="#008400" />
<rect x="290.00" y="617.00" width="9.00" height="1.00" fill="#008400" />
<rect x="293.00" y="618.00" width="3.00" height="6.00" fill="#008400" />
<rect x="389.00" y="579.00" width="1.00" height="2.00" fill="#008400" />
<rect x="388.00" y="581.00" width="3.00" height="2.00" fill="#008400" />
<rect x="387.00" y="583.00" width="5.00" height="2.00" fill="#008400" />
<rect x="386.00" y="585.00" width="7.00" height="2.00" fill="#008400" />
<rect x="385.00" y="587.00" width="9.00" height="1.00" fill="#008400" />
<rect x="388.00" y="588.00" width="3.00" height="6.00" fill="#008400" />
<rect x="433.00" y="550.00" width="1.00" height="2.00" fill="#008400" />
<rect x="432.00" y="552.00" width="3.00" height="2.00" fill="#008400" />
<rect x="431.00" y="554.00" width="5.00" height="2.00" fill="#008400" />
<rect x="430.00" y="556.00" width="7.00" height="2.00" fill="#008400" />
<rect x="429.00" y="558.00" width="9.00" height="1.00" fill="#008400" />
<rect x="432.00" y="559.00" width="3.00" height="6.00" fill="#008400" />
<rect x="525.00" y="548.00" width="1.00" height="2.00" fill="#008400" />
<rect x="524.00" y="550.00" width="3.00" height="2.00" fill="#008400" />
<rect x="523.00" y="552.00" width="5.00" height="2.00" fill="#008400" />
<rect x="522.00" y="554.00" width="7.00" height="2.00" fill="#008400" />
<rect x="521.00" y="556.00" width="9.00" height="1.00" fill="#008400" />
<rect x="524.00" y="557.00" width="3.00" height="6.00" fill="#008400" />
<rect x="557.00" y="568.00" width="1.00" height="2.00" fill="#008400" />
<rect x="556.00" y="570.00" width="3.00" height="2.00" fill="#008400" />
<rect x="555.00" y="572.00" width="5.00" height="2.00" fill="#008400" />
<rect x="554.00" y="574.00" width="7.00" height="2.00" fill="#008400" />
<rect x="553.00" y="576.00" width="9.00" height="1.00" fill="#008400" />
<rect x="556.00" y="577.00" width="3.00" height="6.00" fill="#008400" />
<rect x="590.00" y="561.00" width="1.00" height="2.00" fill="#008400" />
<rect x="589.00" y="563.00" width="3.00" height="2.00" fill="#008400" />
<rect x="588.00" y="565.00" width="5.00" height="2.00" fill="#008400" />
<rect x="587.00" y="567.00" width="7.00" height="2.00" fill="#008400" />
<rect x="586.00" y="569.00" width="9.00" height="1.00" fill="#008400" />
<rect x="589.00" y="570.00" width="3.00" height="6.00" fill="#008400" />
<rect x="711.00" y="526.00" width="1.00" height="2.00" fill="#008400" />
<rect x="710.00" y="528.00" width="3.00" height="2.00" fill="#008400" />
<rect x="709.00" y="530.00" width="5.00" height="2.00" fill="#008400" />
<rect x="708.00" y="532.00" width="7.00" height="2.00" fill="#008400" />
<rect x="707.00" y="534.00" width="9.00" height="1.00" fill="#008400" />
<rect x="710.00" y="535.00" width="3.00" height="6.00" fill="#008400" />
<text x="9.4" y="742.6" font-family="Liberation Sans, Arial, sans-serif" font-size="12px" fill="#000">2025</text>
<rect x="41.00" y="732.00" width="1.00" height="7.00" fill="#000" />
<text transform="translate(45.3,742.6) scale(0.93,1)" font-family="Liberation Sans, Arial, sans-serif" font-size="12px" fill="#000">Feb</text>
<rect x="111.00" y="732.00" width="1.00" height="7.00" fill="#000" />
<text transform="translate(115.3,742.6) scale(0.93,1)" font-family="Liberation Sans, Arial, sans-serif" font-size="12px" fill="#000">Mar</text>
<rect x="188.00" y="732.00" width="1.00" height="7.00" fill="#000" />
<text transform="translate(192.3,742.6) scale(0.93,1)" font-family="Liberation Sans, Arial, sans-serif" font-size="12px" fill="#000">Apr</text>
<rect x="264.00" y="732.00" width="1.00" height="7.00" fill="#000" />
<text transform="translate(268.3,742.6) scale(0.93,1)" font-family="Liberation Sans, Arial, sans-serif" font-size="12px" fill="#000">May</text>
<rect x="341.00" y="732.00" width="1.00" height="7.00" fill="#000" />
<text transform="translate(345.3,742.6) scale(0.93,1)" font-family="Liberation Sans, Arial, sans-serif" font-size="12px" fill="#000">Jun</text>
<rect x="414.00" y="732.00" width="1.00" height="7.00" fill="#000" />
<text transform="translate(418.3,742.6) scale(0.93,1)" font-family="Liberation Sans, Arial, sans-serif" font-size="12px" fill="#000">Jul</text>
<rect x="494.00" y="732.00" width="1.00" height="7.00" fill="#000" />
<text transform="translate(498.3,742.6) scale(0.93,1)" font-family="Liberation Sans, Arial, sans-serif" font-size="12px" fill="#000">Aug</text>
<rect x="572.00" y="732.00" width="1.00" height="7.00" fill="#000" />
<text transform="translate(576.3,742.6) scale(0.93,1)" font-family="Liberation Sans, Arial, sans-serif" font-size="12px" fill="#000">Sep</text>
<rect x="649.00" y="732.00" width="1.00" height="7.00" fill="#000" />
<text transform="translate(653.3,742.6) scale(0.93,1)" font-family="Liberation Sans, Arial, sans-serif" font-size="12px" fill="#000">Oct</text>
<text x="776" y="453.8" text-anchor="end" font-family="Liberation Sans, Arial, sans-serif" font-size="12px" fill="#000">44</text>
<text x="776" y="491.8" text-anchor="end" font-family="Liberation Sans, Arial, sans-serif" font-size="12px" fill="#000">42</text>
<text x="776" y="530.8" text-anchor="end" font-family="Liberation Sans, Arial, sans-serif" font-size="12px" fill="#000">40</text>
<text x="776" y="569.8" text-anchor="end" font-family="Liberation Sans, Arial, sans-serif" font-size="12px" fill="#000">38</text>
<text x="776" y="607.8" text-anchor="end" font-family="Liberation Sans, Arial, sans-serif" font-size="12px" fill="#000">36</text>
<text x="776" y="646.8" text-anchor="end" font-family="Liberation Sans, Arial, sans-serif" font-size="12px" fill="#000">34</text>
<text x="776" y="685.8" text-anchor="end" font-family="Liberation Sans, Arial, sans-serif" font-size="12px" fill="#000">32</text>
<text x="776" y="723.8" text-anchor="end" font-family="Liberation Sans, Arial, sans-serif" font-size="12px" fill="#000">30</text>
<text transform="translate(10.5,11) scale(0.94,1)" font-family="Liberation Sans, Arial, sans-serif" font-size="12px" fill="#000">EGGY</text>
<text transform="translate(46.5,11) scale(1.0,1)" font-family="Liberation Sans, Arial, sans-serif" font-size="12px" fill="#000">-</text>
<text transform="translate(53.5,11) scale(0.95,1)" font-family="Liberation Sans, Arial, sans-serif" font-size="12px" fill="#000">Daily</text>
<text transform="translate(83.5,11) scale(1.04,1)" font-family="Liberation Sans, Arial, sans-serif" font-size="12px" fill="#000">2025-10-24</text>
<text transform="translate(150.9,11) scale(1.0,1)" font-family="Liberation Sans, Arial, sans-serif" font-size="12px" fill="#000">Open</text>
<text transform="translate(183.5,11) scale(1.015,1)" font-family="Liberation Sans, Arial, sans-serif" font-size="12px" fill="#000">40.48</text>
<text transform="translate(220.9,11) scale(1.0,1)" font-family="Liberation Sans, Arial, sans-serif" font-size="12px" fill="#000">High</text>
<text transform="translate(248.9,11) scale(1.015,1)" font-family="Liberation Sans, Arial, sans-serif" font-size="12px" fill="#000">40.9</text>
<text transform="translate(279.3,11) scale(1.0,1)" font-family="Liberation Sans, Arial, sans-serif" font-size="12px" fill="#000">Low</text>
<text transform="translate(305.9,11) scale(1.015,1)" font-family="Liberation Sans, Arial, sans-serif" font-size="12px" fill="#000">40.45</text>
<text transform="translate(342.9,11) scale(1.0,1)" font-family="Liberation Sans, Arial, sans-serif" font-size="12px" fill="#000">Close</text>
<text transform="translate(378.3,11) scale(1.015,1)" font-family="Liberation Sans, Arial, sans-serif" font-size="12px" fill="#000">40.59</text>
<text transform="translate(412.5,11) scale(1.0,1)" font-family="Liberation Sans, Arial, sans-serif" font-size="12px" fill="#000">(2.0%)</text>
<text transform="translate(9.9,25) scale(1.0,1)" font-family="Liberation Sans, Arial, sans-serif" font-size="12px" fill="#000">Vol</text>
<text transform="translate(30.3,25) scale(1.015,1)" font-family="Liberation Sans, Arial, sans-serif" font-size="12px" fill="#000">67,287</text>
<text transform="translate(71.5,25) scale(1.03,1)" font-family="Liberation Sans, Arial, sans-serif" font-size="12px" fill="#ff00ff">Res-1</text>
<text transform="translate(108.5,25) scale(1.0,1)" font-family="Liberation Sans, Arial, sans-serif" font-size="12px" fill="#000">=</text>
<text transform="translate(118.3,25) scale(1.015,1)" font-family="Liberation Sans, Arial, sans-serif" font-size="12px" fill="#000">40.75,</text>
<text transform="translate(154.9,25) scale(1.03,1)" font-family="Liberation Sans, Arial, sans-serif" font-size="12px" fill="#ff0000">Res-2</text>
<text transform="translate(192.3,25) scale(1.0,1)" font-family="Liberation Sans, Arial, sans-serif" font-size="12px" fill="#000">=</text>
<text transform="translate(202.9,25) scale(1.015,1)" font-family="Liberation Sans, Arial, sans-serif" font-size="12px" fill="#000">41.23,</text>
<text transform="translate(238.9,25) scale(1.03,1)" font-family="Liberation Sans, Arial, sans-serif" font-size="12px" fill="#0000ff">Sup-1</text>
<text transform="translate(275.9,25) scale(1.0,1)" font-family="Liberation Sans, Arial, sans-serif" font-size="12px" fill="#000">=</text>
<text transform="translate(285.9,25) scale(1.015,1)" font-family="Liberation Sans, Arial, sans-serif" font-size="12px" fill="#000">39.76,</text>
<text transform="translate(322.9,25) scale(1.03,1)" font-family="Liberation Sans, Arial, sans-serif" font-size="12px" fill="#009900">Sup-2</text>
<text transform="translate(358.5,25) scale(1.0,1)" font-family="Liberation Sans, Arial, sans-serif" font-size="12px" fill="#000">=</text>
<text transform="translate(368.9,25) scale(1.015,1)" font-family="Liberation Sans, Arial, sans-serif" font-size="12px" fill="#000">37.67</text>
<text transform="translate(10.4,324.5) scale(0.94,1)" font-family="Liberation Sans, Arial, sans-serif" font-size="12px" fill="#000">EGGY</text>
<text transform="translate(46.7,324.5) scale(1.0,1)" font-family="Liberation Sans, Arial, sans-serif" font-size="12px" fill="#000">-</text>
<text transform="translate(53.7,324.5) scale(0.95,1)" font-family="Liberation Sans, Arial, sans-serif" font-size="12px" fill="#ff0000">Line</text>
<text transform="translate(80.4,324.5) scale(1.0,1)" font-family="Liberation Sans, Arial, sans-serif" font-size="12px" fill="#000">=</text>
<text transform="translate(91.2,324.5) scale(1.015,1)" font-family="Liberation Sans, Arial, sans-serif" font-size="12px" fill="#000">36.30,</text>
<text transform="translate(126.9,324.5) scale(0.96,1)" font-family="Liberation Sans, Arial, sans-serif" font-size="12px" fill="#000">Top</text>
<text transform="translate(149.9,324.5) scale(1.0,1)" font-family="Liberation Sans, Arial, sans-serif" font-size="12px" fill="#000">=</text>
<text transform="translate(160.9,324.5) scale(1.015,1)" font-family="Liberation Sans, Arial, sans-serif" font-size="12px" fill="#000">86.14,</text>
<text transform="translate(199.9,324.5) scale(0.96,1)" font-family="Liberation Sans, Arial, sans-serif" font-size="12px" fill="#000">Bottom</text>
<text transform="translate(240.9,324.5) scale(1.0,1)" font-family="Liberation Sans, Arial, sans-serif" font-size="12px" fill="#000">=</text>
<text transform="translate(252.4,324.5) scale(1.015,1)" font-family="Liberation Sans, Arial, sans-serif" font-size="12px" fill="#000">15.00,</text>
<text transform="translate(287.9,324.5) scale(1.0,1)" font-family="Liberation Sans, Arial, sans-serif" font-size="12px" fill="#0000ff">Signal</text>
<text transform="translate(325.9,324.5) scale(1.0,1)" font-family="Liberation Sans, Arial, sans-serif" font-size="12px" fill="#000">=</text>
<text transform="translate(337.4,324.5) scale(1.015,1)" font-family="Liberation Sans, Arial, sans-serif" font-size="12px" fill="#000">35.24</text>
<text transform="translate(10.5,421.7) scale(0.94,1)" font-family="Liberation Sans, Arial, sans-serif" font-size="12px" fill="#000">EGGY</text>
<text transform="translate(46.5,421.7) scale(1.0,1)" font-family="Liberation Sans, Arial, sans-serif" font-size="12px" fill="#000">-</text>
<text transform="translate(53.5,421.7) scale(0.95,1)" font-family="Liberation Sans, Arial, sans-serif" font-size="12px" fill="#000">Daily</text>
<text transform="translate(83.5,421.7) scale(1.04,1)" font-family="Liberation Sans, Arial, sans-serif" font-size="12px" fill="#000">2025-10-24</text>
<text transform="translate(150.4,421.7) scale(1.0,1)" font-family="Liberation Sans, Arial, sans-serif" font-size="12px" fill="#000">Open</text>
<text transform="translate(183.7,421.7) scale(1.015,1)" font-family="Liberation Sans, Arial, sans-serif" font-size="12px" fill="#000">40.48,Hi</text>
<text transform="translate(231.2,421.7) scale(1.015,1)" font-family="Liberation Sans, Arial, sans-serif" font-size="12px" fill="#000">40.9,Lo</text>
<text transform="translate(276.9,421.7) scale(1.015,1)" font-family="Liberation Sans, Arial, sans-serif" font-size="12px" fill="#000">40.45,</text>
<text transform="translate(313.9,421.7) scale(1.0,1)" font-family="Liberation Sans, Arial, sans-serif" font-size="12px" fill="#000">Close</text>
<text transform="translate(348.9,421.7) scale(1.015,1)" font-family="Liberation Sans, Arial, sans-serif" font-size="12px" fill="#000">40.59</text>
<text transform="translate(383.2,421.7) scale(1.0,1)" font-family="Liberation Sans, Arial, sans-serif" font-size="12px" fill="#000">(2.0%)</text>
<text transform="translate(9.9,435.7) scale(1.0,1)" font-family="Liberation Sans, Arial, sans-serif" font-size="12px" fill="#000">Vol</text>
<text transform="translate(30.3,435.7) scale(1.015,1)" font-family="Liberation Sans, Arial, sans-serif" font-size="12px" fill="#000">6,728,700</text>
<text transform="translate(88.9,435.7) scale(0.96,1)" font-family="Liberation Sans, Arial, sans-serif" font-size="12px" fill="#ff0000">Top</text>
<text transform="translate(112.9,435.7) scale(1.0,1)" font-family="Liberation Sans, Arial, sans-serif" font-size="12px" fill="#000">=</text>
<text transform="translate(122.3,435.7) scale(1.015,1)" font-family="Liberation Sans, Arial, sans-serif" font-size="12px" fill="#000">41.82,</text>
<text transform="translate(159.4,435.7) scale(0.96,1)" font-family="Liberation Sans, Arial, sans-serif" font-size="12px" fill="#009900">Bottom</text>
<text transform="translate(202.4,435.7) scale(1.0,1)" font-family="Liberation Sans, Arial, sans-serif" font-size="12px" fill="#000">=</text>
<text transform="translate(212.9,435.7) scale(1.015,1)" font-family="Liberation Sans, Arial, sans-serif" font-size="12px" fill="#000">40.09,</text>
<text transform="translate(247.9,435.7) scale(1.0,1)" font-family="Liberation Sans, Arial, sans-serif" font-size="12px" fill="#0000ff">Trend</text>
<text transform="translate(284.4,435.7) scale(1.0,1)" font-family="Liberation Sans, Arial, sans-serif" font-size="12px" fill="#000">=</text>
<text transform="translate(294.9,435.7) scale(1.015,1)" font-family="Liberation Sans, Arial, sans-serif" font-size="12px" fill="#000">38.13</text>
</svg>
</body></html>
